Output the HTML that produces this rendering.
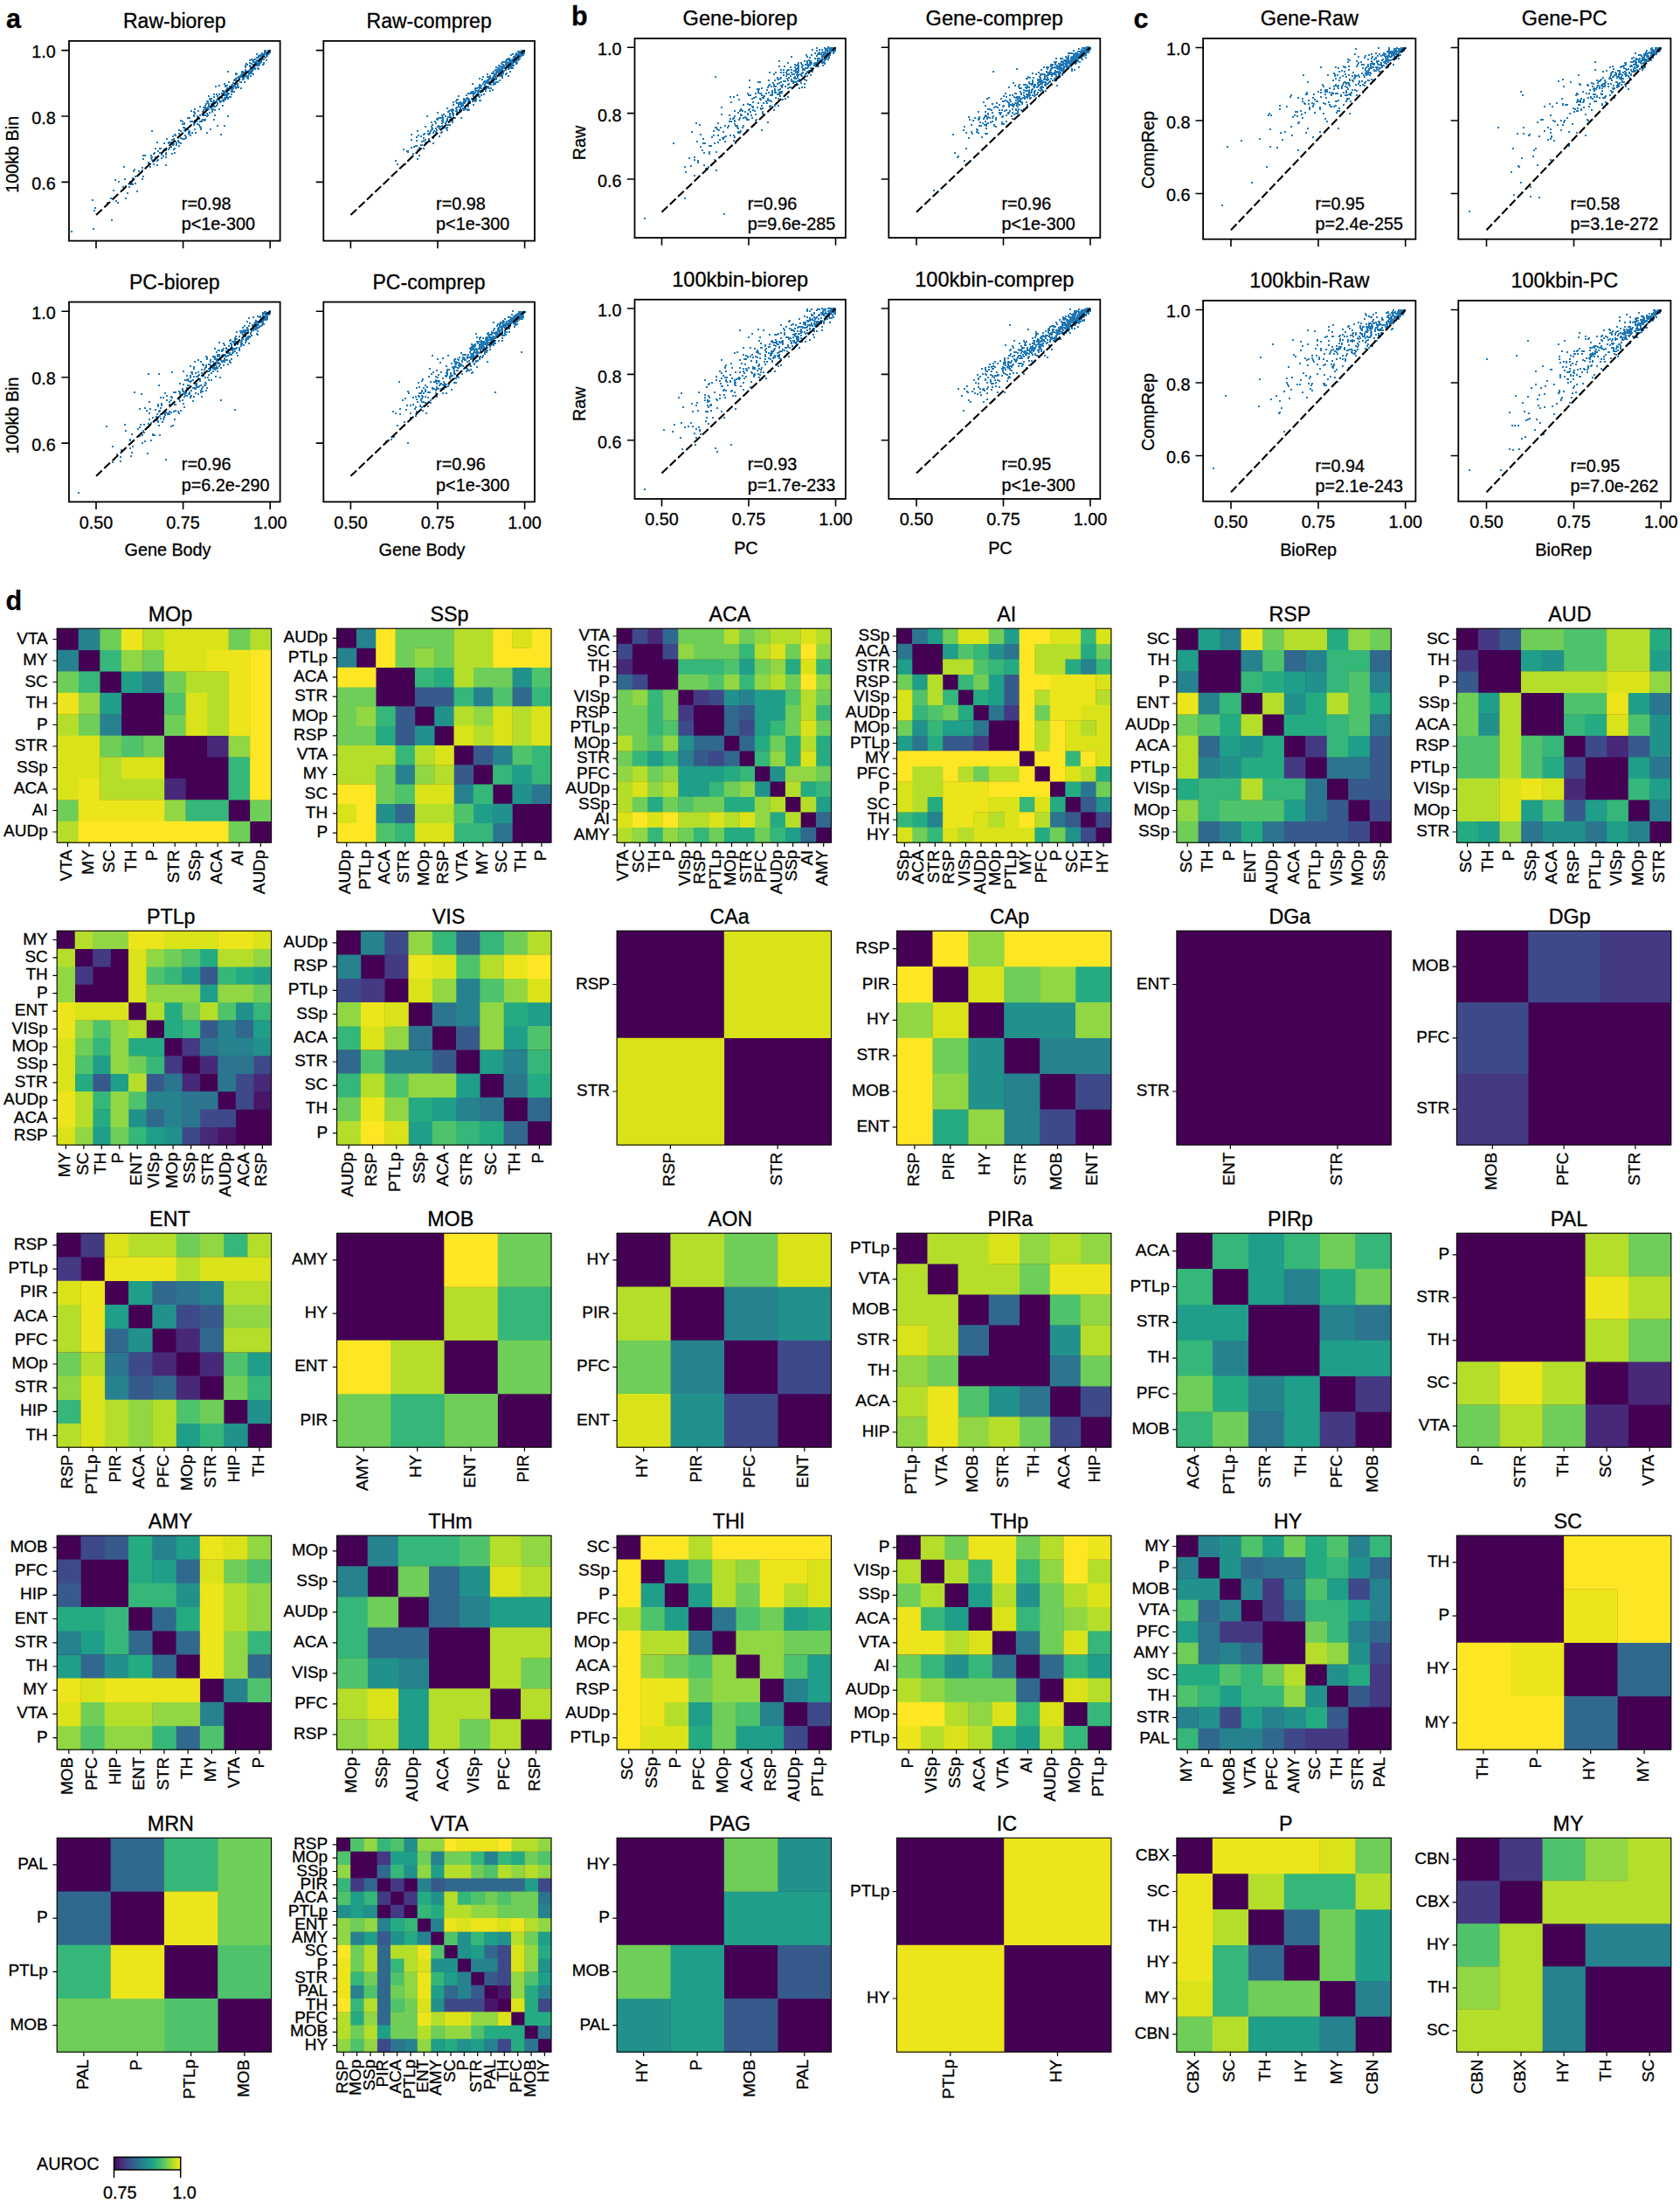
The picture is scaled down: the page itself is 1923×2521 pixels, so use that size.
<!DOCTYPE html>
<html lang="en"><head><meta charset="utf-8"><title>Figure</title>
<style>html,body{margin:0;padding:0;background:#fff;overflow:hidden}svg{display:block}text{stroke:#000;stroke-width:.3px}</style></head>
<body>
<svg width="1923" height="2521" viewBox="0 0 1923 2521" font-family='"Liberation Sans", sans-serif' fill="#000">
<text x="6.9" y="32.2" font-size="30.5" font-weight="bold">a</text>
<path d="M264 101h0M231 139h0M309 59h0M289 69h0M211 159h0M259 112h0M136 208h0M243 119h0M303 58h0M199 159h0M216 153h0M267 98h0M309 60h0M281 80h0M175 185h0M301 65h0M278 88h0M278 90h0M303 59h0M234 128h0M238 132h0M172 191h0M308 58h0M256 104h0M215 148h0M202 164h0M305 62h0M264 111h0M234 138h0M270 90h0M176 188h0M295 69h0M258 99h0M207 150h0M274 91h0M207 138h0M249 110h0M292 75h0M181 173h0M278 85h0M231 138h0M130 227h0M280 86h0M157 219h0M190 172h0M233 131h0M193 171h0M261 113h0M150 211h0M292 74h0M163 195h0M256 116h0M211 146h0M292 79h0M267 99h0M238 116h0M265 103h0M237 130h0M277 82h0M287 81h0M225 139h0M223 138h0M307 58h0M305 69h0M285 85h0M307 62h0M260 110h0M209 159h0M305 64h0M195 163h0M286 84h0M170 188h0M254 107h0M187 179h0M152 206h0M283 74h0M141 214h0M216 151h0M307 60h0M248 121h0M183 175h0M307 58h0M272 97h0M266 100h0M277 82h0M300 68h0M287 77h0M288 83h0M308 61h0M291 77h0M239 110h0M242 124h0M272 96h0M133 230h0M212 150h0M218 139h0M238 124h0M164 178h0M264 100h0M223 129h0M304 61h0M245 115h0M205 167h0M248 116h0M279 87h0M291 76h0M276 101h0M176 176h0M284 83h0M254 112h0M266 100h0M266 100h0M163 192h0M284 88h0M265 105h0M249 113h0M290 75h0M244 122h0M280 88h0M226 142h0M278 88h0M292 68h0M135 232h0M237 116h0M183 170h0M300 68h0M251 108h0M218 155h0M284 90h0M283 89h0M245 121h0M185 177h0M269 99h0M219 143h0M296 79h0M159 196h0M261 112h0M285 84h0M222 143h0M270 101h0M265 108h0M255 115h0M246 118h0M297 67h0M197 160h0M272 99h0M252 117h0M205 163h0M256 105h0M251 125h0M211 141h0M207 158h0M298 72h0M174 183h0M130 218h0M266 97h0M153 196h0M240 122h0M242 113h0M154 194h0M239 125h0M271 85h0M123 232h0M261 102h0M283 87h0M269 97h0M210 146h0M223 148h0M281 81h0M237 124h0M250 112h0M246 132h0M207 155h0M201 155h0M265 104h0M149 208h0M302 73h0M173 181h0M281 87h0M269 91h0M200 175h0M302 62h0M282 84h0M301 63h0M243 126h0M266 102h0M251 98h0M244 125h0M190 175h0M308 59h0M270 101h0M211 142h0M303 58h0M286 83h0M263 111h0M227 127h0M278 82h0M268 92h0M298 63h0M295 75h0M198 164h0M288 84h0M220 152h0M109 238h0M249 119h0M294 62h0M288 78h0M289 80h0M286 76h0M222 128h0M260 101h0M199 171h0M174 183h0M223 130h0M198 166h0M278 91h0M299 63h0M281 83h0M217 153h0M194 169h0M257 112h0M212 147h0M298 68h0M241 115h0M272 89h0M265 108h0M226 133h0M286 75h0M293 71h0M238 118h0M235 132h0M262 107h0M233 123h0M256 114h0M290 85h0M290 71h0M185 181h0M233 132h0M258 114h0M246 126h0M213 157h0M291 77h0M170 186h0M301 74h0M108 241h0M234 137h0M213 157h0M255 104h0M297 69h0M229 145h0M281 75h0M306 64h0M288 77h0M259 103h0M304 58h0M287 81h0M188 164h0M275 94h0M222 132h0M286 83h0M196 168h0M166 178h0M243 119h0M144 213h0M132 206h0M232 128h0M229 139h0M235 123h0M211 159h0M248 108h0M294 66h0M267 101h0M204 162h0M243 119h0M277 88h0M299 71h0M273 88h0M224 152h0M307 61h0M287 80h0M151 210h0M281 83h0M211 159h0M297 67h0M285 81h0M308 60h0M297 74h0M297 74h0M244 117h0M302 68h0M276 88h0M288 73h0M298 64h0M164 182h0M299 69h0M292 79h0M296 66h0M274 89h0M309 60h0M300 66h0M236 119h0M302 62h0M300 64h0M267 95h0M255 107h0M229 132h0M292 73h0M277 83h0M245 121h0M245 108h0M177 184h0M303 60h0M289 77h0M296 72h0M223 125h0M222 142h0M228 143h0M266 103h0M258 108h0M219 127h0M226 135h0M205 149h0M289 81h0M235 125h0M242 116h0M307 60h0M272 97h0M233 126h0M242 119h0M202 166h0M262 103h0M262 103h0M230 148h0M301 63h0M270 92h0M199 165h0M235 137h0M262 94h0M263 99h0M245 111h0M258 98h0M295 73h0M308 59h0M281 85h0M292 75h0M142 216h0M253 111h0M222 133h0M282 82h0M228 136h0M223 141h0M238 123h0M217 152h0M204 161h0M257 107h0M290 79h0M293 73h0M249 119h0M282 73h0M191 159h0M205 153h0M306 61h0M286 69h0M265 98h0M209 153h0M152 204h0M178 180h0M240 113h0M263 101h0M288 68h0M253 116h0M174 180h0M271 100h0M270 85h0M308 60h0M260 105h0M200 154h0M300 61h0M180 189h0M201 162h0M107 262h0M265 99h0M196 165h0M242 123h0M217 150h0M290 77h0M261 108h0M239 121h0M286 72h0M255 121h0M257 107h0M288 80h0M220 139h0M146 221h0M286 80h0M276 94h0M294 69h0M197 163h0M190 172h0M302 63h0M243 122h0M273 100h0M193 163h0M290 74h0M262 103h0M260 98h0M143 205h0M266 105h0M259 110h0M178 170h0M307 60h0M278 91h0M243 128h0M279 90h0M259 108h0M144 227h0M235 128h0M246 126h0M213 158h0M235 121h0M246 122h0M302 65h0M276 86h0M277 84h0M251 115h0M232 131h0M190 177h0M209 139h0M239 119h0M284 87h0M248 116h0M279 83h0M254 107h0M270 84h0M217 135h0M260 107h0M200 162h0M272 100h0M252 111h0M188 171h0M247 99h0M188 171h0M302 72h0M291 78h0M155 202h0M207 164h0M304 66h0M295 73h0M271 92h0M248 117h0M244 125h0M184 170h0M152 211h0M148 214h0M268 105h0M164 202h0M278 84h0M197 176h0M295 72h0M299 65h0M293 75h0M255 108h0M163 205h0M296 64h0M173 178h0M264 99h0M280 94h0M292 78h0M177 175h0M229 122h0M295 70h0M290 70h0M180 184h0M258 108h0M244 119h0M261 101h0M295 78h0M198 156h0M291 68h0M200 170h0M296 75h0M309 58h0M212 155h0M190 189h0M301 63h0M211 149h0M257 109h0M180 163h0M304 62h0M253 116h0M258 105h0M237 133h0M240 129h0M127 227h0M280 88h0M181 183h0M215 135h0M291 71h0M304 60h0M308 58h0M275 87h0M281 77h0M286 80h0M257 96h0M232 137h0M289 77h0M306 64h0M271 96h0M193 164h0M209 142h0M265 104h0M289 77h0M297 70h0M155 210h0M190 180h0M227 135h0M287 87h0M248 115h0M298 68h0M249 118h0M241 148h0M249 144h0M257 144h0M237 152h0M253 154h0M230 146h0M245 137h0M261 133h0M174 150h0M82 265h0M106 229h0M128 252h0M142 191h0M261 82h0" stroke="#1f77b4" stroke-width="2" stroke-linecap="square" fill="none"/>
<path d="M110 246.1L309.2 57.6" stroke="#000" stroke-width="2.1" stroke-dasharray="9.3 3.5" fill="none"/>
<rect x="79" y="46.9" width="241.6" height="228.7" fill="none" stroke="#000" stroke-width="1.8"/>
<path d="M110 275.6v8.6M209.6 275.6v8.6M309.2 275.6v8.6M79 57.6h-8.6M79 133h-8.6M79 208.4h-8.6" stroke="#000" stroke-width="1.6" fill="none"/>
<text x="199.8" y="32.2" font-size="23.0" text-anchor="middle">Raw-biorep</text>
<text x="207.8" y="239.6" font-size="19.8" text-anchor="start">r=0.98</text>
<text x="207.8" y="263.3" font-size="19.8" text-anchor="start">p&lt;1e-300</text>
<text x="63.7" y="66.3" font-size="19.8" text-anchor="end">1.0</text>
<text x="63.7" y="141.7" font-size="19.8" text-anchor="end">0.8</text>
<text x="63.7" y="217.1" font-size="19.8" text-anchor="end">0.6</text>
<path d="M578 77h0M569 81h0M485 158h0M567 85h0M586 72h0M587 68h0M558 95h0M500 136h0M540 107h0M565 90h0M587 78h0M558 92h0M544 103h0M508 146h0M512 149h0M512 143h0M569 81h0M507 147h0M549 105h0M543 107h0M534 109h0M578 78h0M536 115h0M482 166h0M494 140h0M495 143h0M515 134h0M551 109h0M558 99h0M579 74h0M552 105h0M499 141h0M557 94h0M474 168h0M585 69h0M556 95h0M480 170h0M496 152h0M594 59h0M509 146h0M543 111h0M504 135h0M512 136h0M530 124h0M591 71h0M580 74h0M561 87h0M479 155h0M587 69h0M592 62h0M467 184h0M550 101h0M480 169h0M518 129h0M585 69h0M544 102h0M592 68h0M498 139h0M593 66h0M595 66h0M571 85h0M593 69h0M577 78h0M586 70h0M563 92h0M574 78h0M519 132h0M513 134h0M556 104h0M600 58h0M553 104h0M540 113h0M542 110h0M543 107h0M575 88h0M599 62h0M503 146h0M545 104h0M507 138h0M594 60h0M508 131h0M568 84h0M530 120h0M594 66h0M531 125h0M600 59h0M525 122h0M578 77h0M519 130h0M585 72h0M535 112h0M594 63h0M490 153h0M568 85h0M575 83h0M543 114h0M585 70h0M558 93h0M523 127h0M593 66h0M525 110h0M585 74h0M574 82h0M566 87h0M545 113h0M515 132h0M487 145h0M549 98h0M517 127h0M526 119h0M551 101h0M540 106h0M483 162h0M561 94h0M501 145h0M538 107h0M467 174h0M577 75h0M496 164h0M590 63h0M501 129h0M536 107h0M597 62h0M576 83h0M595 61h0M548 110h0M594 61h0M565 91h0M588 65h0M558 88h0M570 94h0M549 101h0M478 172h0M536 122h0M566 91h0M562 93h0M594 60h0M505 152h0M588 65h0M587 62h0M593 63h0M600 58h0M558 95h0M573 87h0M583 71h0M533 115h0M580 73h0M471 154h0M549 99h0M570 82h0M565 82h0M575 86h0M518 138h0M562 93h0M473 176h0M559 91h0M519 132h0M571 75h0M583 67h0M486 153h0M537 115h0M575 78h0M596 60h0M533 123h0M550 100h0M577 75h0M572 81h0M600 60h0M569 80h0M600 60h0M597 60h0M590 69h0M589 66h0M595 65h0M597 58h0M586 69h0M561 88h0M593 65h0M585 77h0M571 75h0M580 76h0M582 68h0M559 92h0M485 154h0M524 114h0M572 81h0M570 78h0M485 170h0M572 79h0M523 128h0M523 126h0M585 71h0M549 101h0M582 67h0M579 85h0M515 132h0M563 94h0M568 81h0M500 149h0M571 81h0M537 116h0M568 83h0M539 106h0M556 99h0M491 154h0M600 61h0M531 117h0M596 59h0M533 121h0M594 60h0M575 89h0M535 126h0M506 151h0M554 102h0M587 70h0M596 62h0M518 131h0M555 94h0M589 70h0M492 162h0M599 61h0M575 71h0M550 115h0M599 59h0M519 120h0M590 65h0M523 131h0M492 153h0M525 118h0M501 137h0M528 127h0M598 58h0M597 60h0M574 76h0M572 76h0M554 101h0M505 152h0M590 66h0M522 116h0M548 100h0M528 120h0M541 96h0M585 76h0M555 93h0M590 69h0M572 83h0M542 108h0M593 59h0M597 64h0M538 116h0M515 143h0M495 147h0M585 73h0M528 119h0M593 67h0M585 73h0M583 69h0M549 104h0M589 66h0M568 83h0M527 125h0M511 147h0M516 126h0M476 167h0M574 76h0M562 101h0M599 63h0M549 115h0M600 60h0M569 80h0M579 74h0M591 66h0M536 113h0M581 72h0M593 65h0M533 115h0M492 152h0M580 84h0M487 160h0M477 157h0M556 99h0M565 90h0M596 63h0M545 109h0M600 59h0M554 100h0M536 121h0M582 87h0M516 136h0M569 94h0M536 125h0M490 150h0M510 133h0M575 89h0M540 106h0M565 87h0M572 87h0M575 77h0M595 67h0M464 188h0M595 67h0M575 85h0M525 118h0M560 101h0M496 158h0M505 148h0M570 83h0M573 83h0M518 125h0M532 123h0M543 115h0M511 139h0M528 122h0M591 69h0M567 86h0M558 85h0M550 106h0M594 63h0M563 84h0M583 76h0M584 76h0M531 126h0M594 62h0M590 66h0M514 134h0M532 118h0M570 79h0M554 94h0M598 63h0M584 72h0M574 81h0M592 63h0M594 64h0M598 61h0M592 66h0M542 120h0M585 72h0M593 66h0M568 84h0M562 97h0M598 61h0M511 143h0M574 86h0M588 66h0M591 67h0M570 83h0M559 100h0M507 140h0M554 108h0M587 72h0M538 116h0M553 96h0M589 67h0M555 99h0M589 65h0M547 104h0M494 148h0M556 93h0M537 114h0M542 111h0M544 106h0M593 65h0M558 93h0M540 105h0M560 89h0M506 144h0M582 79h0M581 75h0M600 58h0M549 97h0M526 126h0M527 124h0M596 59h0M538 116h0M598 60h0M600 60h0M567 80h0M518 127h0M548 103h0M532 125h0M467 173h0M575 80h0M530 119h0M503 147h0M563 91h0M550 104h0M555 97h0M582 68h0M577 77h0M588 75h0M585 75h0M568 94h0M586 74h0M534 113h0M495 148h0M483 166h0M584 71h0M593 67h0M565 97h0M549 111h0M559 99h0M580 70h0M565 96h0M523 118h0M571 78h0M588 70h0M497 150h0M575 83h0M502 145h0M534 113h0M499 147h0M590 63h0M559 88h0M564 89h0M600 58h0M485 161h0M590 66h0M592 69h0M506 138h0M575 80h0M573 86h0M585 63h0M574 85h0M600 60h0M543 107h0M591 73h0M595 65h0M544 116h0M565 94h0M564 90h0M583 72h0M514 127h0M576 76h0M513 128h0M579 74h0M565 92h0M600 59h0M499 151h0M491 159h0M593 59h0M574 78h0M558 94h0M585 69h0M527 117h0M587 75h0M527 123h0M556 103h0M579 77h0M515 137h0M506 132h0M560 91h0M589 71h0M506 141h0M593 68h0M502 144h0M533 114h0M574 80h0M537 126h0M546 108h0M515 130h0M562 90h0M544 101h0M594 67h0M519 126h0M553 103h0M582 73h0M493 150h0M531 115h0M541 114h0M587 69h0M521 135h0M518 140h0M529 118h0M590 67h0M569 94h0M557 101h0M565 89h0M591 61h0M494 145h0M546 101h0M480 178h0M571 85h0M523 123h0M542 107h0M495 148h0M575 81h0M577 71h0M462 171h0M530 121h0M568 91h0M519 117h0M510 141h0M579 72h0M568 77h0M598 63h0M585 70h0M566 90h0M584 70h0M597 60h0M574 73h0M522 124h0M528 122h0M565 84h0M536 116h0M546 108h0M478 150h0M576 83h0M523 129h0M588 69h0M576 84h0M478 182h0M555 93h0M568 90h0M598 61h0M555 100h0M541 116h0M583 78h0M588 68h0M549 90h0M576 76h0M507 136h0M591 72h0M560 94h0M533 125h0M525 120h0M487 160h0M589 68h0M567 88h0M548 108h0M512 146h0M471 169h0M594 68h0M586 75h0M547 106h0M515 138h0M532 117h0M505 135h0M531 118h0M563 90h0M536 115h0M595 60h0M567 96h0M598 59h0M587 74h0M513 143h0M584 72h0M581 77h0M582 72h0M584 68h0M561 104h0M574 82h0M523 114h0M482 156h0M502 135h0M564 89h0M566 95h0M565 95h0M542 105h0M590 63h0M487 163h0M504 145h0M585 71h0M586 77h0M543 111h0M579 70h0M553 88h0M555 99h0M552 91h0M577 81h0M596 64h0M584 82h0M507 134h0M574 83h0M600 61h0M588 67h0M580 75h0M503 156h0M594 59h0M512 138h0M600 59h0M528 135h0M600 59h0M531 113h0M536 118h0M593 64h0M600 58h0M541 105h0M477 167h0M471 160h0M600 59h0M579 80h0M568 89h0M564 103h0M537 118h0M597 58h0M533 116h0M538 118h0M575 79h0M592 72h0M516 134h0M566 86h0M551 98h0M527 128h0M560 89h0M580 68h0M562 94h0M485 154h0M545 115h0M572 92h0M466 173h0M522 127h0M582 74h0M561 96h0M584 73h0M477 161h0M512 124h0M581 76h0M585 78h0M576 74h0M561 89h0M489 133h0M453 184h0M455 188h0" stroke="#1f77b4" stroke-width="2" stroke-linecap="square" fill="none"/>
<path d="M401.4 246.1L600.6 57.6" stroke="#000" stroke-width="2.1" stroke-dasharray="9.3 3.5" fill="none"/>
<rect x="370.3" y="46.9" width="241.7" height="228.7" fill="none" stroke="#000" stroke-width="1.8"/>
<path d="M401.4 275.6v8.6M501 275.6v8.6M600.6 275.6v8.6M370.3 57.6h-8.6M370.3 133h-8.6M370.3 208.4h-8.6" stroke="#000" stroke-width="1.6" fill="none"/>
<text x="491.1" y="32.2" font-size="23.0" text-anchor="middle">Raw-comprep</text>
<text x="499.1" y="239.6" font-size="19.8" text-anchor="start">r=0.98</text>
<text x="499.1" y="263.3" font-size="19.8" text-anchor="start">p&lt;1e-300</text>
<text transform="translate(20.9 176.8) rotate(-90)" font-size="19.8" text-anchor="middle">100kb Bin</text>
<path d="M298 366h0M265 394h0M283 375h0M209 447h0M227 412h0M288 379h0M302 362h0M201 449h0M229 436h0M200 463h0M300 367h0M290 378h0M284 387h0M292 376h0M242 435h0M248 411h0M299 373h0M160 468h0M189 450h0M298 362h0M293 373h0M291 376h0M301 359h0M291 373h0M171 480h0M284 385h0M269 387h0M246 423h0M248 414h0M230 449h0M242 427h0M308 357h0M194 471h0M223 444h0M279 380h0M179 481h0M279 378h0M252 432h0M240 417h0M234 423h0M299 373h0M234 441h0M298 363h0M218 455h0M276 393h0M251 407h0M149 513h0M182 471h0M251 419h0M149 504h0M285 373h0M206 451h0M169 519h0M283 378h0M184 474h0M201 470h0M248 403h0M221 459h0M236 408h0M257 411h0M184 455h0M170 489h0M288 384h0M246 416h0M214 444h0M289 373h0M199 449h0M309 358h0M293 370h0M262 396h0M278 388h0M218 454h0M267 403h0M301 361h0M269 389h0M163 507h0M256 418h0M218 430h0M274 401h0M242 419h0M228 442h0M300 372h0M272 391h0M189 473h0M237 411h0M223 414h0M213 450h0M301 360h0M224 427h0M188 478h0M292 377h0M256 393h0M211 454h0M205 456h0M302 365h0M309 357h0M299 369h0M241 414h0M297 363h0M295 371h0M301 370h0M269 395h0M230 447h0M302 366h0M251 401h0M290 363h0M216 441h0M235 438h0M255 401h0M294 382h0M302 365h0M214 430h0M281 378h0M297 374h0M200 480h0M227 426h0M211 450h0M254 414h0M299 364h0M276 392h0M305 366h0M185 464h0M294 374h0M293 377h0M173 504h0M249 411h0M238 432h0M249 408h0M244 421h0M129 511h0M188 477h0M196 472h0M306 365h0M269 402h0M267 391h0M197 426h0M276 396h0M276 395h0M309 357h0M278 383h0M244 425h0M173 485h0M227 451h0M297 369h0M293 367h0M306 358h0M258 406h0M303 363h0M309 356h0M214 435h0M265 395h0M282 387h0M241 418h0M246 408h0M224 445h0M284 388h0M165 486h0M307 358h0M210 440h0M247 415h0M256 413h0M308 358h0M300 369h0M277 393h0M209 458h0M277 390h0M233 418h0M274 398h0M304 361h0M216 451h0M275 379h0M255 406h0M181 483h0M191 458h0M214 446h0M291 376h0M302 358h0M160 489h0M303 357h0M301 360h0M231 423h0M281 383h0M294 376h0M251 406h0M257 406h0M160 489h0M206 455h0M304 363h0M282 388h0M151 497h0M220 428h0M138 523h0M270 391h0M187 455h0M301 368h0M272 394h0M293 377h0M251 401h0M265 397h0M192 473h0M265 411h0M294 372h0M245 409h0M224 440h0M259 408h0M304 359h0M224 450h0M244 418h0M205 448h0M263 406h0M248 422h0M261 400h0M279 385h0M163 498h0M248 413h0M254 407h0M266 404h0M268 400h0M183 470h0M244 408h0M309 358h0M199 471h0M276 381h0M161 486h0M300 366h0M226 431h0M196 454h0M166 467h0M265 406h0M184 467h0M229 434h0M261 404h0M181 463h0M222 431h0M260 412h0M250 415h0M302 362h0M281 392h0M254 402h0M263 401h0M297 368h0M284 378h0M280 373h0M188 471h0M152 511h0M301 358h0M193 473h0M209 458h0M235 441h0M215 434h0M295 369h0M283 378h0M173 484h0M257 407h0M151 518h0M182 487h0M175 478h0M274 389h0M222 422h0M296 372h0M246 421h0M150 522h0M172 468h0M282 390h0M292 369h0M168 470h0M303 362h0M281 379h0M198 487h0M201 463h0M271 404h0M245 416h0M183 476h0M304 364h0M283 376h0M295 368h0M276 392h0M263 404h0M211 466h0M190 472h0M283 368h0M223 445h0M228 429h0M192 474h0M259 398h0M194 460h0M297 369h0M247 431h0M251 416h0M303 358h0M288 378h0M246 411h0M290 377h0M263 414h0M280 381h0M268 393h0M261 407h0M294 373h0M291 372h0M287 381h0M149 503h0M265 400h0M231 454h0M205 457h0M225 443h0M303 366h0M265 395h0M257 410h0M281 380h0M171 473h0M247 415h0M274 400h0M252 417h0M254 401h0M258 407h0M249 421h0M273 392h0M302 362h0M295 369h0M309 357h0M303 365h0M184 479h0M225 439h0M296 369h0M264 415h0M249 416h0M222 454h0M220 426h0M286 370h0M237 409h0M264 393h0M219 447h0M241 412h0M266 398h0M205 448h0M166 505h0M287 381h0M269 391h0M230 414h0M241 421h0M251 392h0M182 441h0M177 498h0M212 449h0M306 362h0M240 423h0M217 449h0M271 393h0M181 465h0M281 378h0M303 362h0M292 373h0M274 389h0M254 408h0M209 445h0M270 393h0M221 435h0M296 375h0M216 436h0M222 420h0M287 377h0M231 445h0M144 493h0M278 388h0M295 383h0M241 423h0M274 385h0M279 383h0M212 435h0M197 455h0M241 420h0M196 488h0M175 498h0M249 412h0M271 388h0M175 497h0M269 399h0M196 458h0M261 417h0M237 444h0M296 369h0M210 448h0M268 399h0M272 407h0M225 436h0M236 439h0M294 368h0M277 388h0M281 382h0M259 399h0M293 374h0M246 409h0M270 385h0M301 362h0M257 395h0M187 480h0M249 406h0M284 379h0M292 377h0M129 529h0M295 372h0M235 432h0M300 365h0M218 432h0M212 452h0M291 373h0M306 363h0M263 400h0M303 359h0M280 379h0M292 371h0M266 401h0M230 441h0M261 402h0M249 425h0M308 360h0M255 400h0M281 389h0M271 380h0M207 470h0M251 407h0M286 385h0M307 358h0M309 359h0M167 491h0M165 495h0M206 459h0M225 431h0M219 426h0M214 453h0M178 469h0M239 422h0M298 367h0M210 425h0M302 371h0M269 399h0M232 448h0M240 424h0M281 385h0M182 428h0M231 427h0M295 362h0M232 417h0M267 399h0M206 449h0M278 375h0M139 515h0M210 448h0M235 421h0M279 395h0M186 483h0M227 430h0M219 436h0M287 382h0M253 412h0M187 473h0M289 376h0M289 372h0M296 369h0M252 409h0M288 384h0M257 414h0M180 474h0M263 413h0M259 402h0M301 367h0M256 414h0M284 377h0M217 451h0M258 412h0M225 443h0M231 430h0M285 364h0M295 379h0M284 380h0M245 420h0M277 381h0M244 422h0M285 393h0M277 379h0M277 394h0M245 418h0M253 421h0M269 402h0M294 373h0M256 399h0M266 391h0M248 420h0M291 371h0M304 362h0M134 520h0M295 369h0M239 417h0M138 528h0M213 449h0M179 477h0M301 363h0M256 413h0M304 357h0M300 367h0M236 418h0M194 463h0M276 380h0M236 447h0M171 460h0M239 425h0M253 421h0M274 389h0M218 419h0M244 414h0M239 435h0M225 441h0M206 439h0M286 386h0M233 430h0M181 482h0M306 359h0M149 513h0M250 401h0M271 398h0M227 443h0M185 462h0M236 420h0M183 498h0M290 372h0M293 369h0M239 429h0M170 485h0M254 407h0M223 444h0M254 413h0M194 474h0M247 418h0M204 471h0M290 375h0M205 473h0M164 493h0M160 499h0M219 453h0M216 436h0M246 399h0M263 390h0M232 443h0M191 453h0M234 426h0M180 480h0M254 414h0M277 387h0M264 389h0M218 437h0M189 475h0M301 367h0M221 444h0M158 491h0M143 486h0M210 462h0M284 381h0M276 391h0M270 399h0M215 441h0M90 564h0M269 469h0M253 458h0M170 428h0M154 449h0M162 451h0M190 526h0M122 488h0" stroke="#1f77b4" stroke-width="2" stroke-linecap="square" fill="none"/>
<path d="M110 544.8L309.2 356.3" stroke="#000" stroke-width="2.1" stroke-dasharray="9.3 3.5" fill="none"/>
<rect x="79" y="345.6" width="241.6" height="228.7" fill="none" stroke="#000" stroke-width="1.8"/>
<path d="M110 574.3v8.6M209.6 574.3v8.6M309.2 574.3v8.6M79 356.3h-8.6M79 431.7h-8.6M79 507.1h-8.6" stroke="#000" stroke-width="1.6" fill="none"/>
<text x="199.8" y="330.9" font-size="23.0" text-anchor="middle">PC-biorep</text>
<text x="207.8" y="538.3" font-size="19.8" text-anchor="start">r=0.96</text>
<text x="207.8" y="562" font-size="19.8" text-anchor="start">p=6.2e-290</text>
<text x="63.7" y="365" font-size="19.8" text-anchor="end">1.0</text>
<text x="63.7" y="440.4" font-size="19.8" text-anchor="end">0.8</text>
<text x="63.7" y="515.8" font-size="19.8" text-anchor="end">0.6</text>
<text x="110" y="604.9" font-size="19.8" text-anchor="middle">0.50</text>
<text x="209.6" y="604.9" font-size="19.8" text-anchor="middle">0.75</text>
<text x="309.2" y="604.9" font-size="19.8" text-anchor="middle">1.00</text>
<text x="192" y="636.3" font-size="19.8" text-anchor="middle">Gene Body</text>
<path d="M549 411h0M543 417h0M541 426h0M527 419h0M554 397h0M483 448h0M546 391h0M568 385h0M515 431h0M597 358h0M594 357h0M463 483h0M580 370h0M504 439h0M573 382h0M549 394h0M593 365h0M542 413h0M536 406h0M526 419h0M503 441h0M585 370h0M552 394h0M541 409h0M583 368h0M583 369h0M585 364h0M598 357h0M594 359h0M550 400h0M549 399h0M593 364h0M545 382h0M596 361h0M592 361h0M563 380h0M566 393h0M575 382h0M592 365h0M567 390h0M578 382h0M543 408h0M590 361h0M480 450h0M598 359h0M555 394h0M545 414h0M550 394h0M549 397h0M523 431h0M536 409h0M599 358h0M499 446h0M534 420h0M521 428h0M567 390h0M553 393h0M550 396h0M556 392h0M539 409h0M562 391h0M578 365h0M522 438h0M517 416h0M526 416h0M583 371h0M516 431h0M594 362h0M485 465h0M522 433h0M520 424h0M591 371h0M574 374h0M576 371h0M558 414h0M592 368h0M565 385h0M507 433h0M562 388h0M543 401h0M598 357h0M565 381h0M483 436h0M553 396h0M563 383h0M571 390h0M528 418h0M561 397h0M521 411h0M504 415h0M577 373h0M565 393h0M550 399h0M546 402h0M595 360h0M499 431h0M493 437h0M540 427h0M559 383h0M578 378h0M541 410h0M595 357h0M583 372h0M513 442h0M476 476h0M473 463h0M579 370h0M566 376h0M575 378h0M455 487h0M558 382h0M568 386h0M541 396h0M556 392h0M581 372h0M589 367h0M580 372h0M530 419h0M574 382h0M593 363h0M502 445h0M485 450h0M590 365h0M540 409h0M563 389h0M562 390h0M500 424h0M586 368h0M548 404h0M571 383h0M568 380h0M492 449h0M572 381h0M525 421h0M483 453h0M512 427h0M511 427h0M490 465h0M563 394h0M598 365h0M558 387h0M600 358h0M572 373h0M560 389h0M598 357h0M570 382h0M539 408h0M539 419h0M481 465h0M549 404h0M453 473h0M540 394h0M562 391h0M572 379h0M540 405h0M543 410h0M520 438h0M485 460h0M535 422h0M565 388h0M558 393h0M595 362h0M586 369h0M587 366h0M477 471h0M541 400h0M547 413h0M550 398h0M594 360h0M591 367h0M507 450h0M554 391h0M600 358h0M523 415h0M551 392h0M484 454h0M568 383h0M487 441h0M561 387h0M531 422h0M525 418h0M554 391h0M582 371h0M561 388h0M592 364h0M579 375h0M562 395h0M597 363h0M547 393h0M549 404h0M574 377h0M529 428h0M563 387h0M598 361h0M501 411h0M470 478h0M541 414h0M532 406h0M550 391h0M511 450h0M597 358h0M591 361h0M580 380h0M580 370h0M515 433h0M507 444h0M575 380h0M524 424h0M549 409h0M546 386h0M561 392h0M481 464h0M521 416h0M559 392h0M520 413h0M547 403h0M554 393h0M551 397h0M563 387h0M585 370h0M597 359h0M549 388h0M557 397h0M594 364h0M595 362h0M466 464h0M499 437h0M521 415h0M550 408h0M554 394h0M540 408h0M504 440h0M510 430h0M597 364h0M564 386h0M526 417h0M558 401h0M585 370h0M573 371h0M593 364h0M587 366h0M552 399h0M597 361h0M565 391h0M508 437h0M540 397h0M579 371h0M564 391h0M570 376h0M495 445h0M584 373h0M558 389h0M582 375h0M493 461h0M544 394h0M575 387h0M572 378h0M555 405h0M557 393h0M585 370h0M537 413h0M589 374h0M588 367h0M511 431h0M575 382h0M585 369h0M586 364h0M573 383h0M519 422h0M524 430h0M535 408h0M556 389h0M492 422h0M458 468h0M545 400h0M588 362h0M578 380h0M540 399h0M565 389h0M573 382h0M543 397h0M582 371h0M580 368h0M500 454h0M526 416h0M546 405h0M547 403h0M561 400h0M587 364h0M542 404h0M509 441h0M514 440h0M561 394h0M521 411h0M478 460h0M597 360h0M521 419h0M597 360h0M546 400h0M586 365h0M575 376h0M560 385h0M593 366h0M598 359h0M580 376h0M507 433h0M546 403h0M597 360h0M487 454h0M521 415h0M507 440h0M493 458h0M551 393h0M556 387h0M560 392h0M500 439h0M508 441h0M562 390h0M505 426h0M571 377h0M590 365h0M516 429h0M484 470h0M480 454h0M519 420h0M563 381h0M586 360h0M532 410h0M587 364h0M578 381h0M450 471h0M565 381h0M542 395h0M497 437h0M591 362h0M597 357h0M490 455h0M514 423h0M551 390h0M583 374h0M575 383h0M525 415h0M594 362h0M499 435h0M584 368h0M509 439h0M599 357h0M524 411h0M553 398h0M545 404h0M483 466h0M592 361h0M582 363h0M511 443h0M577 372h0M525 412h0M476 466h0M535 414h0M442 505h0M551 403h0M585 369h0M543 400h0M561 388h0M557 387h0M573 378h0M556 401h0M591 360h0M530 406h0M581 375h0M494 428h0M595 359h0M584 370h0M570 371h0M575 390h0M543 416h0M560 386h0M598 359h0M588 370h0M477 444h0M530 411h0M592 368h0M575 380h0M533 406h0M596 357h0M583 380h0M553 394h0M557 395h0M534 425h0M597 359h0M596 365h0M542 409h0M559 381h0M574 375h0M501 432h0M593 361h0M458 474h0M573 374h0M534 420h0M497 445h0M560 385h0M561 393h0M523 424h0M539 398h0M528 404h0M520 428h0M593 365h0M587 365h0M477 457h0M589 368h0M551 393h0M549 395h0M553 395h0M565 369h0M548 391h0M541 400h0M502 429h0M587 356h0M577 371h0M601 357h0M545 400h0M512 429h0M561 393h0M593 362h0M598 358h0M495 444h0M539 411h0M589 363h0M525 432h0M585 366h0M535 410h0M551 396h0M488 473h0M549 387h0M535 424h0M598 361h0M592 361h0M483 460h0M540 410h0M539 423h0M587 369h0M503 436h0M524 415h0M600 357h0M578 374h0M545 399h0M563 391h0M583 374h0M573 369h0M599 359h0M526 409h0M548 399h0M595 357h0M470 473h0M530 410h0M529 413h0M600 357h0M589 364h0M595 363h0M538 409h0M588 368h0M594 359h0M556 394h0M448 503h0M566 387h0M598 359h0M556 399h0M511 419h0M580 372h0M599 357h0M545 408h0M584 372h0M571 375h0M451 500h0M567 382h0M578 375h0M537 413h0M533 412h0M511 440h0M465 469h0M538 417h0M519 434h0M553 387h0M543 409h0M599 363h0M592 360h0M591 367h0M467 507h0M592 364h0M563 382h0M501 436h0M575 369h0M538 409h0M512 425h0M499 450h0M522 420h0M577 368h0M576 374h0M502 437h0M552 409h0M520 426h0M537 418h0M512 423h0M499 447h0M562 386h0M566 391h0M484 434h0M592 367h0M595 361h0M507 410h0M554 394h0M572 384h0M583 368h0M563 382h0M539 401h0M579 383h0M594 361h0M599 362h0M479 438h0M532 412h0M580 375h0M595 359h0M597 358h0M596 363h0M569 373h0M541 408h0M577 384h0M464 456h0M461 458h0M520 412h0M574 375h0M509 440h0M575 373h0M467 448h0M565 381h0M596 357h0M595 363h0M584 366h0M542 398h0M555 403h0M557 403h0M597 361h0M561 388h0M571 378h0M591 365h0M544 403h0M524 421h0M551 396h0M563 383h0M588 365h0M516 427h0M585 368h0M546 405h0M570 377h0M500 445h0M584 363h0M541 405h0M520 421h0M545 407h0M500 443h0M600 357h0M533 412h0M562 392h0M533 421h0M557 392h0M599 357h0M518 420h0M538 399h0M525 421h0M591 371h0M490 449h0M590 372h0M521 433h0M600 358h0M489 443h0M558 395h0M554 399h0M572 380h0M553 407h0M487 446h0M552 398h0M550 386h0M487 461h0M582 367h0M590 368h0M557 386h0M595 363h0M538 403h0M596 362h0M564 391h0M528 417h0M570 379h0M479 453h0M468 450h0M522 414h0M546 420h0M505 439h0M537 424h0M504 440h0M483 447h0M508 445h0M583 376h0M532 412h0M592 364h0M576 369h0M519 421h0M482 450h0M572 371h0M550 402h0M570 382h0M505 445h0M557 390h0M598 357h0M480 443h0M542 405h0M549 404h0M581 376h0M589 371h0M522 420h0M597 357h0M517 446h0M592 371h0M541 395h0M565 395h0M591 363h0M594 366h0M485 444h0M556 388h0M569 381h0M558 386h0M543 403h0M552 393h0M576 367h0M593 359h0M475 468h0M573 383h0M483 456h0M598 359h0M529 414h0M476 466h0M553 391h0M561 388h0M582 370h0M540 407h0M530 409h0M590 369h0M491 431h0M583 369h0M522 417h0M476 454h0M561 383h0M473 455h0M579 373h0M482 457h0M567 393h0M487 448h0M542 407h0M482 458h0M513 407h0M575 387h0M558 391h0M595 357h0M544 396h0M565 378h0M493 458h0M558 398h0M574 375h0M567 386h0M496 426h0M535 409h0M470 464h0M567 381h0M597 360h0M575 377h0M518 430h0M569 383h0M567 387h0M539 405h0M575 384h0M545 413h0M584 367h0M597 403h0M567 449h0M457 437h0M495 407h0" stroke="#1f77b4" stroke-width="2" stroke-linecap="square" fill="none"/>
<path d="M401.4 544.8L600.6 356.3" stroke="#000" stroke-width="2.1" stroke-dasharray="9.3 3.5" fill="none"/>
<rect x="370.3" y="345.6" width="241.7" height="228.7" fill="none" stroke="#000" stroke-width="1.8"/>
<path d="M401.4 574.3v8.6M501 574.3v8.6M600.6 574.3v8.6M370.3 356.3h-8.6M370.3 431.7h-8.6M370.3 507.1h-8.6" stroke="#000" stroke-width="1.6" fill="none"/>
<text x="491.1" y="330.9" font-size="23.0" text-anchor="middle">PC-comprep</text>
<text x="499.1" y="538.3" font-size="19.8" text-anchor="start">r=0.96</text>
<text x="499.1" y="562" font-size="19.8" text-anchor="start">p&lt;1e-300</text>
<text x="401.4" y="604.9" font-size="19.8" text-anchor="middle">0.50</text>
<text x="501" y="604.9" font-size="19.8" text-anchor="middle">0.75</text>
<text x="600.6" y="604.9" font-size="19.8" text-anchor="middle">1.00</text>
<text x="483" y="636.3" font-size="19.8" text-anchor="middle">Gene Body</text>
<text transform="translate(20.9 475.5) rotate(-90)" font-size="19.8" text-anchor="middle">100kb Bin</text>
<text x="654.0" y="29.2" font-size="30.5" font-weight="bold">b</text>
<path d="M853 128h0M923 84h0M902 111h0M877 116h0M918 74h0M881 122h0M883 99h0M815 157h0M939 69h0M956 55h0M844 146h0M935 72h0M857 137h0M823 149h0M949 55h0M924 82h0M927 66h0M886 126h0M871 124h0M820 174h0M870 94h0M893 105h0M942 60h0M942 75h0M834 144h0M863 112h0M812 167h0M879 140h0M929 72h0M841 127h0M950 55h0M949 58h0M944 72h0M846 137h0M865 107h0M893 107h0M928 70h0M862 126h0M954 55h0M950 56h0M950 61h0M954 61h0M925 75h0M872 109h0M926 81h0M841 138h0M913 87h0M808 193h0M921 91h0M897 93h0M950 59h0M921 100h0M921 96h0M944 65h0M921 79h0M861 113h0M847 151h0M933 67h0M910 90h0M948 63h0M945 63h0M954 56h0M848 125h0M805 159h0M950 61h0M895 100h0M944 69h0M928 78h0M956 56h0M902 97h0M851 120h0M886 99h0M911 79h0M880 106h0M910 77h0M941 65h0M868 104h0M927 71h0M946 58h0M795 183h0M955 59h0M840 161h0M923 63h0M905 87h0M845 129h0M921 80h0M911 90h0M950 61h0M950 63h0M861 122h0M887 104h0M861 135h0M912 97h0M890 108h0M951 59h0M812 174h0M938 62h0M845 151h0M807 164h0M826 131h0M945 58h0M941 72h0M872 149h0M891 91h0M952 55h0M941 69h0M948 54h0M919 83h0M919 80h0M806 189h0M830 144h0M859 128h0M944 66h0M869 102h0M941 64h0M840 161h0M903 85h0M820 146h0M845 147h0M879 113h0M913 84h0M943 65h0M950 59h0M954 55h0M951 60h0M840 111h0M836 155h0M935 73h0M944 55h0M858 92h0M871 114h0M862 123h0M795 201h0M900 83h0M874 110h0M871 125h0M849 126h0M856 107h0M914 78h0M892 76h0M857 109h0M923 74h0M849 132h0M878 103h0M913 74h0M835 132h0M936 62h0M877 107h0M913 78h0M917 72h0M945 63h0M949 65h0M894 80h0M913 79h0M948 62h0M858 120h0M884 108h0M896 114h0M953 57h0M873 130h0M942 63h0M948 61h0M890 89h0M925 77h0M835 139h0M883 109h0M884 109h0M818 183h0M947 56h0M947 60h0M947 63h0M859 120h0M799 186h0M895 105h0M913 82h0M901 81h0M882 109h0M811 191h0M945 65h0M837 117h0M947 64h0M921 70h0M932 73h0M817 150h0M884 106h0M865 138h0M884 109h0M881 83h0M910 88h0M886 97h0M906 93h0M948 61h0M836 139h0M953 55h0M935 55h0M919 80h0M924 78h0M864 127h0M848 150h0M949 66h0M900 87h0M842 164h0M950 55h0M935 64h0M799 184h0M920 89h0M874 112h0M833 146h0M938 60h0M909 94h0M947 62h0M912 86h0M918 84h0M892 106h0M948 68h0M887 120h0M936 73h0M909 89h0M938 61h0M836 111h0M886 85h0M856 119h0M898 76h0M868 118h0M828 159h0M930 57h0M948 65h0M937 71h0M785 197h0M929 63h0M893 105h0M885 95h0M888 106h0M841 157h0M862 117h0M925 75h0M946 67h0M934 76h0M945 66h0M956 56h0M847 127h0M926 74h0M817 155h0M899 99h0M890 96h0M872 121h0M955 59h0M954 59h0M945 61h0M884 104h0M859 109h0M887 121h0M818 164h0M907 85h0M922 85h0M944 61h0M856 130h0M942 71h0M945 56h0M930 82h0M872 101h0M822 163h0M883 116h0M855 137h0M855 136h0M902 101h0M837 139h0M944 73h0M897 83h0M893 90h0M905 77h0M905 100h0M918 100h0M944 66h0M857 126h0M888 99h0M936 71h0M936 69h0M795 180h0M866 137h0M935 58h0M910 97h0M943 62h0M822 141h0M948 63h0M841 139h0M924 65h0M949 61h0M798 162h0M888 99h0M850 127h0M940 62h0M791 190h0M841 142h0M897 86h0M919 79h0M943 61h0M845 152h0M929 73h0M955 57h0M926 69h0M901 90h0M867 123h0M929 78h0M927 72h0M846 114h0M922 78h0M802 154h0M948 62h0M867 102h0M914 92h0M951 57h0M851 144h0M919 75h0M870 107h0M911 94h0M881 115h0M851 135h0M800 202h0M888 112h0M895 106h0M901 85h0M948 54h0M939 69h0M824 160h0M942 63h0M874 118h0M914 86h0M880 98h0M944 62h0M936 69h0M879 115h0M894 83h0M947 64h0M950 58h0M915 92h0M934 74h0M873 112h0M842 144h0M924 73h0M848 132h0M913 97h0M820 195h0M890 90h0M933 75h0M933 61h0M828 151h0M943 68h0M865 111h0M953 58h0M902 92h0M873 124h0M924 72h0M914 75h0M932 75h0M888 83h0M908 93h0M945 61h0M917 95h0M784 227h0M902 72h0M914 72h0M927 66h0M887 121h0M945 61h0M807 164h0M899 93h0M913 82h0M936 74h0M806 175h0M915 93h0M955 57h0M894 94h0M860 132h0M916 85h0M829 157h0M894 98h0M819 146h0M903 89h0M789 181h0M942 72h0M893 102h0M947 57h0M830 162h0M944 65h0M913 93h0M902 80h0M853 134h0M908 95h0M911 81h0M937 61h0M918 77h0M914 76h0M936 67h0M941 66h0M828 158h0M831 156h0M812 176h0M956 55h0M814 167h0M887 102h0M821 148h0M884 105h0M937 76h0M878 118h0M930 80h0M891 121h0M875 110h0M891 113h0M945 68h0M840 155h0M881 97h0M941 67h0M906 80h0M847 135h0M827 158h0M871 107h0M836 136h0M848 131h0M929 81h0M856 131h0M850 146h0M891 103h0M902 92h0M941 57h0M880 92h0M906 83h0M924 70h0M909 85h0M892 70h0M897 80h0M906 65h0M840 135h0M841 133h0M887 92h0M914 82h0M953 55h0M865 131h0M941 60h0M822 155h0M894 89h0M936 70h0M928 86h0M914 80h0M903 80h0M882 121h0M856 137h0M887 106h0M933 72h0M855 149h0M858 100h0M952 55h0M854 135h0M899 113h0M892 95h0M844 109h0M868 106h0M912 75h0M904 100h0M928 73h0M942 72h0M826 123h0M805 164h0M915 101h0M944 73h0M802 168h0M804 172h0M943 65h0M944 60h0M792 151h0M953 55h0M863 143h0M906 91h0M873 128h0M892 108h0M839 136h0M942 65h0M954 59h0M927 75h0M915 91h0M825 146h0M937 70h0M954 55h0M916 85h0M879 100h0M858 125h0M938 67h0M932 75h0M950 58h0M956 58h0M938 57h0M918 87h0M784 191h0M903 96h0M913 89h0M911 83h0M844 144h0M917 86h0M924 87h0M947 65h0M936 76h0M868 94h0M847 152h0M893 110h0M953 56h0M910 74h0M826 179h0M874 131h0M870 113h0M947 59h0M943 71h0M923 92h0M913 93h0M939 62h0M944 63h0M909 81h0M895 99h0M896 97h0M922 74h0M862 122h0M738 250h0M819 88h0M829 245h0M771 164h0M797 141h0M801 143h0" stroke="#1f77b4" stroke-width="2" stroke-linecap="square" fill="none"/>
<path d="M757.5 242.7L956.5 54.2" stroke="#000" stroke-width="2.1" stroke-dasharray="9.3 3.5" fill="none"/>
<rect x="726.5" y="44" width="241.4" height="228.1" fill="none" stroke="#000" stroke-width="1.8"/>
<path d="M757.5 272.1v8.6M857 272.1v8.6M956.5 272.1v8.6M726.5 54.2h-8.6M726.5 129.6h-8.6M726.5 205h-8.6" stroke="#000" stroke-width="1.6" fill="none"/>
<text x="847.2" y="28.9" font-size="23.6" text-anchor="middle">Gene-biorep</text>
<text x="855.7" y="239.6" font-size="19.8" text-anchor="start">r=0.96</text>
<text x="855.7" y="263.3" font-size="19.8" text-anchor="start">p=9.6e-285</text>
<text x="711.6" y="63.4" font-size="19.8" text-anchor="end">1.0</text>
<text x="711.6" y="138.8" font-size="19.8" text-anchor="end">0.8</text>
<text x="711.6" y="214.2" font-size="19.8" text-anchor="end">0.6</text>
<path d="M1159 109h0M1184 106h0M1225 76h0M1236 66h0M1163 130h0M1239 64h0M1189 98h0M1201 94h0M1241 57h0M1147 126h0M1211 83h0M1120 128h0M1211 76h0M1240 60h0M1235 56h0M1191 85h0M1229 71h0M1226 68h0M1231 68h0M1128 153h0M1209 71h0M1183 89h0M1205 92h0M1200 85h0M1247 58h0M1195 85h0M1137 133h0M1238 63h0M1104 145h0M1209 82h0M1146 129h0M1233 61h0M1188 99h0M1163 107h0M1125 141h0M1202 82h0M1161 111h0M1233 62h0M1202 93h0M1246 58h0M1144 129h0M1205 74h0M1203 90h0M1166 115h0M1245 57h0M1212 73h0M1181 105h0M1164 111h0M1166 125h0M1118 151h0M1166 111h0M1218 76h0M1152 139h0M1211 77h0M1154 130h0M1176 90h0M1220 75h0M1223 61h0M1191 90h0M1218 73h0M1168 115h0M1213 80h0M1126 136h0M1169 126h0M1176 98h0M1223 78h0M1220 75h0M1243 66h0M1106 152h0M1226 66h0M1227 68h0M1245 55h0M1179 106h0M1225 70h0M1215 71h0M1180 106h0M1202 84h0M1142 123h0M1191 96h0M1202 85h0M1241 59h0M1226 72h0M1126 117h0M1159 121h0M1216 67h0M1210 75h0M1236 71h0M1230 66h0M1223 67h0M1120 137h0M1237 65h0M1233 64h0M1179 112h0M1200 95h0M1207 85h0M1242 58h0M1208 73h0M1154 117h0M1133 125h0M1163 125h0M1234 69h0M1212 83h0M1189 83h0M1226 76h0M1213 88h0M1214 79h0M1247 56h0M1246 60h0M1199 91h0M1185 109h0M1244 56h0M1190 91h0M1192 92h0M1225 71h0M1221 74h0M1212 79h0M1175 111h0M1228 73h0M1152 132h0M1166 112h0M1191 100h0M1120 136h0M1175 123h0M1220 71h0M1239 59h0M1116 135h0M1159 119h0M1140 145h0M1226 74h0M1169 101h0M1150 127h0M1245 58h0M1221 76h0M1210 82h0M1193 95h0M1241 64h0M1238 63h0M1238 58h0M1221 66h0M1194 94h0M1173 111h0M1172 97h0M1239 61h0M1138 144h0M1178 105h0M1210 77h0M1203 76h0M1248 55h0M1215 75h0M1171 112h0M1198 82h0M1235 62h0M1155 118h0M1227 74h0M1245 57h0M1245 57h0M1235 77h0M1232 62h0M1196 91h0M1234 65h0M1193 96h0M1155 120h0M1223 71h0M1240 64h0M1166 112h0M1133 135h0M1227 69h0M1231 72h0M1194 94h0M1180 112h0M1223 70h0M1167 101h0M1202 81h0M1210 83h0M1197 94h0M1176 110h0M1223 70h0M1185 104h0M1129 144h0M1227 81h0M1212 84h0M1148 133h0M1093 175h0M1238 57h0M1159 129h0M1192 103h0M1127 134h0M1213 85h0M1191 96h0M1220 73h0M1233 65h0M1179 109h0M1151 115h0M1136 119h0M1182 109h0M1113 153h0M1103 149h0M1204 87h0M1184 107h0M1211 83h0M1200 83h0M1234 68h0M1169 108h0M1200 86h0M1165 118h0M1213 76h0M1188 92h0M1121 134h0M1244 54h0M1140 145h0M1230 63h0M1172 103h0M1207 77h0M1230 71h0M1144 120h0M1122 140h0M1209 88h0M1191 86h0M1129 147h0M1202 93h0M1235 62h0M1234 67h0M1184 97h0M1168 113h0M1242 58h0M1135 126h0M1193 93h0M1208 77h0M1208 77h0M1212 85h0M1242 55h0M1182 96h0M1220 74h0M1205 78h0M1239 55h0M1131 130h0M1124 157h0M1169 107h0M1230 68h0M1162 118h0M1230 65h0M1215 79h0M1149 110h0M1208 81h0M1128 139h0M1221 69h0M1228 65h0M1156 109h0M1175 101h0M1240 60h0M1185 98h0M1176 122h0M1213 87h0M1114 138h0M1239 62h0M1203 74h0M1186 85h0M1243 62h0M1157 116h0M1244 60h0M1164 121h0M1203 84h0M1236 64h0M1239 61h0M1218 77h0M1199 89h0M1196 86h0M1214 83h0M1161 111h0M1236 66h0M1221 71h0M1185 97h0M1179 109h0M1191 94h0M1233 68h0M1156 127h0M1182 92h0M1147 142h0M1131 131h0M1112 143h0M1236 65h0M1216 71h0M1149 116h0M1209 90h0M1232 63h0M1220 72h0M1185 104h0M1209 78h0M1233 62h0M1233 67h0M1204 97h0M1198 87h0M1217 80h0M1216 86h0M1165 117h0M1104 184h0M1129 142h0M1146 113h0M1210 98h0M1203 83h0M1189 103h0M1212 82h0M1192 100h0M1181 97h0M1205 84h0M1224 75h0M1106 170h0M1109 158h0M1128 128h0M1218 82h0M1136 129h0M1174 104h0M1227 79h0M1234 59h0M1221 73h0M1229 58h0M1151 107h0M1190 97h0M1231 67h0M1155 129h0M1208 91h0M1220 70h0M1232 67h0M1200 91h0M1123 144h0M1201 83h0M1203 80h0M1188 96h0M1189 97h0M1227 69h0M1214 67h0M1159 136h0M1170 119h0M1230 65h0M1207 83h0M1193 85h0M1152 111h0M1175 90h0M1184 105h0M1176 100h0M1209 83h0M1162 107h0M1223 71h0M1219 70h0M1221 77h0M1188 95h0M1161 120h0M1240 61h0M1140 135h0M1223 77h0M1245 55h0M1163 112h0M1222 67h0M1207 90h0M1164 130h0M1218 79h0M1208 84h0M1239 58h0M1229 62h0M1152 111h0M1204 76h0M1217 72h0M1178 103h0M1241 62h0M1223 68h0M1196 94h0M1230 70h0M1241 57h0M1231 66h0M1199 83h0M1173 113h0M1193 85h0M1240 58h0M1193 94h0M1216 81h0M1192 101h0M1191 104h0M1204 76h0M1187 108h0M1156 114h0M1208 84h0M1167 116h0M1240 62h0M1191 95h0M1214 73h0M1222 70h0M1112 151h0M1238 66h0M1209 92h0M1192 80h0M1240 64h0M1231 73h0M1204 78h0M1231 73h0M1128 132h0M1236 59h0M1219 73h0M1227 65h0M1184 110h0M1097 179h0M1136 135h0M1195 91h0M1222 73h0M1196 88h0M1226 74h0M1172 125h0M1230 65h0M1157 120h0M1188 91h0M1177 88h0M1225 70h0M1211 77h0M1196 97h0M1138 123h0M1148 122h0M1131 134h0M1222 68h0M1209 89h0M1153 116h0M1190 92h0M1166 99h0M1165 129h0M1206 85h0M1182 84h0M1145 131h0M1234 66h0M1109 134h0M1209 67h0M1225 70h0M1222 76h0M1215 81h0M1163 118h0M1197 96h0M1231 70h0M1228 68h0M1121 144h0M1216 74h0M1204 85h0M1202 94h0M1191 89h0M1183 99h0M1232 68h0M1244 58h0M1245 55h0M1224 71h0M1205 85h0M1214 74h0M1178 95h0M1128 143h0M1184 100h0M1197 98h0M1172 109h0M1178 100h0M1121 136h0M1203 85h0M1191 95h0M1191 100h0M1211 79h0M1212 86h0M1176 104h0M1163 115h0M1176 112h0M1165 111h0M1235 64h0M1239 58h0M1199 92h0M1211 78h0M1223 64h0M1189 94h0M1221 69h0M1164 119h0M1127 143h0M1194 106h0M1189 97h0M1231 71h0M1237 61h0M1197 104h0M1233 69h0M1241 59h0M1199 86h0M1243 63h0M1178 107h0M1130 113h0M1246 55h0M1208 82h0M1230 80h0M1170 117h0M1215 75h0M1144 126h0M1130 134h0M1217 71h0M1184 99h0M1135 126h0M1176 120h0M1160 95h0M1246 57h0M1240 62h0M1199 79h0M1189 92h0M1179 96h0M1243 60h0M1157 116h0M1181 96h0M1138 143h0M1245 57h0M1178 106h0M1227 70h0M1225 74h0M1096 180h0M1149 121h0M1214 77h0M1174 97h0M1231 66h0M1227 72h0M1234 70h0M1167 111h0M1169 113h0M1162 98h0M1155 100h0M1239 55h0M1147 134h0M1193 103h0M1155 122h0M1169 117h0M1091 154h0M1228 68h0M1131 141h0M1229 67h0M1178 94h0M1167 120h0M1231 64h0M1179 113h0M1191 96h0M1165 119h0M1198 87h0M1133 135h0M1218 69h0M1227 66h0M1136 139h0M1163 126h0M1191 101h0M1217 79h0M1226 71h0M1178 110h0M1229 63h0M1151 115h0M1216 78h0M1196 94h0M1228 69h0M1165 114h0M1220 75h0M1165 127h0M1241 61h0M1149 142h0M1230 67h0M1242 57h0M1207 90h0M1234 63h0M1209 86h0M1192 99h0M1207 71h0M1226 66h0M1200 85h0M1196 94h0M1213 77h0M1182 102h0M1228 66h0M1154 129h0M1214 78h0M1187 100h0M1247 58h0M1200 77h0M1174 100h0M1193 99h0M1130 153h0M1232 69h0M1248 56h0M1242 60h0M1147 140h0M1230 71h0M1236 62h0M1218 73h0M1186 112h0M1224 72h0M1194 100h0M1165 122h0M1231 68h0M1120 152h0M1237 59h0M1168 105h0M1175 108h0M1160 122h0M1128 121h0M1179 89h0M1149 121h0M1181 103h0M1182 94h0M1208 74h0M1134 140h0M1167 97h0M1230 68h0M1231 61h0M1227 72h0M1242 58h0M1177 108h0M1239 60h0M1229 63h0M1159 125h0M1119 149h0M1129 133h0M1227 72h0M1225 61h0M1232 72h0M1132 112h0M1247 57h0M1140 122h0M1220 65h0M1229 65h0M1216 85h0M1236 64h0M1208 82h0M1246 54h0M1190 88h0M1219 69h0M1110 137h0M1232 70h0M1148 116h0M1158 133h0M1217 75h0M1244 60h0M1161 131h0M1220 69h0M1199 90h0M1194 85h0M1238 67h0M1247 58h0M1210 82h0M1140 137h0M1165 112h0M1232 68h0M1181 104h0M1199 96h0M1141 118h0M1219 76h0M1211 88h0M1213 75h0M1246 54h0M1130 136h0M1172 106h0M1152 126h0M1118 148h0M1239 68h0M1246 60h0M1188 106h0M1196 89h0M1131 125h0M1238 62h0M1198 91h0M1241 55h0M1152 126h0M1210 77h0M1229 66h0M1175 117h0M1247 55h0M1236 62h0M1197 98h0M1224 77h0M1232 71h0M1204 77h0M1195 77h0M1223 68h0M1241 55h0M1218 83h0M1215 70h0M1198 77h0M1227 61h0M1231 71h0M1223 66h0M1144 129h0M1203 79h0M1137 82h0M1164 79h0M1069 218h0" stroke="#1f77b4" stroke-width="2" stroke-linecap="square" fill="none"/>
<path d="M1049 242.7L1248 54.2" stroke="#000" stroke-width="2.1" stroke-dasharray="9.3 3.5" fill="none"/>
<rect x="1017.3" y="44" width="242" height="228.1" fill="none" stroke="#000" stroke-width="1.8"/>
<path d="M1049 272.1v8.6M1148.5 272.1v8.6M1248 272.1v8.6M1017.3 54.2h-8.6M1017.3 129.6h-8.6M1017.3 205h-8.6" stroke="#000" stroke-width="1.6" fill="none"/>
<text x="1138.3" y="28.9" font-size="23.6" text-anchor="middle">Gene-comprep</text>
<text x="1146.5" y="239.6" font-size="19.8" text-anchor="start">r=0.96</text>
<text x="1146.5" y="263.3" font-size="19.8" text-anchor="start">p&lt;1e-300</text>
<text transform="translate(669.5 163.4) rotate(-90)" font-size="19.8" text-anchor="middle">Raw</text>
<path d="M863 429h0M948 356h0M950 358h0M847 412h0M946 365h0M884 390h0M907 396h0M896 391h0M942 359h0M813 464h0M889 391h0M886 408h0M828 430h0M892 403h0M887 409h0M855 424h0M857 421h0M808 482h0M933 364h0M852 427h0M842 426h0M955 358h0M950 364h0M882 407h0M926 382h0M882 405h0M807 458h0M898 381h0M837 416h0M807 455h0M898 401h0M780 484h0M938 369h0M933 365h0M901 402h0M815 438h0M943 360h0M810 471h0M909 399h0M851 422h0M890 404h0M812 459h0M821 467h0M860 426h0M881 397h0M929 361h0M797 501h0M847 433h0M896 390h0M850 430h0M913 387h0M927 356h0M940 370h0M867 409h0M937 370h0M820 457h0M941 378h0M920 371h0M846 434h0M892 408h0M831 418h0M779 501h0M909 392h0M841 449h0M906 377h0M886 401h0M927 376h0M901 405h0M907 396h0M932 367h0M952 357h0M894 418h0M891 408h0M895 392h0M868 377h0M892 406h0M954 363h0M929 366h0M906 392h0M851 446h0M793 471h0M862 420h0M943 368h0M918 391h0M917 381h0M810 464h0M882 425h0M906 378h0M910 397h0M945 354h0M929 370h0M821 458h0M799 470h0M955 356h0M950 358h0M900 374h0M922 382h0M908 378h0M864 428h0M866 415h0M852 411h0M913 394h0M946 359h0M932 386h0M871 426h0M908 390h0M888 389h0M894 387h0M871 423h0M788 488h0M927 372h0M953 361h0M919 375h0M956 356h0M820 435h0M944 365h0M909 390h0M949 363h0M934 372h0M829 452h0M951 355h0M914 382h0M936 373h0M854 411h0M938 360h0M902 397h0M883 406h0M831 447h0M796 509h0M905 387h0M836 429h0M943 354h0M943 361h0M946 362h0M814 464h0M847 421h0M925 368h0M927 380h0M904 387h0M880 397h0M877 433h0M871 393h0M824 456h0M898 383h0M855 423h0M841 440h0M885 402h0M910 382h0M798 461h0M921 380h0M943 368h0M910 392h0M864 429h0M935 363h0M839 453h0M859 398h0M896 393h0M820 457h0M911 372h0M950 359h0M876 411h0M915 374h0M868 403h0M801 492h0M955 359h0M954 353h0M826 471h0M884 404h0M910 376h0M917 378h0M942 358h0M929 354h0M876 395h0M841 404h0M868 404h0M949 362h0M956 356h0M924 381h0M940 358h0M945 357h0M884 413h0M885 410h0M937 368h0M913 379h0M826 427h0M934 368h0M844 403h0M824 436h0M887 407h0M933 373h0M833 441h0M869 418h0M918 380h0M927 367h0M894 392h0M924 367h0M954 357h0M955 357h0M860 437h0M915 398h0M917 384h0M923 375h0M936 368h0M940 364h0M894 372h0M956 356h0M905 390h0M864 422h0M955 357h0M800 449h0M948 359h0M951 354h0M781 514h0M851 398h0M874 378h0M932 376h0M908 386h0M814 463h0M934 364h0M955 358h0M818 449h0M772 486h0M899 398h0M842 468h0M936 371h0M933 371h0M945 357h0M830 455h0M816 478h0M951 354h0M812 455h0M930 365h0M954 355h0M927 364h0M917 374h0M870 435h0M891 394h0M849 416h0M887 399h0M929 360h0M948 361h0M885 392h0M842 453h0M829 446h0M940 367h0M795 496h0M932 379h0M949 357h0M955 353h0M906 393h0M892 410h0M914 390h0M913 375h0M947 365h0M904 376h0M935 379h0M902 386h0M916 374h0M944 355h0M880 410h0M914 388h0M777 523h0M922 369h0M915 382h0M864 421h0M947 362h0M920 375h0M883 402h0M894 381h0M956 359h0M856 408h0M933 372h0M841 435h0M913 385h0M824 452h0M881 394h0M836 436h0M802 497h0M929 372h0M927 373h0M770 494h0M896 392h0M843 434h0M838 421h0M884 414h0M826 412h0M914 386h0M931 378h0M914 374h0M916 370h0M782 466h0M830 421h0M943 360h0M949 358h0M900 386h0M951 357h0M893 402h0M869 390h0M870 386h0M854 422h0M953 356h0M875 414h0M880 425h0M837 448h0M939 368h0M851 425h0M911 393h0M952 364h0M938 361h0M807 435h0M927 389h0M911 385h0M925 367h0M868 428h0M851 446h0M876 406h0M956 354h0M852 433h0M941 353h0M830 420h0M952 353h0M784 489h0M930 373h0M924 367h0M811 466h0M932 358h0M889 383h0M941 367h0M876 396h0M881 383h0M859 408h0M851 438h0M932 371h0M808 471h0M911 382h0M929 371h0M949 360h0M883 391h0M924 363h0M908 390h0M870 429h0M870 405h0M933 368h0M892 391h0M838 447h0M832 437h0M876 417h0M864 399h0M935 355h0M912 391h0M950 369h0M913 386h0M948 361h0M953 354h0M836 437h0M877 399h0M924 354h0M863 422h0M842 438h0M862 409h0M922 391h0M872 398h0M814 470h0M956 357h0M861 427h0M934 364h0M826 433h0M887 383h0M811 453h0M854 431h0M941 360h0M828 447h0M861 382h0M829 478h0M921 362h0M937 361h0M918 374h0M870 410h0M912 387h0M917 387h0M894 411h0M780 450h0M854 407h0M830 432h0M943 360h0M941 374h0M892 398h0M952 355h0M948 353h0M872 421h0M919 375h0M845 433h0M916 379h0M882 411h0M831 436h0M908 383h0M859 443h0M811 440h0M924 356h0M931 376h0M809 443h0M867 424h0M948 361h0M936 354h0M890 394h0M915 365h0M876 401h0M831 425h0M886 400h0M824 425h0M903 368h0M856 409h0M869 417h0M841 438h0M913 389h0M866 403h0M825 439h0M952 358h0M942 356h0M954 356h0M950 357h0M950 353h0M938 354h0M954 356h0M934 374h0M931 383h0M807 452h0M926 381h0M908 371h0M838 433h0M871 398h0M915 391h0M924 378h0M827 442h0M867 401h0M801 493h0M933 365h0M895 402h0M760 492h0M791 484h0M876 408h0M889 391h0M812 439h0M892 397h0M820 431h0M797 491h0M922 372h0M848 442h0M853 417h0M952 359h0M888 396h0M952 353h0M917 387h0M869 432h0M910 384h0M922 370h0M826 442h0M869 422h0M920 369h0M866 415h0M906 377h0M809 478h0M887 392h0M851 406h0M927 377h0M883 403h0M861 406h0M930 366h0M943 359h0M880 404h0M874 426h0M921 375h0M923 385h0M895 391h0M887 425h0M897 376h0M904 367h0M831 435h0M900 398h0M846 432h0M792 462h0M932 363h0M912 388h0M930 361h0M927 366h0M797 464h0M945 362h0M952 356h0M868 419h0M950 356h0M842 441h0M891 382h0M847 426h0M810 458h0M951 355h0M889 393h0M811 485h0M932 359h0M810 460h0M862 422h0M800 489h0M896 400h0M793 488h0M924 374h0M936 371h0M917 377h0M877 403h0M902 395h0M857 386h0M866 413h0M886 395h0M925 372h0M932 370h0M876 396h0M906 372h0M903 388h0M878 414h0M832 432h0M891 419h0M893 392h0M896 394h0M865 408h0M943 370h0M935 369h0M944 366h0M947 361h0M935 363h0M841 436h0M934 371h0M898 378h0M937 365h0M903 408h0M904 398h0M909 379h0M944 359h0M860 413h0M952 355h0M890 407h0M876 407h0M863 431h0M738 560h0M847 378h0M821 517h0M819 513h0M837 509h0M777 455h0" stroke="#1f77b4" stroke-width="2" stroke-linecap="square" fill="none"/>
<path d="M757.5 541.5L956.5 353" stroke="#000" stroke-width="2.1" stroke-dasharray="9.3 3.5" fill="none"/>
<rect x="726.5" y="342.8" width="241.4" height="228.1" fill="none" stroke="#000" stroke-width="1.8"/>
<path d="M757.5 570.9v8.6M857 570.9v8.6M956.5 570.9v8.6M726.5 353h-8.6M726.5 428.4h-8.6M726.5 503.8h-8.6" stroke="#000" stroke-width="1.6" fill="none"/>
<text x="847.2" y="327.7" font-size="23.6" text-anchor="middle">100kbin-biorep</text>
<text x="855.7" y="538.4" font-size="19.8" text-anchor="start">r=0.93</text>
<text x="855.7" y="562.1" font-size="19.8" text-anchor="start">p=1.7e-233</text>
<text x="711.6" y="362.2" font-size="19.8" text-anchor="end">1.0</text>
<text x="711.6" y="437.6" font-size="19.8" text-anchor="end">0.8</text>
<text x="711.6" y="513" font-size="19.8" text-anchor="end">0.6</text>
<text x="757.5" y="601.4" font-size="19.8" text-anchor="middle">0.50</text>
<text x="857" y="601.4" font-size="19.8" text-anchor="middle">0.75</text>
<text x="956.5" y="601.4" font-size="19.8" text-anchor="middle">1.00</text>
<text x="853.9" y="633.6" font-size="19.8" text-anchor="middle">PC</text>
<path d="M1212 375h0M1142 429h0M1139 435h0M1125 446h0M1224 376h0M1116 450h0M1231 364h0M1203 388h0M1188 382h0M1182 396h0M1158 419h0M1222 371h0M1128 421h0M1156 432h0M1197 387h0M1161 390h0M1221 367h0M1213 382h0M1147 422h0M1185 398h0M1151 395h0M1232 367h0M1241 359h0M1134 435h0M1246 358h0M1199 409h0M1240 360h0M1187 391h0M1240 360h0M1149 417h0M1182 393h0M1246 353h0M1212 388h0M1234 356h0M1242 354h0M1191 387h0M1204 383h0M1215 376h0M1183 402h0M1241 357h0M1167 401h0M1191 396h0M1205 377h0M1224 372h0M1230 363h0M1242 357h0M1231 361h0M1167 393h0M1247 353h0M1210 382h0M1142 430h0M1239 357h0M1247 354h0M1184 390h0M1228 366h0M1136 422h0M1134 437h0M1202 391h0M1248 355h0M1218 372h0M1188 401h0M1189 389h0M1178 418h0M1156 422h0M1209 381h0M1181 413h0M1202 389h0M1192 402h0M1232 364h0M1163 414h0M1236 358h0M1119 451h0M1220 381h0M1229 368h0M1165 409h0M1194 390h0M1131 432h0M1119 429h0M1142 430h0M1233 365h0M1198 393h0M1193 395h0M1137 419h0M1215 374h0M1204 400h0M1157 405h0M1214 388h0M1246 355h0M1231 360h0M1201 385h0M1223 368h0M1188 388h0M1134 429h0M1241 362h0M1236 360h0M1205 387h0M1230 376h0M1140 430h0M1227 365h0M1186 395h0M1222 371h0M1223 361h0M1158 413h0M1150 412h0M1220 371h0M1230 358h0M1225 371h0M1150 410h0M1160 398h0M1216 377h0M1183 390h0M1171 417h0M1244 355h0M1159 408h0M1245 357h0M1218 383h0M1221 372h0M1221 373h0M1225 368h0M1172 403h0M1235 358h0M1204 373h0M1229 364h0M1248 356h0M1184 392h0M1241 357h0M1225 368h0M1223 362h0M1151 418h0M1154 421h0M1240 357h0M1218 383h0M1163 403h0M1224 369h0M1188 382h0M1229 363h0M1209 378h0M1235 361h0M1209 387h0M1247 354h0M1226 367h0M1192 385h0M1218 371h0M1149 415h0M1187 390h0M1214 379h0M1225 367h0M1139 430h0M1220 379h0M1155 431h0M1188 388h0M1228 360h0M1139 414h0M1227 372h0M1229 359h0M1173 392h0M1166 416h0M1222 368h0M1156 401h0M1212 377h0M1145 413h0M1149 427h0M1185 399h0M1170 399h0M1236 362h0M1157 415h0M1247 354h0M1222 376h0M1242 354h0M1150 421h0M1236 363h0M1194 393h0M1188 394h0M1168 416h0M1240 355h0M1151 423h0M1227 364h0M1209 385h0M1137 439h0M1244 358h0M1194 389h0M1207 389h0M1216 370h0M1240 360h0M1122 431h0M1196 391h0M1200 380h0M1189 401h0M1177 410h0M1135 425h0M1225 371h0M1201 378h0M1248 354h0M1170 402h0M1178 408h0M1188 407h0M1201 376h0M1220 373h0M1248 355h0M1239 358h0M1195 402h0M1154 414h0M1208 374h0M1132 420h0M1245 355h0M1150 417h0M1238 360h0M1168 407h0M1140 438h0M1244 354h0M1219 369h0M1214 374h0M1147 430h0M1216 372h0M1212 381h0M1200 378h0M1237 363h0M1235 364h0M1245 356h0M1130 445h0M1167 416h0M1172 408h0M1225 381h0M1235 354h0M1246 354h0M1155 414h0M1222 375h0M1176 401h0M1115 445h0M1136 430h0M1233 369h0M1190 394h0M1201 398h0M1174 406h0M1142 435h0M1181 404h0M1236 363h0M1179 394h0M1224 363h0M1169 408h0M1236 366h0M1218 365h0M1227 374h0M1238 362h0M1155 419h0M1244 358h0M1200 377h0M1245 354h0M1142 416h0M1244 357h0M1237 357h0M1167 410h0M1222 372h0M1155 415h0M1180 397h0M1240 357h0M1180 402h0M1178 413h0M1220 374h0M1241 367h0M1138 432h0M1248 355h0M1237 358h0M1234 374h0M1225 359h0M1246 355h0M1208 391h0M1201 382h0M1223 368h0M1184 394h0M1186 380h0M1236 365h0M1242 356h0M1243 356h0M1240 361h0M1206 380h0M1174 394h0M1238 363h0M1199 384h0M1238 356h0M1192 387h0M1236 367h0M1244 355h0M1222 373h0M1173 395h0M1240 359h0M1217 363h0M1242 361h0M1242 356h0M1122 449h0M1209 369h0M1231 358h0M1235 366h0M1206 377h0M1148 423h0M1227 376h0M1166 419h0M1192 391h0M1193 388h0M1199 389h0M1216 373h0M1229 364h0M1207 380h0M1192 400h0M1128 434h0M1214 374h0M1224 377h0M1182 387h0M1206 373h0M1227 367h0M1159 396h0M1177 409h0M1224 374h0M1183 402h0M1126 445h0M1232 356h0M1178 401h0M1227 368h0M1107 448h0M1124 422h0M1243 356h0M1170 410h0M1228 365h0M1197 379h0M1224 370h0M1169 396h0M1182 396h0M1181 400h0M1101 453h0M1213 366h0M1237 362h0M1220 365h0M1247 354h0M1210 379h0M1154 418h0M1137 422h0M1223 367h0M1244 355h0M1161 407h0M1227 372h0M1246 356h0M1169 416h0M1194 393h0M1202 386h0M1175 406h0M1205 379h0M1232 368h0M1148 425h0M1169 400h0M1231 357h0M1174 404h0M1155 407h0M1206 374h0M1236 365h0M1210 378h0M1172 414h0M1211 381h0M1226 366h0M1156 428h0M1149 416h0M1229 367h0M1240 359h0M1225 366h0M1233 367h0M1187 407h0M1215 376h0M1212 382h0M1153 420h0M1248 356h0M1215 381h0M1111 460h0M1243 361h0M1202 390h0M1236 364h0M1164 411h0M1177 377h0M1212 382h0M1231 372h0M1197 384h0M1207 389h0M1246 356h0M1245 356h0M1225 369h0M1186 396h0M1120 439h0M1239 359h0M1208 374h0M1128 428h0M1189 397h0M1222 372h0M1220 380h0M1243 355h0M1212 379h0M1220 362h0M1244 358h0M1218 366h0M1245 358h0M1154 433h0M1142 435h0M1224 368h0M1115 435h0M1207 387h0M1194 384h0M1238 362h0M1228 369h0M1231 366h0M1232 357h0M1154 416h0M1166 407h0M1160 427h0M1225 368h0M1219 371h0M1175 391h0M1242 360h0M1199 392h0M1182 406h0M1217 378h0M1222 368h0M1206 387h0M1232 358h0M1222 371h0M1190 399h0M1244 358h0M1240 363h0M1170 419h0M1170 398h0M1242 355h0M1127 447h0M1220 375h0M1219 364h0M1191 398h0M1179 399h0M1149 417h0M1226 369h0M1192 394h0M1155 421h0M1149 421h0M1235 368h0M1181 399h0M1195 389h0M1210 388h0M1176 399h0M1229 371h0M1196 407h0M1153 436h0M1213 377h0M1230 363h0M1229 369h0M1234 369h0M1226 369h0M1154 410h0M1162 413h0M1130 450h0M1169 404h0M1179 403h0M1218 375h0M1171 406h0M1151 415h0M1176 404h0M1158 424h0M1241 359h0M1128 435h0M1230 360h0M1189 403h0M1221 373h0M1242 360h0M1192 390h0M1247 355h0M1150 449h0M1172 398h0M1231 368h0M1233 368h0M1140 442h0M1144 436h0M1243 360h0M1238 360h0M1141 426h0M1113 448h0M1229 365h0M1208 386h0M1117 438h0M1211 379h0M1189 391h0M1234 360h0M1214 379h0M1174 395h0M1150 414h0M1159 418h0M1232 357h0M1202 374h0M1232 370h0M1130 457h0M1223 373h0M1218 372h0M1139 420h0M1129 429h0M1164 412h0M1227 363h0M1165 404h0M1212 380h0M1173 404h0M1171 398h0M1191 397h0M1209 384h0M1189 400h0M1194 381h0M1225 366h0M1229 362h0M1231 366h0M1215 376h0M1235 357h0M1130 438h0M1156 407h0M1184 398h0M1163 412h0M1188 391h0M1194 385h0M1217 365h0M1143 429h0M1133 417h0M1238 363h0M1188 401h0M1126 460h0M1218 369h0M1137 416h0M1103 470h0M1143 429h0M1229 367h0M1135 446h0M1233 363h0M1182 397h0M1178 405h0M1232 368h0M1237 360h0M1196 385h0M1201 395h0M1244 356h0M1238 358h0M1172 428h0M1190 391h0M1186 384h0M1206 390h0M1128 423h0M1157 419h0M1176 398h0M1247 354h0M1221 377h0M1210 389h0M1238 355h0M1209 388h0M1169 410h0M1210 371h0M1222 370h0M1228 366h0M1237 368h0M1219 376h0M1136 443h0M1223 379h0M1227 366h0M1241 355h0M1135 439h0M1210 383h0M1173 402h0M1150 413h0M1169 416h0M1216 369h0M1104 445h0M1136 431h0M1232 369h0M1236 359h0M1205 379h0M1157 400h0M1241 360h0M1227 360h0M1183 401h0M1228 364h0M1169 409h0M1186 395h0M1210 371h0M1204 388h0M1169 401h0M1184 400h0M1233 363h0M1156 423h0M1189 392h0M1235 370h0M1241 359h0M1130 425h0M1184 391h0M1155 432h0M1229 372h0M1122 445h0M1246 356h0M1160 417h0M1233 364h0M1181 401h0M1161 411h0M1238 363h0M1174 402h0M1246 353h0M1132 423h0M1131 443h0M1244 353h0M1186 382h0M1188 389h0M1120 434h0M1241 366h0M1215 368h0M1172 390h0M1225 363h0M1203 381h0M1120 433h0M1225 354h0M1235 365h0M1204 386h0M1135 420h0M1192 390h0M1175 421h0M1238 359h0M1197 386h0M1202 391h0M1204 381h0M1234 362h0M1164 427h0M1235 360h0M1230 356h0M1234 356h0M1217 381h0M1238 365h0M1216 375h0M1108 449h0M1234 368h0M1194 396h0M1185 386h0M1179 399h0M1228 362h0M1182 399h0M1129 425h0M1219 376h0M1158 420h0M1216 380h0M1144 443h0M1239 360h0M1218 381h0M1229 368h0M1216 374h0M1215 375h0M1233 362h0M1190 396h0M1213 378h0M1166 400h0M1224 370h0M1210 379h0M1142 449h0M1223 376h0M1161 403h0M1151 428h0M1185 405h0M1222 366h0M1123 452h0M1125 428h0M1120 443h0M1109 458h0M1239 367h0M1197 379h0M1246 359h0M1235 367h0M1225 365h0M1185 406h0M1213 375h0M1154 419h0M1222 372h0M1153 429h0M1226 372h0M1148 420h0M1227 372h0M1239 357h0M1202 383h0M1244 354h0M1186 395h0M1156 372h0M1097 445h0M1107 442h0" stroke="#1f77b4" stroke-width="2" stroke-linecap="square" fill="none"/>
<path d="M1049 541.5L1248 353" stroke="#000" stroke-width="2.1" stroke-dasharray="9.3 3.5" fill="none"/>
<rect x="1017.3" y="342.8" width="242" height="228.1" fill="none" stroke="#000" stroke-width="1.8"/>
<path d="M1049 570.9v8.6M1148.5 570.9v8.6M1248 570.9v8.6M1017.3 353h-8.6M1017.3 428.4h-8.6M1017.3 503.8h-8.6" stroke="#000" stroke-width="1.6" fill="none"/>
<text x="1138.3" y="327.7" font-size="23.6" text-anchor="middle">100kbin-comprep</text>
<text x="1146.5" y="538.4" font-size="19.8" text-anchor="start">r=0.95</text>
<text x="1146.5" y="562.1" font-size="19.8" text-anchor="start">p&lt;1e-300</text>
<text x="1049" y="601.4" font-size="19.8" text-anchor="middle">0.50</text>
<text x="1148.5" y="601.4" font-size="19.8" text-anchor="middle">0.75</text>
<text x="1248" y="601.4" font-size="19.8" text-anchor="middle">1.00</text>
<text x="1144.9" y="633.6" font-size="19.8" text-anchor="middle">PC</text>
<text transform="translate(669.5 462.2) rotate(-90)" font-size="19.8" text-anchor="middle">Raw</text>
<text x="1297.5" y="32.1" font-size="30.5" font-weight="bold">c</text>
<path d="M1594 59h0M1590 57h0M1487 140h0M1503 121h0M1570 77h0M1489 127h0M1600 62h0M1537 87h0M1601 64h0M1585 72h0M1503 157h0M1571 72h0M1579 82h0M1529 121h0M1567 80h0M1542 109h0M1539 94h0M1531 107h0M1575 61h0M1546 107h0M1555 96h0M1570 73h0M1606 56h0M1593 62h0M1566 83h0M1452 132h0M1442 159h0M1590 60h0M1560 97h0M1494 119h0M1563 84h0M1522 101h0M1540 109h0M1540 85h0M1542 113h0M1592 61h0M1593 62h0M1553 109h0M1517 103h0M1572 92h0M1533 92h0M1580 82h0M1578 74h0M1584 71h0M1538 120h0M1546 116h0M1566 76h0M1564 86h0M1539 82h0M1482 132h0M1578 55h0M1588 66h0M1562 66h0M1454 148h0M1590 65h0M1604 56h0M1607 57h0M1606 57h0M1579 62h0M1536 101h0M1547 106h0M1576 70h0M1529 116h0M1602 58h0M1528 85h0M1601 56h0M1543 71h0M1608 56h0M1515 99h0M1491 113h0M1573 74h0M1542 95h0M1590 55h0M1480 134h0M1596 56h0M1586 69h0M1583 63h0M1601 67h0M1505 114h0M1576 79h0M1553 70h0M1584 61h0M1543 102h0M1508 116h0M1561 74h0M1551 86h0M1555 86h0M1597 58h0M1597 66h0M1588 59h0M1564 77h0M1595 74h0M1605 58h0M1593 64h0M1551 62h0M1522 106h0M1517 136h0M1577 64h0M1573 73h0M1553 87h0M1581 64h0M1565 84h0M1532 101h0M1594 59h0M1587 65h0M1544 80h0M1603 58h0M1492 86h0M1594 68h0M1562 95h0M1560 78h0M1540 99h0M1498 115h0M1545 91h0M1607 55h0M1600 63h0M1598 59h0M1555 72h0M1462 169h0M1543 68h0M1529 77h0M1535 109h0M1465 121h0M1591 69h0M1507 116h0M1587 73h0M1491 135h0M1530 129h0M1607 56h0M1523 122h0M1541 106h0M1486 172h0M1587 67h0M1555 65h0M1598 62h0M1581 72h0M1524 122h0M1545 98h0M1522 120h0M1542 114h0M1586 72h0M1596 64h0M1578 70h0M1524 109h0M1596 61h0M1558 71h0M1528 87h0M1529 107h0M1562 98h0M1499 123h0M1568 78h0M1584 63h0M1595 62h0M1552 56h0M1544 97h0M1594 61h0M1597 65h0M1479 155h0M1490 131h0M1573 74h0M1595 60h0M1532 147h0M1605 55h0M1571 65h0M1566 68h0M1477 111h0M1566 81h0M1473 122h0M1589 60h0M1530 116h0M1603 56h0M1571 73h0M1595 63h0M1599 55h0M1538 106h0M1583 75h0M1605 56h0M1566 85h0M1539 77h0M1570 91h0M1563 94h0M1602 58h0M1514 97h0M1544 108h0M1596 57h0M1607 58h0M1553 76h0M1575 81h0M1585 71h0M1545 69h0M1605 56h0M1521 117h0M1503 112h0M1570 62h0M1567 79h0M1569 84h0M1582 69h0M1582 77h0M1511 125h0M1486 141h0M1571 72h0M1471 151h0M1587 65h0M1596 58h0M1597 56h0M1533 124h0M1536 99h0M1608 56h0M1569 73h0M1493 118h0M1502 118h0M1566 85h0M1578 80h0M1597 67h0M1604 55h0M1593 65h0M1545 92h0M1529 97h0M1585 64h0M1512 77h0M1485 133h0M1495 108h0M1541 116h0M1454 168h0M1468 160h0M1562 88h0M1586 62h0M1531 99h0M1512 111h0M1498 119h0M1536 101h0M1499 125h0M1581 75h0M1517 119h0M1603 59h0M1524 108h0M1533 127h0M1483 128h0M1550 90h0M1569 75h0M1515 130h0M1603 60h0M1604 55h0M1589 70h0M1586 66h0M1541 104h0M1589 71h0M1566 92h0M1505 129h0M1601 61h0M1497 147h0M1598 57h0M1537 97h0M1589 71h0M1589 59h0M1455 132h0M1556 94h0M1580 78h0M1526 107h0M1601 57h0M1495 152h0M1554 74h0M1580 74h0M1593 61h0M1566 81h0M1509 105h0M1566 74h0M1591 59h0M1556 93h0M1567 63h0M1551 103h0M1600 59h0M1604 56h0M1485 128h0M1570 70h0M1544 113h0M1551 89h0M1598 58h0M1595 62h0M1548 103h0M1532 98h0M1563 80h0M1579 78h0M1589 60h0M1478 145h0M1532 115h0M1577 73h0M1573 80h0M1556 88h0M1602 58h0M1515 118h0M1608 55h0M1519 103h0M1536 81h0M1605 59h0M1517 108h0M1572 74h0M1527 99h0M1603 63h0M1584 75h0M1572 74h0M1604 56h0M1571 77h0M1551 87h0M1527 84h0M1575 77h0M1586 72h0M1532 78h0M1608 55h0M1548 92h0M1573 81h0M1588 59h0M1503 122h0M1601 61h0M1520 86h0M1546 109h0M1570 78h0M1496 108h0M1575 77h0M1588 69h0M1504 108h0M1527 122h0M1526 107h0M1526 92h0M1592 69h0M1540 77h0M1518 112h0M1541 96h0M1587 70h0M1544 86h0M1542 100h0M1517 105h0M1590 60h0M1570 67h0M1607 57h0M1544 76h0M1608 55h0M1583 68h0M1540 94h0M1529 98h0M1568 83h0M1590 63h0M1531 86h0M1511 123h0M1591 65h0M1597 59h0M1608 56h0M1576 71h0M1548 87h0M1512 103h0M1494 129h0M1512 106h0M1592 65h0M1561 86h0M1589 77h0M1531 127h0M1564 77h0M1465 125h0M1605 56h0M1527 102h0M1466 152h0M1549 83h0M1604 58h0M1596 62h0M1538 76h0M1597 66h0M1609 55h0M1549 93h0M1553 109h0M1557 98h0M1590 61h0M1569 74h0M1544 95h0M1497 94h0M1596 66h0M1563 64h0M1593 64h0M1607 56h0M1575 67h0M1541 88h0M1519 105h0M1504 119h0M1519 139h0M1511 151h0M1601 59h0M1453 130h0M1552 97h0M1538 95h0M1567 92h0M1553 104h0M1564 82h0M1486 112h0M1496 106h0M1593 59h0M1568 86h0M1603 58h0M1529 90h0M1450 191h0M1589 68h0M1594 63h0M1559 84h0M1585 64h0M1578 70h0M1602 60h0M1560 106h0M1595 60h0M1478 109h0M1588 64h0M1598 60h0M1491 116h0M1533 82h0M1577 77h0M1572 77h0M1591 69h0M1596 63h0M1535 110h0M1599 63h0M1598 67h0M1566 81h0M1559 74h0M1545 130h0M1575 66h0M1595 63h0M1569 84h0M1563 79h0M1494 129h0M1525 106h0M1607 56h0M1569 77h0M1586 66h0M1581 73h0M1536 101h0M1559 93h0M1602 59h0M1603 60h0M1596 58h0M1581 72h0M1534 89h0M1585 62h0M1573 68h0M1399 235h0M1405 168h0M1421 161h0M1433 209h0" stroke="#1f77b4" stroke-width="2" stroke-linecap="square" fill="none"/>
<path d="M1409 263.2L1608.7 54.5" stroke="#000" stroke-width="2.1" stroke-dasharray="9.3 3.5" fill="none"/>
<rect x="1377.1" y="44" width="243.3" height="229.7" fill="none" stroke="#000" stroke-width="1.8"/>
<path d="M1409 273.7v8.6M1509 273.7v8.6M1608.7 273.7v8.6M1377.1 54.5h-8.6M1377.1 138h-8.6M1377.1 221.5h-8.6" stroke="#000" stroke-width="1.6" fill="none"/>
<text x="1498.8" y="29.2" font-size="23.5" text-anchor="middle">Gene-Raw</text>
<text x="1505.4" y="239.6" font-size="19.8" text-anchor="start">r=0.95</text>
<text x="1505.4" y="263.3" font-size="19.8" text-anchor="start">p=2.4e-255</text>
<text x="1362.5" y="63.1" font-size="19.8" text-anchor="end">1.0</text>
<text x="1362.5" y="146.6" font-size="19.8" text-anchor="end">0.8</text>
<text x="1362.5" y="230.1" font-size="19.8" text-anchor="end">0.6</text>
<path d="M1882 64h0M1730 197h0M1860 72h0M1895 60h0M1791 138h0M1851 89h0M1890 63h0M1831 93h0M1762 226h0M1892 66h0M1864 95h0M1808 96h0M1877 67h0M1858 90h0M1816 107h0M1860 97h0M1898 57h0M1897 55h0M1854 81h0M1789 91h0M1894 61h0M1873 67h0M1879 70h0M1876 70h0M1827 102h0M1884 63h0M1847 79h0M1901 55h0M1892 60h0M1894 60h0M1879 69h0M1887 67h0M1859 75h0M1854 81h0M1853 85h0M1880 69h0M1834 108h0M1896 60h0M1837 112h0M1881 72h0M1870 70h0M1846 88h0M1883 73h0M1851 98h0M1861 72h0M1895 55h0M1830 93h0M1885 58h0M1875 76h0M1882 66h0M1862 86h0M1900 57h0M1892 60h0M1830 98h0M1825 101h0M1895 60h0M1878 70h0M1890 69h0M1894 60h0M1779 161h0M1833 91h0M1884 61h0M1876 70h0M1894 62h0M1867 85h0M1805 107h0M1898 57h0M1899 57h0M1848 101h0M1870 74h0M1805 117h0M1869 71h0M1854 95h0M1887 64h0M1865 89h0M1833 98h0M1772 146h0M1802 128h0M1887 61h0M1879 76h0M1868 67h0M1880 67h0M1843 88h0M1834 97h0M1857 90h0M1865 83h0M1788 113h0M1852 88h0M1824 102h0M1787 138h0M1891 59h0M1849 83h0M1760 189h0M1807 86h0M1882 63h0M1744 153h0M1838 94h0M1834 101h0M1818 98h0M1826 71h0M1837 99h0M1800 142h0M1872 74h0M1831 101h0M1858 76h0M1872 81h0M1828 110h0M1841 99h0M1845 83h0M1897 55h0M1853 86h0M1886 61h0M1868 76h0M1778 138h0M1752 225h0M1787 149h0M1867 86h0M1829 98h0M1873 73h0M1870 82h0M1897 58h0M1808 120h0M1824 102h0M1872 78h0M1874 77h0M1888 60h0M1844 96h0M1859 75h0M1892 63h0M1775 148h0M1887 65h0M1846 101h0M1829 95h0M1859 94h0M1872 73h0M1883 75h0M1806 108h0M1768 150h0M1861 74h0M1896 55h0M1892 62h0M1853 87h0M1853 99h0M1856 89h0M1813 114h0M1851 88h0M1824 96h0M1842 90h0M1828 92h0M1897 58h0M1809 115h0M1894 62h0M1803 125h0M1815 155h0M1882 68h0M1845 92h0M1828 111h0M1854 90h0M1817 137h0M1898 58h0M1847 98h0M1807 116h0M1872 72h0M1870 79h0M1808 120h0M1897 57h0M1864 87h0M1889 60h0M1900 57h0M1825 102h0M1833 107h0M1885 65h0M1744 146h0M1774 119h0M1845 106h0M1890 61h0M1879 73h0M1806 127h0M1825 104h0M1850 85h0M1825 111h0M1827 116h0M1878 72h0M1847 102h0M1899 56h0M1887 70h0M1892 59h0M1858 83h0M1873 74h0M1857 93h0M1790 140h0M1758 170h0M1813 123h0M1806 124h0M1873 73h0M1883 69h0M1890 61h0M1823 99h0M1884 68h0M1812 105h0M1835 99h0M1901 55h0M1867 75h0M1855 77h0M1739 191h0M1775 183h0M1766 137h0M1898 55h0M1871 82h0M1821 112h0M1854 83h0M1883 76h0M1804 109h0M1859 78h0M1885 62h0M1839 81h0M1885 70h0M1844 85h0M1891 55h0M1861 99h0M1895 60h0M1732 170h0M1819 122h0M1818 138h0M1806 116h0M1837 97h0M1892 62h0M1897 57h0M1760 140h0M1867 71h0M1861 79h0M1888 68h0M1874 75h0M1880 80h0M1895 61h0M1901 55h0M1792 120h0M1742 181h0M1812 117h0M1836 122h0M1796 151h0M1851 100h0M1884 69h0M1870 80h0M1784 93h0M1782 118h0M1857 94h0M1831 112h0M1772 160h0M1776 157h0M1851 94h0M1848 112h0M1898 55h0M1750 155h0M1850 84h0M1762 156h0M1896 57h0M1900 56h0M1840 119h0M1899 56h0M1807 120h0M1856 97h0M1796 167h0M1885 61h0M1837 111h0M1890 63h0M1865 84h0M1876 63h0M1900 58h0M1822 95h0M1883 77h0M1894 58h0M1755 179h0M1890 69h0M1801 124h0M1826 108h0M1838 117h0M1876 71h0M1825 108h0M1890 61h0M1899 59h0M1892 63h0M1835 112h0M1897 57h0M1883 70h0M1853 97h0M1899 55h0M1789 143h0M1901 56h0M1901 55h0M1852 96h0M1805 152h0M1881 68h0M1751 154h0M1884 62h0M1866 76h0M1847 88h0M1825 116h0M1858 90h0M1890 56h0M1858 76h0M1890 66h0M1894 59h0M1806 114h0M1896 62h0M1775 152h0M1848 86h0M1884 60h0M1878 63h0M1897 58h0M1794 135h0M1833 108h0M1897 57h0M1852 81h0M1891 64h0M1738 190h0M1879 73h0M1869 82h0M1883 69h0M1798 94h0M1843 77h0M1899 55h0M1898 59h0M1901 55h0M1872 61h0M1837 95h0M1892 63h0M1837 92h0M1834 104h0M1885 68h0M1882 67h0M1873 71h0M1861 84h0M1898 57h0M1741 209h0M1821 111h0M1876 68h0M1809 117h0M1854 89h0M1834 119h0M1856 76h0M1846 105h0M1789 120h0M1805 127h0M1880 66h0M1885 62h0M1823 113h0M1864 102h0M1881 78h0M1838 110h0M1890 65h0M1831 100h0M1885 58h0M1872 71h0M1881 69h0M1768 122h0M1856 88h0M1833 91h0M1854 84h0M1867 91h0M1835 89h0M1890 57h0M1883 69h0M1844 86h0M1794 120h0M1756 172h0M1875 75h0M1777 122h0M1856 91h0M1776 156h0M1764 137h0M1872 69h0M1835 82h0M1820 119h0M1877 79h0M1883 63h0M1866 90h0M1856 89h0M1834 104h0M1790 99h0M1841 96h0M1822 126h0M1857 86h0M1879 64h0M1839 118h0M1843 109h0M1874 68h0M1878 70h0M1889 66h0M1797 130h0M1852 88h0M1815 131h0M1861 87h0M1882 62h0M1810 113h0M1867 71h0M1824 108h0M1895 60h0M1819 107h0M1890 65h0M1850 86h0M1783 143h0M1867 80h0M1871 77h0M1844 104h0M1892 57h0M1887 70h0M1864 79h0M1874 80h0M1895 57h0M1860 85h0M1860 82h0M1844 90h0M1886 64h0M1871 74h0M1835 96h0M1894 59h0M1850 94h0M1775 152h0M1891 62h0M1868 82h0M1884 68h0M1809 97h0M1882 74h0M1870 66h0M1872 78h0M1775 132h0M1818 112h0M1901 55h0M1820 103h0M1846 76h0M1873 75h0M1861 83h0M1810 126h0M1826 80h0M1737 153h0M1846 82h0M1780 139h0M1805 152h0M1866 76h0M1752 214h0M1775 159h0M1844 84h0M1884 69h0M1825 116h0M1796 165h0M1789 119h0M1828 100h0M1810 125h0M1872 73h0M1834 120h0M1882 72h0M1855 85h0M1832 92h0M1813 116h0M1733 223h0M1894 60h0M1817 97h0M1883 70h0M1862 80h0M1682 242h0M1715 146h0M1741 105h0M1743 109h0" stroke="#1f77b4" stroke-width="2" stroke-linecap="square" fill="none"/>
<path d="M1701.5 263.2L1901.2 54.5" stroke="#000" stroke-width="2.1" stroke-dasharray="9.3 3.5" fill="none"/>
<rect x="1669.3" y="44" width="243.1" height="229.7" fill="none" stroke="#000" stroke-width="1.8"/>
<path d="M1701.5 273.7v8.6M1801.5 273.7v8.6M1901.2 273.7v8.6M1669.3 54.5h-8.6M1669.3 138h-8.6M1669.3 221.5h-8.6" stroke="#000" stroke-width="1.6" fill="none"/>
<text x="1790.8" y="29.2" font-size="23.5" text-anchor="middle">Gene-PC</text>
<text x="1797.6" y="239.6" font-size="19.8" text-anchor="start">r=0.58</text>
<text x="1797.6" y="263.3" font-size="19.8" text-anchor="start">p=3.1e-272</text>
<text transform="translate(1320.7 171.5) rotate(-90)" font-size="19.8" text-anchor="middle">CompRep</text>
<path d="M1539 385h0M1508 390h0M1605 355h0M1574 379h0M1525 413h0M1590 365h0M1515 418h0M1565 396h0M1567 398h0M1570 372h0M1590 365h0M1497 378h0M1596 364h0M1564 371h0M1473 433h0M1498 411h0M1522 405h0M1557 373h0M1600 358h0M1554 393h0M1555 388h0M1475 442h0M1565 380h0M1566 378h0M1565 385h0M1603 360h0M1515 411h0M1595 370h0M1502 410h0M1530 396h0M1593 377h0M1540 411h0M1593 364h0M1571 396h0M1507 407h0M1594 360h0M1496 412h0M1589 362h0M1577 374h0M1601 357h0M1542 385h0M1596 363h0M1530 400h0M1603 362h0M1573 387h0M1521 390h0M1569 370h0M1554 397h0M1516 439h0M1560 405h0M1512 391h0M1568 376h0M1526 372h0M1545 376h0M1595 355h0M1575 369h0M1584 372h0M1606 357h0M1600 357h0M1496 455h0M1502 407h0M1599 362h0M1517 386h0M1499 433h0M1590 369h0M1533 385h0M1594 376h0M1571 368h0M1559 382h0M1537 407h0M1598 359h0M1577 377h0M1601 358h0M1569 378h0M1559 377h0M1592 369h0M1524 417h0M1505 379h0M1603 357h0M1570 380h0M1588 372h0M1545 400h0M1601 359h0M1540 413h0M1508 417h0M1587 369h0M1470 494h0M1603 358h0M1602 356h0M1485 440h0M1531 405h0M1510 409h0M1603 360h0M1580 384h0M1591 365h0M1598 363h0M1608 356h0M1594 358h0M1554 387h0M1568 386h0M1555 395h0M1550 371h0M1607 355h0M1574 390h0M1494 410h0M1500 431h0M1579 377h0M1604 355h0M1521 395h0M1580 378h0M1473 438h0M1579 368h0M1557 387h0M1598 359h0M1534 410h0M1491 396h0M1558 370h0M1599 363h0M1520 434h0M1543 401h0M1572 370h0M1570 376h0M1560 385h0M1535 397h0M1587 376h0M1575 375h0M1593 364h0M1570 383h0M1534 388h0M1578 378h0M1601 361h0M1588 363h0M1548 383h0M1603 358h0M1605 356h0M1591 364h0M1592 363h0M1593 368h0M1573 370h0M1606 357h0M1579 370h0M1539 400h0M1597 357h0M1567 374h0M1581 376h0M1576 375h0M1585 372h0M1603 355h0M1578 382h0M1497 394h0M1601 361h0M1607 355h0M1556 391h0M1543 389h0M1594 359h0M1566 375h0M1551 404h0M1574 377h0M1580 371h0M1589 357h0M1585 372h0M1511 422h0M1594 366h0M1530 403h0M1566 374h0M1491 449h0M1593 358h0M1572 366h0M1559 376h0M1566 375h0M1606 357h0M1554 400h0M1569 384h0M1575 358h0M1550 405h0M1564 379h0M1593 365h0M1502 439h0M1551 401h0M1519 413h0M1524 401h0M1518 400h0M1475 420h0M1534 399h0M1479 432h0M1512 401h0M1582 375h0M1528 425h0M1608 355h0M1606 360h0M1589 363h0M1519 385h0M1530 423h0M1531 437h0M1526 419h0M1516 405h0M1563 392h0M1534 384h0M1537 389h0M1526 421h0M1549 381h0M1588 374h0M1465 459h0M1530 399h0M1508 389h0M1564 374h0M1489 391h0M1537 419h0M1563 359h0M1464 473h0M1571 375h0M1544 373h0M1552 383h0M1595 358h0M1605 359h0M1586 374h0M1563 387h0M1592 367h0M1528 402h0M1604 358h0M1599 364h0M1563 380h0M1578 384h0M1599 363h0M1503 412h0M1465 472h0M1600 360h0M1552 381h0M1594 357h0M1525 385h0M1506 399h0M1579 369h0M1583 378h0M1537 411h0M1525 420h0M1530 411h0M1474 440h0M1548 404h0M1542 401h0M1591 360h0M1604 359h0M1580 385h0M1495 430h0M1582 372h0M1517 417h0M1564 361h0M1561 374h0M1521 378h0M1547 400h0M1583 366h0M1543 391h0M1492 427h0M1564 390h0M1533 397h0M1606 360h0M1607 355h0M1607 358h0M1525 380h0M1576 390h0M1510 411h0M1527 417h0M1606 357h0M1569 381h0M1540 380h0M1588 363h0M1591 369h0M1569 374h0M1535 397h0M1572 360h0M1552 407h0M1592 366h0M1501 441h0M1527 405h0M1544 421h0M1526 421h0M1596 363h0M1566 386h0M1566 389h0M1588 368h0M1552 396h0M1516 429h0M1470 448h0M1455 457h0M1608 355h0M1528 432h0M1587 370h0M1557 373h0M1515 439h0M1562 382h0M1488 440h0M1601 356h0M1596 358h0M1563 380h0M1560 390h0M1581 381h0M1598 363h0M1547 403h0M1603 358h0M1603 355h0M1521 374h0M1565 378h0M1559 383h0M1589 367h0M1526 400h0M1562 385h0M1587 358h0M1554 397h0M1597 362h0M1508 428h0M1582 365h0M1562 365h0M1559 378h0M1548 389h0M1580 371h0M1565 376h0M1478 446h0M1605 355h0M1569 363h0M1560 374h0M1567 372h0M1608 355h0M1570 363h0M1566 394h0M1603 359h0M1601 356h0M1602 360h0M1467 467h0M1563 399h0M1589 361h0M1526 385h0M1504 414h0M1516 441h0M1592 365h0M1595 366h0M1483 408h0M1543 374h0M1533 393h0M1557 381h0M1555 369h0M1480 389h0M1600 363h0M1571 373h0M1582 378h0M1569 385h0M1601 356h0M1606 358h0M1574 377h0M1607 356h0M1549 385h0M1598 367h0M1461 453h0M1607 356h0M1527 418h0M1602 356h0M1532 400h0M1579 372h0M1582 364h0M1578 372h0M1593 370h0M1601 359h0M1595 361h0M1523 403h0M1489 401h0M1594 360h0M1595 361h0M1539 398h0M1556 385h0M1567 362h0M1595 369h0M1595 358h0M1593 362h0M1590 369h0M1549 390h0M1606 355h0M1502 447h0M1559 382h0M1534 390h0M1476 456h0M1497 418h0M1537 377h0M1536 394h0M1581 377h0M1601 363h0M1603 362h0M1508 395h0M1544 395h0M1562 383h0M1598 362h0M1587 371h0M1589 358h0M1578 368h0M1544 373h0M1552 402h0M1546 384h0M1558 377h0M1607 357h0M1548 401h0M1542 405h0M1548 378h0M1558 382h0M1591 368h0M1582 366h0M1608 355h0M1441 465h0M1550 390h0M1498 439h0M1481 406h0M1532 399h0M1601 365h0M1562 384h0M1601 355h0M1548 418h0M1557 375h0M1576 372h0M1500 445h0M1548 391h0M1575 383h0M1523 431h0M1593 362h0M1536 393h0M1518 441h0M1574 379h0M1607 356h0M1607 358h0M1567 370h0M1588 371h0M1592 363h0M1512 399h0M1541 407h0M1576 371h0M1546 390h0M1488 416h0M1489 435h0M1537 383h0M1534 388h0M1576 363h0M1442 434h0M1591 371h0M1574 379h0M1525 397h0M1389 536h0M1403 453h0M1443 409h0M1457 394h0" stroke="#1f77b4" stroke-width="2" stroke-linecap="square" fill="none"/>
<path d="M1409 563.2L1608.7 354.5" stroke="#000" stroke-width="2.1" stroke-dasharray="9.3 3.5" fill="none"/>
<rect x="1377.1" y="344" width="243.3" height="229.7" fill="none" stroke="#000" stroke-width="1.8"/>
<path d="M1409 573.7v8.6M1509 573.7v8.6M1608.7 573.7v8.6M1377.1 354.5h-8.6M1377.1 438h-8.6M1377.1 521.5h-8.6" stroke="#000" stroke-width="1.6" fill="none"/>
<text x="1498.8" y="329.2" font-size="23.5" text-anchor="middle">100kbin-Raw</text>
<text x="1505.4" y="539.6" font-size="19.8" text-anchor="start">r=0.94</text>
<text x="1505.4" y="563.3" font-size="19.8" text-anchor="start">p=2.1e-243</text>
<text x="1362.5" y="363.1" font-size="19.8" text-anchor="end">1.0</text>
<text x="1362.5" y="446.6" font-size="19.8" text-anchor="end">0.8</text>
<text x="1362.5" y="530.1" font-size="19.8" text-anchor="end">0.6</text>
<text x="1409" y="603.9" font-size="19.8" text-anchor="middle">0.50</text>
<text x="1509" y="603.9" font-size="19.8" text-anchor="middle">0.75</text>
<text x="1608.7" y="603.9" font-size="19.8" text-anchor="middle">1.00</text>
<text x="1497.6" y="636" font-size="19.8" text-anchor="middle">BioRep</text>
<path d="M1786 431h0M1860 382h0M1874 376h0M1856 385h0M1849 387h0M1836 408h0M1896 363h0M1885 364h0M1889 365h0M1852 384h0M1728 514h0M1879 368h0M1798 430h0M1859 386h0M1836 400h0M1826 402h0M1799 455h0M1898 355h0M1811 402h0M1812 412h0M1825 429h0M1824 397h0M1900 356h0M1875 364h0M1845 398h0M1865 381h0M1878 366h0M1879 380h0M1895 360h0M1889 363h0M1874 386h0M1876 377h0M1821 407h0M1864 378h0M1866 368h0M1834 390h0M1739 514h0M1885 363h0M1860 380h0M1859 383h0M1788 455h0M1815 388h0M1894 355h0M1833 398h0M1865 385h0M1746 500h0M1890 366h0M1776 423h0M1833 422h0M1798 407h0M1846 394h0M1820 406h0M1880 366h0M1899 357h0M1797 414h0M1874 374h0M1823 404h0M1896 358h0M1745 471h0M1868 377h0M1899 358h0M1786 429h0M1757 492h0M1860 374h0M1899 357h0M1895 361h0M1866 374h0M1859 378h0M1890 362h0M1812 439h0M1893 364h0M1846 388h0M1791 390h0M1816 410h0M1845 390h0M1888 362h0M1790 448h0M1852 379h0M1875 376h0M1883 367h0M1809 431h0M1899 358h0M1808 431h0M1852 397h0M1890 364h0M1881 362h0M1863 379h0M1874 377h0M1764 444h0M1898 357h0M1885 362h0M1827 396h0M1873 376h0M1877 372h0M1796 426h0M1832 414h0M1828 419h0M1768 451h0M1851 397h0M1887 364h0M1822 398h0M1867 379h0M1829 397h0M1842 377h0M1747 481h0M1794 403h0M1768 466h0M1802 442h0M1849 389h0M1801 426h0M1855 398h0M1855 376h0M1893 358h0M1817 426h0M1880 370h0M1884 367h0M1855 396h0M1804 417h0M1837 414h0M1804 449h0M1833 385h0M1798 437h0M1838 406h0M1809 422h0M1851 396h0M1784 394h0M1866 376h0M1882 364h0M1775 423h0M1807 386h0M1767 497h0M1793 415h0M1891 361h0M1762 452h0M1805 402h0M1728 472h0M1779 474h0M1874 372h0M1806 423h0M1845 383h0M1881 378h0M1862 377h0M1834 399h0M1820 401h0M1865 377h0M1810 450h0M1872 371h0M1760 457h0M1833 411h0M1813 402h0M1899 356h0M1879 362h0M1735 453h0M1848 402h0M1811 405h0M1855 386h0M1883 367h0M1886 365h0M1875 367h0M1856 392h0M1863 378h0M1855 399h0M1857 382h0M1876 378h0M1787 458h0M1820 411h0M1873 381h0M1881 364h0M1732 515h0M1894 356h0M1859 377h0M1797 425h0M1789 420h0M1868 376h0M1854 367h0M1872 372h0M1860 388h0M1791 424h0M1801 430h0M1865 380h0M1871 379h0M1864 384h0M1872 370h0M1843 395h0M1882 364h0M1887 365h0M1838 399h0M1868 381h0M1871 368h0M1788 402h0M1825 408h0M1864 374h0M1852 401h0M1801 444h0M1880 366h0M1823 432h0M1736 407h0M1840 386h0M1851 374h0M1890 362h0M1887 369h0M1862 388h0M1878 375h0M1825 396h0M1850 399h0M1874 378h0M1828 385h0M1777 465h0M1811 426h0M1873 366h0M1893 355h0M1893 365h0M1892 367h0M1822 418h0M1824 405h0M1791 431h0M1895 360h0M1879 376h0M1849 383h0M1880 371h0M1860 387h0M1822 408h0M1866 369h0M1881 367h0M1896 356h0M1861 384h0M1841 389h0M1841 419h0M1763 467h0M1867 378h0M1847 398h0M1856 392h0M1884 368h0M1759 480h0M1818 419h0M1824 406h0M1805 414h0M1742 502h0M1898 357h0M1808 431h0M1806 405h0M1860 369h0M1822 406h0M1798 418h0M1892 361h0M1852 384h0M1798 429h0M1869 385h0M1845 381h0M1866 363h0M1853 382h0M1891 361h0M1793 420h0M1818 388h0M1823 414h0M1849 383h0M1826 404h0M1866 393h0M1794 434h0M1880 366h0M1827 400h0M1884 367h0M1787 457h0M1877 370h0M1887 363h0M1872 371h0M1836 378h0M1794 426h0M1869 369h0M1879 367h0M1854 363h0M1896 357h0M1876 358h0M1850 399h0M1805 440h0M1900 355h0M1802 424h0M1766 419h0M1797 411h0M1864 374h0M1817 423h0M1851 388h0M1849 382h0M1845 398h0M1814 413h0M1843 381h0M1862 381h0M1893 359h0M1821 392h0M1749 454h0M1850 402h0M1769 442h0M1828 403h0M1897 356h0M1808 381h0M1885 361h0M1840 394h0M1858 389h0M1873 368h0M1862 380h0M1834 384h0M1875 370h0M1836 387h0M1853 394h0M1847 393h0M1826 404h0M1784 450h0M1896 357h0M1820 414h0M1882 369h0M1785 447h0M1731 487h0M1875 381h0M1850 380h0M1887 362h0M1899 355h0M1846 379h0M1771 436h0M1895 359h0M1888 359h0M1829 408h0M1826 403h0M1872 386h0M1901 355h0M1826 405h0M1891 359h0M1860 379h0M1803 405h0M1898 358h0M1857 389h0M1869 375h0M1785 449h0M1823 413h0M1819 410h0M1797 461h0M1844 410h0M1892 359h0M1821 419h0M1831 393h0M1861 386h0M1847 401h0M1843 388h0M1865 381h0M1831 398h0M1841 403h0M1854 394h0M1879 371h0M1842 403h0M1857 387h0M1836 411h0M1821 405h0M1758 440h0M1800 416h0M1718 538h0M1885 361h0M1900 358h0M1830 401h0M1866 378h0M1811 405h0M1872 379h0M1861 386h0M1806 401h0M1838 385h0M1901 356h0M1866 381h0M1847 399h0M1885 375h0M1860 374h0M1867 382h0M1795 426h0M1880 368h0M1782 462h0M1790 414h0M1801 434h0M1886 370h0M1882 366h0M1855 385h0M1888 365h0M1876 372h0M1819 387h0M1825 398h0M1860 383h0M1885 367h0M1873 364h0M1860 386h0M1883 375h0M1802 402h0M1749 480h0M1792 469h0M1848 405h0M1885 371h0M1852 408h0M1866 383h0M1814 423h0M1843 378h0M1874 374h0M1873 377h0M1893 360h0M1892 360h0M1786 415h0M1885 361h0M1879 379h0M1800 450h0M1863 381h0M1815 385h0M1813 422h0M1833 389h0M1795 438h0M1878 373h0M1901 355h0M1758 425h0M1805 429h0M1879 369h0M1866 376h0M1801 408h0M1845 393h0M1895 357h0M1872 365h0M1753 444h0M1795 434h0M1734 487h0M1866 377h0M1802 427h0M1891 365h0M1887 368h0M1751 479h0M1877 381h0M1862 360h0M1820 398h0M1889 365h0M1881 371h0M1808 399h0M1763 484h0M1847 402h0M1802 405h0M1779 440h0M1793 414h0M1786 432h0M1880 369h0M1867 382h0M1743 461h0M1895 358h0M1797 422h0M1761 464h0M1785 411h0M1820 409h0M1901 355h0M1877 377h0M1870 386h0M1825 397h0M1818 421h0M1872 379h0M1858 381h0M1785 408h0M1750 473h0M1738 487h0M1833 396h0M1855 381h0M1888 363h0M1850 406h0M1682 538h0M1702 411h0M1749 390h0" stroke="#1f77b4" stroke-width="2" stroke-linecap="square" fill="none"/>
<path d="M1701.5 563.2L1901.2 354.5" stroke="#000" stroke-width="2.1" stroke-dasharray="9.3 3.5" fill="none"/>
<rect x="1669.3" y="344" width="243.1" height="229.7" fill="none" stroke="#000" stroke-width="1.8"/>
<path d="M1701.5 573.7v8.6M1801.5 573.7v8.6M1901.2 573.7v8.6M1669.3 354.5h-8.6M1669.3 438h-8.6M1669.3 521.5h-8.6" stroke="#000" stroke-width="1.6" fill="none"/>
<text x="1790.8" y="329.2" font-size="23.5" text-anchor="middle">100kbin-PC</text>
<text x="1797.6" y="539.6" font-size="19.8" text-anchor="start">r=0.95</text>
<text x="1797.6" y="563.3" font-size="19.8" text-anchor="start">p=7.0e-262</text>
<text x="1701.5" y="603.9" font-size="19.8" text-anchor="middle">0.50</text>
<text x="1801.5" y="603.9" font-size="19.8" text-anchor="middle">0.75</text>
<text x="1901.2" y="603.9" font-size="19.8" text-anchor="middle">1.00</text>
<text x="1789.8" y="636" font-size="19.8" text-anchor="middle">BioRep</text>
<text transform="translate(1320.7 471.5) rotate(-90)" font-size="19.8" text-anchor="middle">CompRep</text>
<text x="6.5" y="697.8" font-size="30.5" font-weight="bold">d</text>
<rect x="65.2" y="719.2" width="245.4" height="245" fill="#440154"/>
<path d="M237 841.8h24.8v24.8h-24.8zM187.9 890.8h24.8v24.8h-24.8z" fill="#482878"/>
<path d="M89.7 719.2h24.8v24.8h-24.8zM65.2 743.8h24.8v24.8h-24.8zM163.4 768.2h24.8v24.8h-24.8zM114.3 817.2h24.8v24.8h-24.8z" fill="#26828e"/>
<path d="M138.8 768.2h24.8v24.8h-24.8zM114.3 792.8h24.8v24.8h-24.8z" fill="#1f9e89"/>
<path d="M114.3 743.8h24.8v24.8h-24.8zM89.7 768.2h24.8v24.8h-24.8zM261.5 866.2h24.8v24.8h-24.8zM261.5 890.8h24.8v24.8h-24.8zM212.4 915.2h24.8v24.8h-24.8zM237 915.2h24.8v24.8h-24.8z" fill="#35b779"/>
<path d="M187.9 792.8h24.8v24.8h-24.8zM138.8 841.8h24.8v24.8h-24.8z" fill="#4ec36b"/>
<path d="M114.3 719.2h24.8v24.8h-24.8zM261.5 719.2h24.8v24.8h-24.8zM163.4 743.8h24.8v24.8h-24.8zM65.2 768.2h24.8v24.8h-24.8zM187.9 768.2h24.8v24.8h-24.8zM89.7 817.2h24.8v24.8h-24.8zM187.9 817.2h24.8v24.8h-24.8zM114.3 841.8h24.8v24.8h-24.8zM163.4 841.8h24.8v24.8h-24.8zM65.2 915.2h24.8v24.8h-24.8zM286.1 915.2h24.8v24.8h-24.8zM261.5 939.8h24.8v24.8h-24.8z" fill="#6ece58"/>
<path d="M138.8 743.8h24.8v24.8h-24.8zM89.7 792.8h24.8v24.8h-24.8zM261.5 841.8h24.8v24.8h-24.8zM187.9 915.2h24.8v24.8h-24.8z" fill="#90d743"/>
<path d="M163.4 719.2h24.8v24.8h-24.8zM286.1 719.2h24.8v24.8h-24.8zM212.4 768.2h24.8v24.8h-24.8zM237 768.2h24.8v24.8h-24.8zM237 792.8h24.8v24.8h-24.8zM65.2 817.2h24.8v24.8h-24.8zM237 817.2h24.8v24.8h-24.8zM114.3 866.2h24.8v24.8h-24.8zM114.3 890.8h24.8v24.8h-24.8zM138.8 890.8h24.8v24.8h-24.8zM163.4 890.8h24.8v24.8h-24.8zM65.2 939.8h24.8v24.8h-24.8z" fill="#b5de2b"/>
<path d="M187.9 719.2h24.8v24.8h-24.8zM212.4 719.2h24.8v24.8h-24.8zM237 719.2h24.8v24.8h-24.8zM187.9 743.8h24.8v24.8h-24.8zM212.4 743.8h24.8v24.8h-24.8zM212.4 792.8h24.8v24.8h-24.8zM212.4 817.2h24.8v24.8h-24.8zM65.2 841.8h24.8v24.8h-24.8zM89.7 841.8h24.8v24.8h-24.8zM65.2 866.2h24.8v24.8h-24.8zM89.7 866.2h24.8v24.8h-24.8zM138.8 866.2h24.8v24.8h-24.8zM163.4 866.2h24.8v24.8h-24.8zM65.2 890.8h24.8v24.8h-24.8z" fill="#dae319"/>
<path d="M138.8 719.2h24.8v24.8h-24.8zM237 743.8h24.8v24.8h-24.8zM261.5 743.8h24.8v24.8h-24.8zM261.5 768.2h24.8v24.8h-24.8zM65.2 792.8h24.8v24.8h-24.8zM261.5 792.8h24.8v24.8h-24.8zM261.5 817.2h24.8v24.8h-24.8zM89.7 890.8h24.8v24.8h-24.8zM89.7 915.2h24.8v24.8h-24.8zM114.3 915.2h24.8v24.8h-24.8zM138.8 915.2h24.8v24.8h-24.8zM163.4 915.2h24.8v24.8h-24.8z" fill="#ece51b"/>
<path d="M286.1 743.8h24.8v24.8h-24.8zM286.1 768.2h24.8v24.8h-24.8zM286.1 792.8h24.8v24.8h-24.8zM286.1 817.2h24.8v24.8h-24.8zM286.1 841.8h24.8v24.8h-24.8zM286.1 866.2h24.8v24.8h-24.8zM286.1 890.8h24.8v24.8h-24.8zM89.7 939.8h24.8v24.8h-24.8zM114.3 939.8h24.8v24.8h-24.8zM138.8 939.8h24.8v24.8h-24.8zM163.4 939.8h24.8v24.8h-24.8zM187.9 939.8h24.8v24.8h-24.8zM212.4 939.8h24.8v24.8h-24.8zM237 939.8h24.8v24.8h-24.8z" fill="#fde725"/>
<rect x="65.2" y="719.2" width="245.4" height="245" fill="none" stroke="#000" stroke-width="1.1"/>
<path d="M77.5 964.2v4.8M65.2 731.5h-4.8M102 964.2v4.8M65.2 756h-4.8M126.5 964.2v4.8M65.2 780.5h-4.8M151.1 964.2v4.8M65.2 805h-4.8M175.6 964.2v4.8M65.2 829.5h-4.8M200.2 964.2v4.8M65.2 854h-4.8M224.7 964.2v4.8M65.2 878.5h-4.8M249.2 964.2v4.8M65.2 903h-4.8M273.8 964.2v4.8M65.2 927.5h-4.8M298.3 964.2v4.8M65.2 952h-4.8" stroke="#000" stroke-width="1.2" fill="none"/>
<text x="169.7" y="711.4" font-size="23.3" text-anchor="start">MOp</text>
<text x="54.8" y="736.5" font-size="19.0" text-anchor="end">VTA</text>
<text transform="translate(82.1 972.6) rotate(-90)" font-size="19.0" text-anchor="end">VTA</text>
<text x="54.8" y="761" font-size="19.0" text-anchor="end">MY</text>
<text transform="translate(106.6 972.6) rotate(-90)" font-size="19.0" text-anchor="end">MY</text>
<text x="54.8" y="785.5" font-size="19.0" text-anchor="end">SC</text>
<text transform="translate(131.2 972.6) rotate(-90)" font-size="19.0" text-anchor="end">SC</text>
<text x="54.8" y="810" font-size="19.0" text-anchor="end">TH</text>
<text transform="translate(155.7 972.6) rotate(-90)" font-size="19.0" text-anchor="end">TH</text>
<text x="54.8" y="834.5" font-size="19.0" text-anchor="end">P</text>
<text transform="translate(180.2 972.6) rotate(-90)" font-size="19.0" text-anchor="end">P</text>
<text x="54.8" y="859" font-size="19.0" text-anchor="end">STR</text>
<text transform="translate(204.8 972.6) rotate(-90)" font-size="19.0" text-anchor="end">STR</text>
<text x="54.8" y="883.5" font-size="19.0" text-anchor="end">SSp</text>
<text transform="translate(229.3 972.6) rotate(-90)" font-size="19.0" text-anchor="end">SSp</text>
<text x="54.8" y="908" font-size="19.0" text-anchor="end">ACA</text>
<text transform="translate(253.8 972.6) rotate(-90)" font-size="19.0" text-anchor="end">ACA</text>
<text x="54.8" y="932.5" font-size="19.0" text-anchor="end">AI</text>
<text transform="translate(278.4 972.6) rotate(-90)" font-size="19.0" text-anchor="end">AI</text>
<text x="54.8" y="957" font-size="19.0" text-anchor="end">AUDp</text>
<text transform="translate(302.9 972.6) rotate(-90)" font-size="19.0" text-anchor="end">AUDp</text>
<rect x="385.6" y="719.2" width="245.4" height="245" fill="#440154"/>
<path d="M474.9 786.1h22.6v22.6h-22.6zM497.2 786.1h22.6v22.6h-22.6zM452.6 808.3h22.6v22.6h-22.6zM452.6 830.6h22.6v22.6h-22.6zM541.8 852.9h22.6v22.6h-22.6zM519.5 875.2h22.6v22.6h-22.6z" fill="#375a8c"/>
<path d="M586.4 786.1h22.6v22.6h-22.6zM452.6 919.7h22.6v22.6h-22.6z" fill="#31688e"/>
<path d="M608.7 897.4h22.6v22.6h-22.6zM564.1 942h22.6v22.6h-22.6z" fill="#2b758e"/>
<path d="M407.9 719.2h22.6v22.6h-22.6zM385.6 741.5h22.6v22.6h-22.6zM541.8 786.1h22.6v22.6h-22.6zM564.1 852.9h22.6v22.6h-22.6zM452.6 875.2h22.6v22.6h-22.6zM519.5 897.4h22.6v22.6h-22.6z" fill="#26828e"/>
<path d="M586.4 763.8h22.6v22.6h-22.6zM497.2 808.3h22.6v22.6h-22.6zM474.9 830.6h22.6v22.6h-22.6zM586.4 897.4h22.6v22.6h-22.6zM430.2 919.7h22.6v22.6h-22.6zM564.1 919.7h22.6v22.6h-22.6z" fill="#21918c"/>
<path d="M586.4 875.2h22.6v22.6h-22.6zM541.8 919.7h22.6v22.6h-22.6z" fill="#1f9e89"/>
<path d="M497.2 763.8h22.6v22.6h-22.6zM430.2 830.6h22.6v22.6h-22.6z" fill="#25ab82"/>
<path d="M474.9 763.8h22.6v22.6h-22.6zM519.5 786.1h22.6v22.6h-22.6zM608.7 786.1h22.6v22.6h-22.6zM430.2 808.3h22.6v22.6h-22.6zM452.6 852.9h22.6v22.6h-22.6zM608.7 852.9h22.6v22.6h-22.6zM564.1 875.2h22.6v22.6h-22.6zM608.7 875.2h22.6v22.6h-22.6zM541.8 897.4h22.6v22.6h-22.6zM452.6 942h22.6v22.6h-22.6zM519.5 942h22.6v22.6h-22.6zM541.8 942h22.6v22.6h-22.6z" fill="#35b779"/>
<path d="M608.7 763.8h22.6v22.6h-22.6zM564.1 786.1h22.6v22.6h-22.6zM586.4 852.9h22.6v22.6h-22.6zM452.6 897.4h22.6v22.6h-22.6zM519.5 919.7h22.6v22.6h-22.6zM430.2 942h22.6v22.6h-22.6z" fill="#4ec36b"/>
<path d="M452.6 719.2h22.6v22.6h-22.6zM474.9 719.2h22.6v22.6h-22.6zM497.2 719.2h22.6v22.6h-22.6zM452.6 741.5h22.6v22.6h-22.6zM497.2 741.5h22.6v22.6h-22.6zM541.8 763.8h22.6v22.6h-22.6zM564.1 763.8h22.6v22.6h-22.6zM385.6 786.1h22.6v22.6h-22.6zM407.9 786.1h22.6v22.6h-22.6zM385.6 808.3h22.6v22.6h-22.6zM385.6 830.6h22.6v22.6h-22.6zM407.9 830.6h22.6v22.6h-22.6zM430.2 875.2h22.6v22.6h-22.6zM430.2 897.4h22.6v22.6h-22.6z" fill="#6ece58"/>
<path d="M474.9 741.5h22.6v22.6h-22.6zM407.9 808.3h22.6v22.6h-22.6zM541.8 808.3h22.6v22.6h-22.6zM474.9 875.2h22.6v22.6h-22.6z" fill="#90d743"/>
<path d="M519.5 719.2h22.6v22.6h-22.6zM541.8 719.2h22.6v22.6h-22.6zM519.5 741.5h22.6v22.6h-22.6zM541.8 741.5h22.6v22.6h-22.6zM519.5 763.8h22.6v22.6h-22.6zM519.5 808.3h22.6v22.6h-22.6zM586.4 808.3h22.6v22.6h-22.6zM541.8 830.6h22.6v22.6h-22.6zM586.4 830.6h22.6v22.6h-22.6zM385.6 852.9h22.6v22.6h-22.6zM407.9 852.9h22.6v22.6h-22.6zM430.2 852.9h22.6v22.6h-22.6zM474.9 852.9h22.6v22.6h-22.6zM385.6 875.2h22.6v22.6h-22.6zM407.9 875.2h22.6v22.6h-22.6zM497.2 875.2h22.6v22.6h-22.6zM474.9 919.7h22.6v22.6h-22.6zM497.2 919.7h22.6v22.6h-22.6z" fill="#b5de2b"/>
<path d="M586.4 719.2h22.6v22.6h-22.6zM564.1 808.3h22.6v22.6h-22.6zM608.7 808.3h22.6v22.6h-22.6zM519.5 830.6h22.6v22.6h-22.6zM564.1 830.6h22.6v22.6h-22.6zM608.7 830.6h22.6v22.6h-22.6zM497.2 852.9h22.6v22.6h-22.6zM474.9 897.4h22.6v22.6h-22.6zM497.2 897.4h22.6v22.6h-22.6zM385.6 919.7h22.6v22.6h-22.6zM474.9 942h22.6v22.6h-22.6zM497.2 942h22.6v22.6h-22.6z" fill="#dae319"/>
<path d="M430.2 719.2h22.6v22.6h-22.6zM564.1 719.2h22.6v22.6h-22.6zM608.7 719.2h22.6v22.6h-22.6zM430.2 741.5h22.6v22.6h-22.6zM564.1 741.5h22.6v22.6h-22.6zM586.4 741.5h22.6v22.6h-22.6zM608.7 741.5h22.6v22.6h-22.6zM385.6 763.8h22.6v22.6h-22.6zM407.9 763.8h22.6v22.6h-22.6zM385.6 897.4h22.6v22.6h-22.6zM407.9 897.4h22.6v22.6h-22.6zM407.9 919.7h22.6v22.6h-22.6zM385.6 942h22.6v22.6h-22.6zM407.9 942h22.6v22.6h-22.6z" fill="#fde725"/>
<rect x="385.6" y="719.2" width="245.4" height="245" fill="none" stroke="#000" stroke-width="1.1"/>
<path d="M396.8 964.2v4.8M385.6 730.4h-4.8M419.1 964.2v4.8M385.6 752.7h-4.8M441.4 964.2v4.8M385.6 774.9h-4.8M463.7 964.2v4.8M385.6 797.2h-4.8M486 964.2v4.8M385.6 819.5h-4.8M508.3 964.2v4.8M385.6 841.8h-4.8M530.6 964.2v4.8M385.6 864h-4.8M552.9 964.2v4.8M385.6 886.3h-4.8M575.3 964.2v4.8M385.6 908.6h-4.8M597.6 964.2v4.8M385.6 930.8h-4.8M619.9 964.2v4.8M385.6 953.1h-4.8" stroke="#000" stroke-width="1.2" fill="none"/>
<text x="492.5" y="711.4" font-size="23.3" text-anchor="start">SSp</text>
<text x="375.2" y="735.4" font-size="19.0" text-anchor="end">AUDp</text>
<text transform="translate(401.4 972.6) rotate(-90)" font-size="19.0" text-anchor="end">AUDp</text>
<text x="375.2" y="757.7" font-size="19.0" text-anchor="end">PTLp</text>
<text transform="translate(423.7 972.6) rotate(-90)" font-size="19.0" text-anchor="end">PTLp</text>
<text x="375.2" y="779.9" font-size="19.0" text-anchor="end">ACA</text>
<text transform="translate(446 972.6) rotate(-90)" font-size="19.0" text-anchor="end">ACA</text>
<text x="375.2" y="802.2" font-size="19.0" text-anchor="end">STR</text>
<text transform="translate(468.3 972.6) rotate(-90)" font-size="19.0" text-anchor="end">STR</text>
<text x="375.2" y="824.5" font-size="19.0" text-anchor="end">MOp</text>
<text transform="translate(490.6 972.6) rotate(-90)" font-size="19.0" text-anchor="end">MOp</text>
<text x="375.2" y="846.8" font-size="19.0" text-anchor="end">RSP</text>
<text transform="translate(512.9 972.6) rotate(-90)" font-size="19.0" text-anchor="end">RSP</text>
<text x="375.2" y="869" font-size="19.0" text-anchor="end">VTA</text>
<text transform="translate(535.2 972.6) rotate(-90)" font-size="19.0" text-anchor="end">VTA</text>
<text x="375.2" y="891.3" font-size="19.0" text-anchor="end">MY</text>
<text transform="translate(557.5 972.6) rotate(-90)" font-size="19.0" text-anchor="end">MY</text>
<text x="375.2" y="913.6" font-size="19.0" text-anchor="end">SC</text>
<text transform="translate(579.9 972.6) rotate(-90)" font-size="19.0" text-anchor="end">SC</text>
<text x="375.2" y="935.8" font-size="19.0" text-anchor="end">TH</text>
<text transform="translate(602.2 972.6) rotate(-90)" font-size="19.0" text-anchor="end">TH</text>
<text x="375.2" y="958.1" font-size="19.0" text-anchor="end">P</text>
<text transform="translate(624.5 972.6) rotate(-90)" font-size="19.0" text-anchor="end">P</text>
<rect x="706.1" y="719.2" width="245.4" height="245" fill="#440154"/>
<path d="M741.1 719.2h17.8v17.8h-17.8zM706.1 754.2h17.8v17.8h-17.8z" fill="#482878"/>
<path d="M793.7 789.2h17.8v17.8h-17.8zM776.2 806.8h17.8v17.8h-17.8z" fill="#443983"/>
<path d="M723.6 719.2h17.8v17.8h-17.8zM706.1 736.8h17.8v17.8h-17.8zM758.6 736.8h17.8v17.8h-17.8zM723.6 771.8h17.8v17.8h-17.8zM811.2 789.2h17.8v17.8h-17.8zM776.2 824.2h17.8v17.8h-17.8zM846.3 824.2h17.8v17.8h-17.8zM811.2 859.2h17.8v17.8h-17.8z" fill="#3e4989"/>
<path d="M846.3 806.8h17.8v17.8h-17.8zM793.7 859.2h17.8v17.8h-17.8z" fill="#375a8c"/>
<path d="M758.6 719.2h17.8v17.8h-17.8zM706.1 771.8h17.8v17.8h-17.8zM828.8 806.8h17.8v17.8h-17.8zM828.8 824.2h17.8v17.8h-17.8zM793.7 841.8h17.8v17.8h-17.8zM811.2 841.8h17.8v17.8h-17.8zM846.3 841.8h17.8v17.8h-17.8zM828.8 859.2h17.8v17.8h-17.8zM933.9 929.2h17.8v17.8h-17.8zM916.4 946.8h17.8v17.8h-17.8z" fill="#31688e"/>
<path d="M846.3 789.2h17.8v17.8h-17.8zM776.2 859.2h17.8v17.8h-17.8z" fill="#26828e"/>
<path d="M828.8 789.2h17.8v17.8h-17.8zM776.2 841.8h17.8v17.8h-17.8zM881.3 876.8h17.8v17.8h-17.8zM863.8 894.2h17.8v17.8h-17.8z" fill="#21918c"/>
<path d="M846.3 754.2h17.8v17.8h-17.8zM863.8 789.2h17.8v17.8h-17.8zM881.3 789.2h17.8v17.8h-17.8zM863.8 806.8h17.8v17.8h-17.8zM881.3 806.8h17.8v17.8h-17.8zM863.8 824.2h17.8v17.8h-17.8zM741.1 859.2h17.8v17.8h-17.8zM776.2 876.8h17.8v17.8h-17.8zM793.7 876.8h17.8v17.8h-17.8zM811.2 876.8h17.8v17.8h-17.8zM776.2 894.2h17.8v17.8h-17.8zM793.7 894.2h17.8v17.8h-17.8zM933.9 911.8h17.8v17.8h-17.8zM898.9 946.8h17.8v17.8h-17.8z" fill="#1f9e89"/>
<path d="M898.9 754.2h17.8v17.8h-17.8zM863.8 841.8h17.8v17.8h-17.8zM898.9 841.8h17.8v17.8h-17.8zM933.9 841.8h17.8v17.8h-17.8zM898.9 859.2h17.8v17.8h-17.8zM933.9 859.2h17.8v17.8h-17.8zM828.8 876.8h17.8v17.8h-17.8zM916.4 894.2h17.8v17.8h-17.8zM741.1 911.8h17.8v17.8h-17.8zM828.8 911.8h17.8v17.8h-17.8zM846.3 911.8h17.8v17.8h-17.8zM881.3 929.2h17.8v17.8h-17.8zM828.8 946.8h17.8v17.8h-17.8zM846.3 946.8h17.8v17.8h-17.8z" fill="#25ab82"/>
<path d="M846.3 736.8h17.8v17.8h-17.8zM776.2 754.2h17.8v17.8h-17.8zM793.7 754.2h17.8v17.8h-17.8zM811.2 754.2h17.8v17.8h-17.8zM933.9 754.2h17.8v17.8h-17.8zM846.3 771.8h17.8v17.8h-17.8zM741.1 789.2h17.8v17.8h-17.8zM741.1 806.8h17.8v17.8h-17.8zM933.9 806.8h17.8v17.8h-17.8zM741.1 824.2h17.8v17.8h-17.8zM881.3 824.2h17.8v17.8h-17.8zM723.6 859.2h17.8v17.8h-17.8zM758.6 859.2h17.8v17.8h-17.8zM863.8 859.2h17.8v17.8h-17.8zM846.3 876.8h17.8v17.8h-17.8zM811.2 894.2h17.8v17.8h-17.8zM933.9 894.2h17.8v17.8h-17.8zM741.1 946.8h17.8v17.8h-17.8zM793.7 946.8h17.8v17.8h-17.8zM881.3 946.8h17.8v17.8h-17.8z" fill="#35b779"/>
<path d="M828.8 754.2h17.8v17.8h-17.8zM811.2 771.8h17.8v17.8h-17.8zM898.9 789.2h17.8v17.8h-17.8zM758.6 824.2h17.8v17.8h-17.8zM741.1 841.8h17.8v17.8h-17.8zM776.2 911.8h17.8v17.8h-17.8z" fill="#4ec36b"/>
<path d="M776.2 719.2h17.8v17.8h-17.8zM793.7 719.2h17.8v17.8h-17.8zM811.2 719.2h17.8v17.8h-17.8zM846.3 719.2h17.8v17.8h-17.8zM793.7 736.8h17.8v17.8h-17.8zM811.2 736.8h17.8v17.8h-17.8zM828.8 736.8h17.8v17.8h-17.8zM898.9 736.8h17.8v17.8h-17.8zM863.8 754.2h17.8v17.8h-17.8zM776.2 771.8h17.8v17.8h-17.8zM793.7 771.8h17.8v17.8h-17.8zM898.9 771.8h17.8v17.8h-17.8zM706.1 789.2h17.8v17.8h-17.8zM758.6 789.2h17.8v17.8h-17.8zM933.9 789.2h17.8v17.8h-17.8zM706.1 806.8h17.8v17.8h-17.8zM723.6 806.8h17.8v17.8h-17.8zM758.6 806.8h17.8v17.8h-17.8zM898.9 806.8h17.8v17.8h-17.8zM706.1 824.2h17.8v17.8h-17.8zM723.6 824.2h17.8v17.8h-17.8zM898.9 824.2h17.8v17.8h-17.8zM933.9 824.2h17.8v17.8h-17.8zM723.6 841.8h17.8v17.8h-17.8zM881.3 841.8h17.8v17.8h-17.8zM706.1 859.2h17.8v17.8h-17.8zM741.1 876.8h17.8v17.8h-17.8zM933.9 876.8h17.8v17.8h-17.8zM828.8 894.2h17.8v17.8h-17.8zM723.6 911.8h17.8v17.8h-17.8zM758.6 911.8h17.8v17.8h-17.8zM793.7 911.8h17.8v17.8h-17.8zM811.2 911.8h17.8v17.8h-17.8zM776.2 946.8h17.8v17.8h-17.8zM811.2 946.8h17.8v17.8h-17.8zM863.8 946.8h17.8v17.8h-17.8z" fill="#6ece58"/>
<path d="M863.8 719.2h17.8v17.8h-17.8zM776.2 736.8h17.8v17.8h-17.8zM933.9 736.8h17.8v17.8h-17.8zM881.3 754.2h17.8v17.8h-17.8zM828.8 771.8h17.8v17.8h-17.8zM863.8 771.8h17.8v17.8h-17.8zM933.9 771.8h17.8v17.8h-17.8zM723.6 789.2h17.8v17.8h-17.8zM758.6 841.8h17.8v17.8h-17.8zM881.3 859.2h17.8v17.8h-17.8zM706.1 876.8h17.8v17.8h-17.8zM758.6 876.8h17.8v17.8h-17.8zM898.9 876.8h17.8v17.8h-17.8zM916.4 876.8h17.8v17.8h-17.8zM741.1 894.2h17.8v17.8h-17.8zM846.3 894.2h17.8v17.8h-17.8zM863.8 911.8h17.8v17.8h-17.8zM863.8 929.2h17.8v17.8h-17.8zM723.6 946.8h17.8v17.8h-17.8zM758.6 946.8h17.8v17.8h-17.8z" fill="#90d743"/>
<path d="M828.8 719.2h17.8v17.8h-17.8zM881.3 719.2h17.8v17.8h-17.8zM898.9 719.2h17.8v17.8h-17.8zM933.9 719.2h17.8v17.8h-17.8zM863.8 736.8h17.8v17.8h-17.8zM881.3 771.8h17.8v17.8h-17.8zM916.4 789.2h17.8v17.8h-17.8zM916.4 806.8h17.8v17.8h-17.8zM706.1 841.8h17.8v17.8h-17.8zM916.4 841.8h17.8v17.8h-17.8zM723.6 876.8h17.8v17.8h-17.8zM706.1 894.2h17.8v17.8h-17.8zM758.6 894.2h17.8v17.8h-17.8zM898.9 894.2h17.8v17.8h-17.8zM706.1 911.8h17.8v17.8h-17.8zM881.3 911.8h17.8v17.8h-17.8zM916.4 911.8h17.8v17.8h-17.8zM776.2 929.2h17.8v17.8h-17.8zM793.7 929.2h17.8v17.8h-17.8zM828.8 929.2h17.8v17.8h-17.8zM898.9 929.2h17.8v17.8h-17.8zM706.1 946.8h17.8v17.8h-17.8z" fill="#b5de2b"/>
<path d="M916.4 719.2h17.8v17.8h-17.8zM881.3 736.8h17.8v17.8h-17.8zM916.4 754.2h17.8v17.8h-17.8zM916.4 824.2h17.8v17.8h-17.8zM916.4 859.2h17.8v17.8h-17.8zM723.6 894.2h17.8v17.8h-17.8zM706.1 929.2h17.8v17.8h-17.8zM741.1 929.2h17.8v17.8h-17.8zM811.2 929.2h17.8v17.8h-17.8zM846.3 929.2h17.8v17.8h-17.8z" fill="#dae319"/>
<path d="M916.4 736.8h17.8v17.8h-17.8zM916.4 771.8h17.8v17.8h-17.8zM723.6 929.2h17.8v17.8h-17.8zM758.6 929.2h17.8v17.8h-17.8z" fill="#fde725"/>
<rect x="706.1" y="719.2" width="245.4" height="245" fill="none" stroke="#000" stroke-width="1.1"/>
<path d="M714.8 964.2v4.8M706.1 728h-4.8M732.4 964.2v4.8M706.1 745.5h-4.8M749.9 964.2v4.8M706.1 763h-4.8M767.4 964.2v4.8M706.1 780.5h-4.8M784.9 964.2v4.8M706.1 798h-4.8M802.5 964.2v4.8M706.1 815.5h-4.8M820 964.2v4.8M706.1 833h-4.8M837.5 964.2v4.8M706.1 850.5h-4.8M855.1 964.2v4.8M706.1 868h-4.8M872.6 964.2v4.8M706.1 885.5h-4.8M890.1 964.2v4.8M706.1 903h-4.8M907.6 964.2v4.8M706.1 920.5h-4.8M925.2 964.2v4.8M706.1 938h-4.8M942.7 964.2v4.8M706.1 955.5h-4.8" stroke="#000" stroke-width="1.2" fill="none"/>
<text x="811.5" y="711.4" font-size="23.3" text-anchor="start">ACA</text>
<text x="698" y="733" font-size="19.0" text-anchor="end">VTA</text>
<text transform="translate(719.4 972.6) rotate(-90)" font-size="19.0" text-anchor="end">VTA</text>
<text x="698" y="750.5" font-size="19.0" text-anchor="end">SC</text>
<text transform="translate(737 972.6) rotate(-90)" font-size="19.0" text-anchor="end">SC</text>
<text x="698" y="768" font-size="19.0" text-anchor="end">TH</text>
<text transform="translate(754.5 972.6) rotate(-90)" font-size="19.0" text-anchor="end">TH</text>
<text x="698" y="785.5" font-size="19.0" text-anchor="end">P</text>
<text transform="translate(772 972.6) rotate(-90)" font-size="19.0" text-anchor="end">P</text>
<text x="698" y="803" font-size="19.0" text-anchor="end">VISp</text>
<text transform="translate(789.5 972.6) rotate(-90)" font-size="19.0" text-anchor="end">VISp</text>
<text x="698" y="820.5" font-size="19.0" text-anchor="end">RSP</text>
<text transform="translate(807.1 972.6) rotate(-90)" font-size="19.0" text-anchor="end">RSP</text>
<text x="698" y="838" font-size="19.0" text-anchor="end">PTLp</text>
<text transform="translate(824.6 972.6) rotate(-90)" font-size="19.0" text-anchor="end">PTLp</text>
<text x="698" y="855.5" font-size="19.0" text-anchor="end">MOp</text>
<text transform="translate(842.1 972.6) rotate(-90)" font-size="19.0" text-anchor="end">MOp</text>
<text x="698" y="873" font-size="19.0" text-anchor="end">STR</text>
<text transform="translate(859.7 972.6) rotate(-90)" font-size="19.0" text-anchor="end">STR</text>
<text x="698" y="890.5" font-size="19.0" text-anchor="end">PFC</text>
<text transform="translate(877.2 972.6) rotate(-90)" font-size="19.0" text-anchor="end">PFC</text>
<text x="698" y="908" font-size="19.0" text-anchor="end">AUDp</text>
<text transform="translate(894.7 972.6) rotate(-90)" font-size="19.0" text-anchor="end">AUDp</text>
<text x="698" y="925.5" font-size="19.0" text-anchor="end">SSp</text>
<text transform="translate(912.2 972.6) rotate(-90)" font-size="19.0" text-anchor="end">SSp</text>
<text x="698" y="943" font-size="19.0" text-anchor="end">AI</text>
<text transform="translate(929.8 972.6) rotate(-90)" font-size="19.0" text-anchor="end">AI</text>
<text x="698" y="960.5" font-size="19.0" text-anchor="end">AMY</text>
<text transform="translate(947.3 972.6) rotate(-90)" font-size="19.0" text-anchor="end">AMY</text>
<rect x="1026.5" y="719.2" width="245.4" height="245" fill="#440154"/>
<path d="M1149.2 806.8h17.8v17.8h-17.8zM1114.1 841.8h17.8v17.8h-17.8z" fill="#443983"/>
<path d="M1254.4 929.2h17.8v17.8h-17.8zM1236.8 946.8h17.8v17.8h-17.8z" fill="#3e4989"/>
<path d="M1149.2 771.8h17.8v17.8h-17.8zM1149.2 789.2h17.8v17.8h-17.8zM1079.1 841.8h17.8v17.8h-17.8zM1096.6 841.8h17.8v17.8h-17.8zM1236.8 911.8h17.8v17.8h-17.8zM1219.3 929.2h17.8v17.8h-17.8z" fill="#375a8c"/>
<path d="M1044 719.2h17.8v17.8h-17.8zM1026.5 736.8h17.8v17.8h-17.8zM1149.2 736.8h17.8v17.8h-17.8zM1131.7 806.8h17.8v17.8h-17.8zM1114.1 824.2h17.8v17.8h-17.8zM1044 841.8h17.8v17.8h-17.8zM1236.8 894.2h17.8v17.8h-17.8zM1201.8 929.2h17.8v17.8h-17.8z" fill="#2b758e"/>
<path d="M1236.8 754.2h17.8v17.8h-17.8zM1061.5 929.2h17.8v17.8h-17.8z" fill="#26828e"/>
<path d="M1131.7 736.8h17.8v17.8h-17.8zM1044 824.2h17.8v17.8h-17.8zM1254.4 911.8h17.8v17.8h-17.8zM1219.3 946.8h17.8v17.8h-17.8z" fill="#21918c"/>
<path d="M1061.5 719.2h17.8v17.8h-17.8zM1149.2 719.2h17.8v17.8h-17.8zM1079.1 736.8h17.8v17.8h-17.8zM1026.5 754.2h17.8v17.8h-17.8zM1044 771.8h17.8v17.8h-17.8zM1131.7 771.8h17.8v17.8h-17.8zM1131.7 789.2h17.8v17.8h-17.8zM1079.1 824.2h17.8v17.8h-17.8zM1096.6 824.2h17.8v17.8h-17.8zM1026.5 841.8h17.8v17.8h-17.8z" fill="#1f9e89"/>
<path d="M1236.8 736.8h17.8v17.8h-17.8zM1149.2 754.2h17.8v17.8h-17.8zM1219.3 754.2h17.8v17.8h-17.8zM1114.1 789.2h17.8v17.8h-17.8zM1096.6 806.8h17.8v17.8h-17.8zM1061.5 841.8h17.8v17.8h-17.8zM1254.4 876.8h17.8v17.8h-17.8zM1219.3 894.2h17.8v17.8h-17.8zM1061.5 911.8h17.8v17.8h-17.8zM1201.8 911.8h17.8v17.8h-17.8zM1044 929.2h17.8v17.8h-17.8zM1184.2 946.8h17.8v17.8h-17.8z" fill="#25ab82"/>
<path d="M1236.8 719.2h17.8v17.8h-17.8zM1114.1 736.8h17.8v17.8h-17.8zM1131.7 754.2h17.8v17.8h-17.8zM1254.4 754.2h17.8v17.8h-17.8zM1096.6 771.8h17.8v17.8h-17.8zM1079.1 789.2h17.8v17.8h-17.8zM1044 806.8h17.8v17.8h-17.8zM1061.5 824.2h17.8v17.8h-17.8zM1219.3 859.2h17.8v17.8h-17.8zM1166.7 911.8h17.8v17.8h-17.8zM1026.5 929.2h17.8v17.8h-17.8zM1061.5 946.8h17.8v17.8h-17.8z" fill="#35b779"/>
<path d="M1096.6 736.8h17.8v17.8h-17.8zM1114.1 754.2h17.8v17.8h-17.8zM1044 789.2h17.8v17.8h-17.8zM1061.5 806.8h17.8v17.8h-17.8z" fill="#4ec36b"/>
<path d="M1079.1 719.2h17.8v17.8h-17.8zM1131.7 719.2h17.8v17.8h-17.8zM1254.4 736.8h17.8v17.8h-17.8zM1026.5 771.8h17.8v17.8h-17.8zM1114.1 771.8h17.8v17.8h-17.8zM1079.1 806.8h17.8v17.8h-17.8zM1184.2 806.8h17.8v17.8h-17.8zM1026.5 824.2h17.8v17.8h-17.8zM1114.1 876.8h17.8v17.8h-17.8zM1254.4 894.2h17.8v17.8h-17.8zM1044 946.8h17.8v17.8h-17.8zM1201.8 946.8h17.8v17.8h-17.8z" fill="#6ece58"/>
<path d="M1184.2 736.8h17.8v17.8h-17.8zM1201.8 736.8h17.8v17.8h-17.8zM1219.3 736.8h17.8v17.8h-17.8zM1079.1 754.2h17.8v17.8h-17.8zM1096.6 754.2h17.8v17.8h-17.8zM1184.2 754.2h17.8v17.8h-17.8zM1201.8 754.2h17.8v17.8h-17.8zM1061.5 771.8h17.8v17.8h-17.8zM1061.5 789.2h17.8v17.8h-17.8zM1184.2 789.2h17.8v17.8h-17.8zM1254.4 789.2h17.8v17.8h-17.8zM1184.2 824.2h17.8v17.8h-17.8zM1236.8 824.2h17.8v17.8h-17.8zM1184.2 841.8h17.8v17.8h-17.8zM1044 876.8h17.8v17.8h-17.8zM1061.5 876.8h17.8v17.8h-17.8zM1096.6 876.8h17.8v17.8h-17.8zM1131.7 876.8h17.8v17.8h-17.8zM1149.2 876.8h17.8v17.8h-17.8zM1236.8 876.8h17.8v17.8h-17.8zM1044 894.2h17.8v17.8h-17.8zM1061.5 894.2h17.8v17.8h-17.8zM1044 911.8h17.8v17.8h-17.8zM1131.7 929.2h17.8v17.8h-17.8zM1184.2 929.2h17.8v17.8h-17.8zM1096.6 946.8h17.8v17.8h-17.8z" fill="#b5de2b"/>
<path d="M1096.6 719.2h17.8v17.8h-17.8zM1114.1 719.2h17.8v17.8h-17.8zM1201.8 719.2h17.8v17.8h-17.8zM1219.3 719.2h17.8v17.8h-17.8zM1254.4 719.2h17.8v17.8h-17.8zM1254.4 771.8h17.8v17.8h-17.8zM1026.5 789.2h17.8v17.8h-17.8zM1026.5 806.8h17.8v17.8h-17.8zM1236.8 806.8h17.8v17.8h-17.8zM1254.4 806.8h17.8v17.8h-17.8zM1219.3 824.2h17.8v17.8h-17.8zM1254.4 824.2h17.8v17.8h-17.8zM1219.3 841.8h17.8v17.8h-17.8zM1236.8 841.8h17.8v17.8h-17.8zM1254.4 841.8h17.8v17.8h-17.8zM1254.4 859.2h17.8v17.8h-17.8zM1219.3 876.8h17.8v17.8h-17.8zM1026.5 894.2h17.8v17.8h-17.8zM1026.5 911.8h17.8v17.8h-17.8zM1131.7 911.8h17.8v17.8h-17.8zM1149.2 911.8h17.8v17.8h-17.8zM1184.2 911.8h17.8v17.8h-17.8zM1114.1 929.2h17.8v17.8h-17.8zM1149.2 929.2h17.8v17.8h-17.8zM1026.5 946.8h17.8v17.8h-17.8zM1079.1 946.8h17.8v17.8h-17.8zM1114.1 946.8h17.8v17.8h-17.8zM1131.7 946.8h17.8v17.8h-17.8zM1149.2 946.8h17.8v17.8h-17.8zM1166.7 946.8h17.8v17.8h-17.8z" fill="#dae319"/>
<path d="M1201.8 771.8h17.8v17.8h-17.8zM1219.3 771.8h17.8v17.8h-17.8zM1236.8 771.8h17.8v17.8h-17.8zM1201.8 789.2h17.8v17.8h-17.8zM1219.3 789.2h17.8v17.8h-17.8zM1236.8 789.2h17.8v17.8h-17.8zM1201.8 806.8h17.8v17.8h-17.8zM1219.3 806.8h17.8v17.8h-17.8zM1079.1 894.2h17.8v17.8h-17.8zM1096.6 894.2h17.8v17.8h-17.8zM1114.1 894.2h17.8v17.8h-17.8zM1079.1 911.8h17.8v17.8h-17.8zM1096.6 911.8h17.8v17.8h-17.8zM1114.1 911.8h17.8v17.8h-17.8zM1079.1 929.2h17.8v17.8h-17.8zM1096.6 929.2h17.8v17.8h-17.8z" fill="#ece51b"/>
<path d="M1166.7 719.2h17.8v17.8h-17.8zM1184.2 719.2h17.8v17.8h-17.8zM1166.7 736.8h17.8v17.8h-17.8zM1166.7 754.2h17.8v17.8h-17.8zM1166.7 771.8h17.8v17.8h-17.8zM1184.2 771.8h17.8v17.8h-17.8zM1166.7 789.2h17.8v17.8h-17.8zM1166.7 806.8h17.8v17.8h-17.8zM1166.7 824.2h17.8v17.8h-17.8zM1201.8 824.2h17.8v17.8h-17.8zM1166.7 841.8h17.8v17.8h-17.8zM1201.8 841.8h17.8v17.8h-17.8zM1026.5 859.2h17.8v17.8h-17.8zM1044 859.2h17.8v17.8h-17.8zM1061.5 859.2h17.8v17.8h-17.8zM1079.1 859.2h17.8v17.8h-17.8zM1096.6 859.2h17.8v17.8h-17.8zM1114.1 859.2h17.8v17.8h-17.8zM1131.7 859.2h17.8v17.8h-17.8zM1149.2 859.2h17.8v17.8h-17.8zM1184.2 859.2h17.8v17.8h-17.8zM1201.8 859.2h17.8v17.8h-17.8zM1236.8 859.2h17.8v17.8h-17.8zM1026.5 876.8h17.8v17.8h-17.8zM1079.1 876.8h17.8v17.8h-17.8zM1166.7 876.8h17.8v17.8h-17.8zM1201.8 876.8h17.8v17.8h-17.8zM1131.7 894.2h17.8v17.8h-17.8zM1149.2 894.2h17.8v17.8h-17.8zM1166.7 894.2h17.8v17.8h-17.8zM1184.2 894.2h17.8v17.8h-17.8zM1166.7 929.2h17.8v17.8h-17.8z" fill="#fde725"/>
<rect x="1026.5" y="719.2" width="245.4" height="245" fill="none" stroke="#000" stroke-width="1.1"/>
<path d="M1035.3 964.2v4.8M1026.5 728h-4.8M1052.8 964.2v4.8M1026.5 745.5h-4.8M1070.3 964.2v4.8M1026.5 763h-4.8M1087.8 964.2v4.8M1026.5 780.5h-4.8M1105.4 964.2v4.8M1026.5 798h-4.8M1122.9 964.2v4.8M1026.5 815.5h-4.8M1140.4 964.2v4.8M1026.5 833h-4.8M1158 964.2v4.8M1026.5 850.5h-4.8M1175.5 964.2v4.8M1026.5 868h-4.8M1193 964.2v4.8M1026.5 885.5h-4.8M1210.5 964.2v4.8M1026.5 903h-4.8M1228.1 964.2v4.8M1026.5 920.5h-4.8M1245.6 964.2v4.8M1026.5 938h-4.8M1263.1 964.2v4.8M1026.5 955.5h-4.8" stroke="#000" stroke-width="1.2" fill="none"/>
<text x="1141.3" y="711.4" font-size="23.3" text-anchor="start">AI</text>
<text x="1018.4" y="733" font-size="19.0" text-anchor="end">SSp</text>
<text transform="translate(1039.9 972.6) rotate(-90)" font-size="19.0" text-anchor="end">SSp</text>
<text x="1018.4" y="750.5" font-size="19.0" text-anchor="end">ACA</text>
<text transform="translate(1057.4 972.6) rotate(-90)" font-size="19.0" text-anchor="end">ACA</text>
<text x="1018.4" y="768" font-size="19.0" text-anchor="end">STR</text>
<text transform="translate(1074.9 972.6) rotate(-90)" font-size="19.0" text-anchor="end">STR</text>
<text x="1018.4" y="785.5" font-size="19.0" text-anchor="end">RSP</text>
<text transform="translate(1092.4 972.6) rotate(-90)" font-size="19.0" text-anchor="end">RSP</text>
<text x="1018.4" y="803" font-size="19.0" text-anchor="end">VISp</text>
<text transform="translate(1110 972.6) rotate(-90)" font-size="19.0" text-anchor="end">VISp</text>
<text x="1018.4" y="820.5" font-size="19.0" text-anchor="end">AUDp</text>
<text transform="translate(1127.5 972.6) rotate(-90)" font-size="19.0" text-anchor="end">AUDp</text>
<text x="1018.4" y="838" font-size="19.0" text-anchor="end">MOp</text>
<text transform="translate(1145 972.6) rotate(-90)" font-size="19.0" text-anchor="end">MOp</text>
<text x="1018.4" y="855.5" font-size="19.0" text-anchor="end">PTLp</text>
<text transform="translate(1162.6 972.6) rotate(-90)" font-size="19.0" text-anchor="end">PTLp</text>
<text x="1018.4" y="873" font-size="19.0" text-anchor="end">MY</text>
<text transform="translate(1180.1 972.6) rotate(-90)" font-size="19.0" text-anchor="end">MY</text>
<text x="1018.4" y="890.5" font-size="19.0" text-anchor="end">PFC</text>
<text transform="translate(1197.6 972.6) rotate(-90)" font-size="19.0" text-anchor="end">PFC</text>
<text x="1018.4" y="908" font-size="19.0" text-anchor="end">P</text>
<text transform="translate(1215.1 972.6) rotate(-90)" font-size="19.0" text-anchor="end">P</text>
<text x="1018.4" y="925.5" font-size="19.0" text-anchor="end">SC</text>
<text transform="translate(1232.7 972.6) rotate(-90)" font-size="19.0" text-anchor="end">SC</text>
<text x="1018.4" y="943" font-size="19.0" text-anchor="end">TH</text>
<text transform="translate(1250.2 972.6) rotate(-90)" font-size="19.0" text-anchor="end">TH</text>
<text x="1018.4" y="960.5" font-size="19.0" text-anchor="end">HY</text>
<text transform="translate(1267.7 972.6) rotate(-90)" font-size="19.0" text-anchor="end">HY</text>
<rect x="1346.9" y="719.2" width="245.4" height="245" fill="#440154"/>
<path d="M1494.2 841.8h24.8v24.8h-24.8zM1469.6 866.2h24.8v24.8h-24.8z" fill="#443983"/>
<path d="M1567.8 915.2h24.8v24.8h-24.8zM1543.2 939.8h24.8v24.8h-24.8z" fill="#3e4989"/>
<path d="M1567.8 841.8h24.8v24.8h-24.8zM1567.8 866.2h24.8v24.8h-24.8zM1543.2 890.8h24.8v24.8h-24.8zM1567.8 890.8h24.8v24.8h-24.8zM1518.7 915.2h24.8v24.8h-24.8zM1469.6 939.8h24.8v24.8h-24.8zM1494.2 939.8h24.8v24.8h-24.8zM1518.7 939.8h24.8v24.8h-24.8z" fill="#375a8c"/>
<path d="M1469.6 743.8h24.8v24.8h-24.8zM1567.8 743.8h24.8v24.8h-24.8zM1371.5 841.8h24.8v24.8h-24.8zM1371.5 939.8h24.8v24.8h-24.8z" fill="#31688e"/>
<path d="M1567.8 817.2h24.8v24.8h-24.8zM1518.7 866.2h24.8v24.8h-24.8zM1543.2 866.2h24.8v24.8h-24.8zM1494.2 890.8h24.8v24.8h-24.8zM1494.2 915.2h24.8v24.8h-24.8zM1445.1 939.8h24.8v24.8h-24.8z" fill="#2b758e"/>
<path d="M1396 719.2h24.8v24.8h-24.8zM1420.5 743.8h24.8v24.8h-24.8zM1494.2 743.8h24.8v24.8h-24.8zM1346.9 768.2h24.8v24.8h-24.8zM1567.8 768.2h24.8v24.8h-24.8zM1371.5 792.8h24.8v24.8h-24.8zM1371.5 866.2h24.8v24.8h-24.8zM1396 939.8h24.8v24.8h-24.8z" fill="#26828e"/>
<path d="M1494.2 768.2h24.8v24.8h-24.8zM1469.6 792.8h24.8v24.8h-24.8zM1420.5 841.8h24.8v24.8h-24.8zM1396 866.2h24.8v24.8h-24.8z" fill="#21918c"/>
<path d="M1371.5 719.2h24.8v24.8h-24.8zM1346.9 743.8h24.8v24.8h-24.8zM1469.6 768.2h24.8v24.8h-24.8zM1396 841.8h24.8v24.8h-24.8zM1543.2 841.8h24.8v24.8h-24.8zM1469.6 915.2h24.8v24.8h-24.8z" fill="#1f9e89"/>
<path d="M1518.7 719.2h24.8v24.8h-24.8zM1445.1 768.2h24.8v24.8h-24.8zM1494.2 792.8h24.8v24.8h-24.8zM1567.8 792.8h24.8v24.8h-24.8zM1396 817.2h24.8v24.8h-24.8zM1469.6 817.2h24.8v24.8h-24.8zM1494.2 817.2h24.8v24.8h-24.8zM1445.1 841.8h24.8v24.8h-24.8zM1420.5 866.2h24.8v24.8h-24.8zM1445.1 866.2h24.8v24.8h-24.8zM1346.9 890.8h24.8v24.8h-24.8zM1420.5 939.8h24.8v24.8h-24.8z" fill="#25ab82"/>
<path d="M1518.7 743.8h24.8v24.8h-24.8zM1543.2 743.8h24.8v24.8h-24.8zM1420.5 768.2h24.8v24.8h-24.8zM1518.7 768.2h24.8v24.8h-24.8zM1396 792.8h24.8v24.8h-24.8zM1518.7 817.2h24.8v24.8h-24.8zM1518.7 841.8h24.8v24.8h-24.8zM1371.5 890.8h24.8v24.8h-24.8zM1396 890.8h24.8v24.8h-24.8zM1445.1 890.8h24.8v24.8h-24.8zM1469.6 890.8h24.8v24.8h-24.8zM1371.5 915.2h24.8v24.8h-24.8z" fill="#35b779"/>
<path d="M1445.1 743.8h24.8v24.8h-24.8zM1543.2 768.2h24.8v24.8h-24.8zM1543.2 792.8h24.8v24.8h-24.8zM1371.5 817.2h24.8v24.8h-24.8zM1543.2 817.2h24.8v24.8h-24.8zM1396 915.2h24.8v24.8h-24.8zM1420.5 915.2h24.8v24.8h-24.8zM1445.1 915.2h24.8v24.8h-24.8z" fill="#4ec36b"/>
<path d="M1445.1 719.2h24.8v24.8h-24.8zM1567.8 719.2h24.8v24.8h-24.8zM1346.9 817.2h24.8v24.8h-24.8zM1346.9 939.8h24.8v24.8h-24.8z" fill="#6ece58"/>
<path d="M1543.2 719.2h24.8v24.8h-24.8zM1346.9 915.2h24.8v24.8h-24.8z" fill="#90d743"/>
<path d="M1469.6 719.2h24.8v24.8h-24.8zM1494.2 719.2h24.8v24.8h-24.8zM1445.1 792.8h24.8v24.8h-24.8zM1518.7 792.8h24.8v24.8h-24.8zM1420.5 817.2h24.8v24.8h-24.8zM1346.9 841.8h24.8v24.8h-24.8zM1346.9 866.2h24.8v24.8h-24.8zM1420.5 890.8h24.8v24.8h-24.8z" fill="#b5de2b"/>
<path d="M1420.5 719.2h24.8v24.8h-24.8zM1346.9 792.8h24.8v24.8h-24.8z" fill="#ece51b"/>
<rect x="1346.9" y="719.2" width="245.4" height="245" fill="none" stroke="#000" stroke-width="1.1"/>
<path d="M1359.2 964.2v4.8M1346.9 731.5h-4.8M1383.7 964.2v4.8M1346.9 756h-4.8M1408.3 964.2v4.8M1346.9 780.5h-4.8M1432.8 964.2v4.8M1346.9 805h-4.8M1457.4 964.2v4.8M1346.9 829.5h-4.8M1481.9 964.2v4.8M1346.9 854h-4.8M1506.4 964.2v4.8M1346.9 878.5h-4.8M1531 964.2v4.8M1346.9 903h-4.8M1555.5 964.2v4.8M1346.9 927.5h-4.8M1580.1 964.2v4.8M1346.9 952h-4.8" stroke="#000" stroke-width="1.2" fill="none"/>
<text x="1452.4" y="711.4" font-size="23.3" text-anchor="start">RSP</text>
<text x="1338.8" y="736.5" font-size="19.0" text-anchor="end">SC</text>
<text transform="translate(1363.8 972.6) rotate(-90)" font-size="19.0" text-anchor="end">SC</text>
<text x="1338.8" y="761" font-size="19.0" text-anchor="end">TH</text>
<text transform="translate(1388.3 972.6) rotate(-90)" font-size="19.0" text-anchor="end">TH</text>
<text x="1338.8" y="785.5" font-size="19.0" text-anchor="end">P</text>
<text transform="translate(1412.9 972.6) rotate(-90)" font-size="19.0" text-anchor="end">P</text>
<text x="1338.8" y="810" font-size="19.0" text-anchor="end">ENT</text>
<text transform="translate(1437.4 972.6) rotate(-90)" font-size="19.0" text-anchor="end">ENT</text>
<text x="1338.8" y="834.5" font-size="19.0" text-anchor="end">AUDp</text>
<text transform="translate(1462 972.6) rotate(-90)" font-size="19.0" text-anchor="end">AUDp</text>
<text x="1338.8" y="859" font-size="19.0" text-anchor="end">ACA</text>
<text transform="translate(1486.5 972.6) rotate(-90)" font-size="19.0" text-anchor="end">ACA</text>
<text x="1338.8" y="883.5" font-size="19.0" text-anchor="end">PTLp</text>
<text transform="translate(1511 972.6) rotate(-90)" font-size="19.0" text-anchor="end">PTLp</text>
<text x="1338.8" y="908" font-size="19.0" text-anchor="end">VISp</text>
<text transform="translate(1535.6 972.6) rotate(-90)" font-size="19.0" text-anchor="end">VISp</text>
<text x="1338.8" y="932.5" font-size="19.0" text-anchor="end">MOp</text>
<text transform="translate(1560.1 972.6) rotate(-90)" font-size="19.0" text-anchor="end">MOp</text>
<text x="1338.8" y="957" font-size="19.0" text-anchor="end">SSp</text>
<text transform="translate(1584.7 972.6) rotate(-90)" font-size="19.0" text-anchor="end">SSp</text>
<rect x="1667.4" y="719.2" width="245.4" height="245" fill="#440154"/>
<path d="M1839.1 841.8h24.8v24.8h-24.8zM1790.1 890.8h24.8v24.8h-24.8z" fill="#482878"/>
<path d="M1691.9 719.2h24.8v24.8h-24.8zM1667.4 743.8h24.8v24.8h-24.8z" fill="#443983"/>
<path d="M1814.6 841.8h24.8v24.8h-24.8zM1790.1 866.2h24.8v24.8h-24.8z" fill="#3e4989"/>
<path d="M1716.4 719.2h24.8v24.8h-24.8zM1667.4 768.2h24.8v24.8h-24.8zM1863.7 841.8h24.8v24.8h-24.8zM1790.1 915.2h24.8v24.8h-24.8z" fill="#375a8c"/>
<path d="M1888.2 792.8h24.8v24.8h-24.8zM1888.2 866.2h24.8v24.8h-24.8zM1741 939.8h24.8v24.8h-24.8zM1814.6 939.8h24.8v24.8h-24.8z" fill="#2b758e"/>
<path d="M1888.2 915.2h24.8v24.8h-24.8zM1863.7 939.8h24.8v24.8h-24.8z" fill="#26828e"/>
<path d="M1765.5 743.8h24.8v24.8h-24.8zM1691.9 817.2h24.8v24.8h-24.8zM1888.2 817.2h24.8v24.8h-24.8zM1888.2 841.8h24.8v24.8h-24.8zM1765.5 939.8h24.8v24.8h-24.8zM1790.1 939.8h24.8v24.8h-24.8z" fill="#21918c"/>
<path d="M1741 743.8h24.8v24.8h-24.8zM1888.2 743.8h24.8v24.8h-24.8zM1691.9 792.8h24.8v24.8h-24.8zM1863.7 792.8h24.8v24.8h-24.8zM1863.7 866.2h24.8v24.8h-24.8zM1888.2 890.8h24.8v24.8h-24.8zM1741 915.2h24.8v24.8h-24.8zM1814.6 915.2h24.8v24.8h-24.8zM1691.9 939.8h24.8v24.8h-24.8zM1839.1 939.8h24.8v24.8h-24.8z" fill="#1f9e89"/>
<path d="M1888.2 719.2h24.8v24.8h-24.8zM1814.6 817.2h24.8v24.8h-24.8zM1765.5 866.2h24.8v24.8h-24.8zM1667.4 939.8h24.8v24.8h-24.8z" fill="#25ab82"/>
<path d="M1790.1 817.2h24.8v24.8h-24.8zM1765.5 841.8h24.8v24.8h-24.8zM1863.7 890.8h24.8v24.8h-24.8zM1839.1 915.2h24.8v24.8h-24.8z" fill="#35b779"/>
<path d="M1790.1 719.2h24.8v24.8h-24.8zM1814.6 719.2h24.8v24.8h-24.8zM1790.1 743.8h24.8v24.8h-24.8zM1814.6 743.8h24.8v24.8h-24.8zM1790.1 792.8h24.8v24.8h-24.8zM1814.6 792.8h24.8v24.8h-24.8zM1863.7 817.2h24.8v24.8h-24.8zM1667.4 841.8h24.8v24.8h-24.8zM1691.9 841.8h24.8v24.8h-24.8zM1741 841.8h24.8v24.8h-24.8zM1667.4 866.2h24.8v24.8h-24.8zM1691.9 866.2h24.8v24.8h-24.8zM1741 866.2h24.8v24.8h-24.8zM1765.5 915.2h24.8v24.8h-24.8z" fill="#4ec36b"/>
<path d="M1741 719.2h24.8v24.8h-24.8zM1765.5 719.2h24.8v24.8h-24.8zM1667.4 792.8h24.8v24.8h-24.8zM1667.4 817.2h24.8v24.8h-24.8z" fill="#6ece58"/>
<path d="M1888.2 768.2h24.8v24.8h-24.8zM1716.4 939.8h24.8v24.8h-24.8z" fill="#90d743"/>
<path d="M1839.1 719.2h24.8v24.8h-24.8zM1863.7 719.2h24.8v24.8h-24.8zM1839.1 743.8h24.8v24.8h-24.8zM1863.7 743.8h24.8v24.8h-24.8zM1741 768.2h24.8v24.8h-24.8zM1765.5 768.2h24.8v24.8h-24.8zM1790.1 768.2h24.8v24.8h-24.8zM1814.6 768.2h24.8v24.8h-24.8zM1716.4 792.8h24.8v24.8h-24.8zM1716.4 817.2h24.8v24.8h-24.8zM1716.4 841.8h24.8v24.8h-24.8zM1716.4 866.2h24.8v24.8h-24.8zM1667.4 890.8h24.8v24.8h-24.8zM1691.9 890.8h24.8v24.8h-24.8zM1667.4 915.2h24.8v24.8h-24.8zM1691.9 915.2h24.8v24.8h-24.8z" fill="#b5de2b"/>
<path d="M1839.1 768.2h24.8v24.8h-24.8zM1863.7 768.2h24.8v24.8h-24.8zM1839.1 817.2h24.8v24.8h-24.8zM1716.4 890.8h24.8v24.8h-24.8zM1765.5 890.8h24.8v24.8h-24.8zM1716.4 915.2h24.8v24.8h-24.8z" fill="#dae319"/>
<path d="M1839.1 792.8h24.8v24.8h-24.8zM1741 890.8h24.8v24.8h-24.8z" fill="#ece51b"/>
<rect x="1667.4" y="719.2" width="245.4" height="245" fill="none" stroke="#000" stroke-width="1.1"/>
<path d="M1679.6 964.2v4.8M1667.4 731.5h-4.8M1704.2 964.2v4.8M1667.4 756h-4.8M1728.7 964.2v4.8M1667.4 780.5h-4.8M1753.2 964.2v4.8M1667.4 805h-4.8M1777.8 964.2v4.8M1667.4 829.5h-4.8M1802.3 964.2v4.8M1667.4 854h-4.8M1826.9 964.2v4.8M1667.4 878.5h-4.8M1851.4 964.2v4.8M1667.4 903h-4.8M1875.9 964.2v4.8M1667.4 927.5h-4.8M1900.5 964.2v4.8M1667.4 952h-4.8" stroke="#000" stroke-width="1.2" fill="none"/>
<text x="1772.3" y="711.4" font-size="23.3" text-anchor="start">AUD</text>
<text x="1659.3" y="736.5" font-size="19.0" text-anchor="end">SC</text>
<text transform="translate(1684.2 972.6) rotate(-90)" font-size="19.0" text-anchor="end">SC</text>
<text x="1659.3" y="761" font-size="19.0" text-anchor="end">TH</text>
<text transform="translate(1708.8 972.6) rotate(-90)" font-size="19.0" text-anchor="end">TH</text>
<text x="1659.3" y="785.5" font-size="19.0" text-anchor="end">P</text>
<text transform="translate(1733.3 972.6) rotate(-90)" font-size="19.0" text-anchor="end">P</text>
<text x="1659.3" y="810" font-size="19.0" text-anchor="end">SSp</text>
<text transform="translate(1757.8 972.6) rotate(-90)" font-size="19.0" text-anchor="end">SSp</text>
<text x="1659.3" y="834.5" font-size="19.0" text-anchor="end">ACA</text>
<text transform="translate(1782.4 972.6) rotate(-90)" font-size="19.0" text-anchor="end">ACA</text>
<text x="1659.3" y="859" font-size="19.0" text-anchor="end">RSP</text>
<text transform="translate(1806.9 972.6) rotate(-90)" font-size="19.0" text-anchor="end">RSP</text>
<text x="1659.3" y="883.5" font-size="19.0" text-anchor="end">PTLp</text>
<text transform="translate(1831.5 972.6) rotate(-90)" font-size="19.0" text-anchor="end">PTLp</text>
<text x="1659.3" y="908" font-size="19.0" text-anchor="end">VISp</text>
<text transform="translate(1856 972.6) rotate(-90)" font-size="19.0" text-anchor="end">VISp</text>
<text x="1659.3" y="932.5" font-size="19.0" text-anchor="end">MOp</text>
<text transform="translate(1880.5 972.6) rotate(-90)" font-size="19.0" text-anchor="end">MOp</text>
<text x="1659.3" y="957" font-size="19.0" text-anchor="end">STR</text>
<text transform="translate(1905.1 972.6) rotate(-90)" font-size="19.0" text-anchor="end">STR</text>
<rect x="65.2" y="1065.2" width="245.4" height="245" fill="#440154"/>
<path d="M290.1 1249h20.8v20.7h-20.8zM249.2 1289.8h20.8v20.7h-20.8z" fill="#481668"/>
<path d="M228.8 1208.2h20.8v20.7h-20.8zM208.4 1228.6h20.8v20.7h-20.8zM290.1 1228.6h20.8v20.7h-20.8zM228.8 1289.8h20.8v20.7h-20.8z" fill="#482878"/>
<path d="M106.1 1085.7h20.8v20.7h-20.8zM85.7 1106.1h20.8v20.7h-20.8zM208.4 1187.8h20.8v20.7h-20.8zM187.9 1208.2h20.8v20.7h-20.8z" fill="#443983"/>
<path d="M290.1 1208.2h20.8v20.7h-20.8zM269.7 1228.6h20.8v20.7h-20.8zM269.7 1249h20.8v20.7h-20.8zM228.8 1269.4h20.8v20.7h-20.8zM249.2 1269.4h20.8v20.7h-20.8zM208.4 1289.8h20.8v20.7h-20.8z" fill="#3e4989"/>
<path d="M228.8 1106.1h20.8v20.7h-20.8zM228.8 1167.3h20.8v20.7h-20.8zM106.1 1228.6h20.8v20.7h-20.8zM167.4 1228.6h20.8v20.7h-20.8z" fill="#375a8c"/>
<path d="M269.7 1167.3h20.8v20.7h-20.8zM167.4 1269.4h20.8v20.7h-20.8z" fill="#31688e"/>
<path d="M228.8 1187.8h20.8v20.7h-20.8zM249.2 1208.2h20.8v20.7h-20.8zM269.7 1208.2h20.8v20.7h-20.8zM187.9 1228.6h20.8v20.7h-20.8zM249.2 1228.6h20.8v20.7h-20.8zM208.4 1249h20.8v20.7h-20.8zM228.8 1249h20.8v20.7h-20.8zM208.4 1269.4h20.8v20.7h-20.8z" fill="#2b758e"/>
<path d="M249.2 1167.3h20.8v20.7h-20.8zM249.2 1187.8h20.8v20.7h-20.8zM269.7 1187.8h20.8v20.7h-20.8zM167.4 1249h20.8v20.7h-20.8zM187.9 1249h20.8v20.7h-20.8zM187.9 1269.4h20.8v20.7h-20.8z" fill="#26828e"/>
<path d="M269.7 1146.9h20.8v20.7h-20.8zM290.1 1187.8h20.8v20.7h-20.8zM147 1269.4h20.8v20.7h-20.8zM187.9 1289.8h20.8v20.7h-20.8z" fill="#21918c"/>
<path d="M208.4 1106.1h20.8v20.7h-20.8zM290.1 1106.1h20.8v20.7h-20.8zM228.8 1126.5h20.8v20.7h-20.8zM290.1 1167.3h20.8v20.7h-20.8zM106.1 1208.2h20.8v20.7h-20.8zM126.5 1228.6h20.8v20.7h-20.8zM106.1 1289.8h20.8v20.7h-20.8zM167.4 1289.8h20.8v20.7h-20.8z" fill="#1f9e89"/>
<path d="M228.8 1085.7h20.8v20.7h-20.8zM269.7 1106.1h20.8v20.7h-20.8zM187.9 1146.9h20.8v20.7h-20.8zM187.9 1167.3h20.8v20.7h-20.8zM147 1187.8h20.8v20.7h-20.8zM167.4 1187.8h20.8v20.7h-20.8zM85.7 1228.6h20.8v20.7h-20.8zM106.1 1269.4h20.8v20.7h-20.8z" fill="#25ab82"/>
<path d="M187.9 1106.1h20.8v20.7h-20.8zM249.2 1106.1h20.8v20.7h-20.8zM290.1 1146.9h20.8v20.7h-20.8zM208.4 1167.3h20.8v20.7h-20.8zM106.1 1187.8h20.8v20.7h-20.8zM167.4 1208.2h20.8v20.7h-20.8zM106.1 1249h20.8v20.7h-20.8zM147 1289.8h20.8v20.7h-20.8z" fill="#35b779"/>
<path d="M208.4 1085.7h20.8v20.7h-20.8zM167.4 1106.1h20.8v20.7h-20.8zM249.2 1146.9h20.8v20.7h-20.8zM106.1 1167.3h20.8v20.7h-20.8zM85.7 1208.2h20.8v20.7h-20.8zM147 1249h20.8v20.7h-20.8z" fill="#4ec36b"/>
<path d="M187.9 1085.7h20.8v20.7h-20.8zM290.1 1126.5h20.8v20.7h-20.8zM208.4 1146.9h20.8v20.7h-20.8zM85.7 1187.8h20.8v20.7h-20.8zM147 1208.2h20.8v20.7h-20.8zM126.5 1289.8h20.8v20.7h-20.8z" fill="#6ece58"/>
<path d="M106.1 1065.2h20.8v20.7h-20.8zM126.5 1065.2h20.8v20.7h-20.8zM167.4 1085.7h20.8v20.7h-20.8zM290.1 1085.7h20.8v20.7h-20.8zM65.2 1106.1h20.8v20.7h-20.8zM65.2 1126.5h20.8v20.7h-20.8zM167.4 1126.5h20.8v20.7h-20.8zM187.9 1126.5h20.8v20.7h-20.8zM208.4 1126.5h20.8v20.7h-20.8zM249.2 1126.5h20.8v20.7h-20.8zM269.7 1126.5h20.8v20.7h-20.8zM85.7 1167.3h20.8v20.7h-20.8zM126.5 1167.3h20.8v20.7h-20.8zM126.5 1187.8h20.8v20.7h-20.8zM126.5 1208.2h20.8v20.7h-20.8zM126.5 1249h20.8v20.7h-20.8zM126.5 1269.4h20.8v20.7h-20.8zM85.7 1289.8h20.8v20.7h-20.8z" fill="#90d743"/>
<path d="M85.7 1065.2h20.8v20.7h-20.8zM65.2 1085.7h20.8v20.7h-20.8zM249.2 1085.7h20.8v20.7h-20.8zM269.7 1085.7h20.8v20.7h-20.8zM167.4 1146.9h20.8v20.7h-20.8zM228.8 1146.9h20.8v20.7h-20.8zM147 1167.3h20.8v20.7h-20.8zM147 1228.6h20.8v20.7h-20.8zM85.7 1249h20.8v20.7h-20.8zM85.7 1269.4h20.8v20.7h-20.8z" fill="#b5de2b"/>
<path d="M187.9 1065.2h20.8v20.7h-20.8zM208.4 1065.2h20.8v20.7h-20.8zM228.8 1065.2h20.8v20.7h-20.8zM290.1 1065.2h20.8v20.7h-20.8zM147 1085.7h20.8v20.7h-20.8zM147 1106.1h20.8v20.7h-20.8zM147 1126.5h20.8v20.7h-20.8zM85.7 1146.9h20.8v20.7h-20.8zM106.1 1146.9h20.8v20.7h-20.8zM126.5 1146.9h20.8v20.7h-20.8zM65.2 1187.8h20.8v20.7h-20.8zM65.2 1208.2h20.8v20.7h-20.8zM65.2 1228.6h20.8v20.7h-20.8zM65.2 1289.8h20.8v20.7h-20.8z" fill="#dae319"/>
<path d="M147 1065.2h20.8v20.7h-20.8zM167.4 1065.2h20.8v20.7h-20.8zM249.2 1065.2h20.8v20.7h-20.8zM269.7 1065.2h20.8v20.7h-20.8zM65.2 1146.9h20.8v20.7h-20.8zM65.2 1167.3h20.8v20.7h-20.8zM65.2 1249h20.8v20.7h-20.8zM65.2 1269.4h20.8v20.7h-20.8z" fill="#ece51b"/>
<rect x="65.2" y="1065.2" width="245.4" height="245" fill="none" stroke="#000" stroke-width="1.1"/>
<path d="M75.4 1310.2v4.8M65.2 1075.5h-4.8M95.9 1310.2v4.8M65.2 1095.9h-4.8M116.3 1310.2v4.8M65.2 1116.3h-4.8M136.8 1310.2v4.8M65.2 1136.7h-4.8M157.2 1310.2v4.8M65.2 1157.1h-4.8M177.7 1310.2v4.8M65.2 1177.5h-4.8M198.1 1310.2v4.8M65.2 1198h-4.8M218.6 1310.2v4.8M65.2 1218.4h-4.8M239 1310.2v4.8M65.2 1238.8h-4.8M259.5 1310.2v4.8M65.2 1259.2h-4.8M279.9 1310.2v4.8M65.2 1279.6h-4.8M300.4 1310.2v4.8M65.2 1300h-4.8" stroke="#000" stroke-width="1.2" fill="none"/>
<text x="167.9" y="1057.3" font-size="23.3" text-anchor="start">PTLp</text>
<text x="54.8" y="1080.5" font-size="19.0" text-anchor="end">MY</text>
<text transform="translate(80 1318.7) rotate(-90)" font-size="19.0" text-anchor="end">MY</text>
<text x="54.8" y="1100.9" font-size="19.0" text-anchor="end">SC</text>
<text transform="translate(100.5 1318.7) rotate(-90)" font-size="19.0" text-anchor="end">SC</text>
<text x="54.8" y="1121.3" font-size="19.0" text-anchor="end">TH</text>
<text transform="translate(120.9 1318.7) rotate(-90)" font-size="19.0" text-anchor="end">TH</text>
<text x="54.8" y="1141.7" font-size="19.0" text-anchor="end">P</text>
<text transform="translate(141.4 1318.7) rotate(-90)" font-size="19.0" text-anchor="end">P</text>
<text x="54.8" y="1162.1" font-size="19.0" text-anchor="end">ENT</text>
<text transform="translate(161.8 1318.7) rotate(-90)" font-size="19.0" text-anchor="end">ENT</text>
<text x="54.8" y="1182.5" font-size="19.0" text-anchor="end">VISp</text>
<text transform="translate(182.3 1318.7) rotate(-90)" font-size="19.0" text-anchor="end">VISp</text>
<text x="54.8" y="1203" font-size="19.0" text-anchor="end">MOp</text>
<text transform="translate(202.7 1318.7) rotate(-90)" font-size="19.0" text-anchor="end">MOp</text>
<text x="54.8" y="1223.4" font-size="19.0" text-anchor="end">SSp</text>
<text transform="translate(223.2 1318.7) rotate(-90)" font-size="19.0" text-anchor="end">SSp</text>
<text x="54.8" y="1243.8" font-size="19.0" text-anchor="end">STR</text>
<text transform="translate(243.6 1318.7) rotate(-90)" font-size="19.0" text-anchor="end">STR</text>
<text x="54.8" y="1264.2" font-size="19.0" text-anchor="end">AUDp</text>
<text transform="translate(264.1 1318.7) rotate(-90)" font-size="19.0" text-anchor="end">AUDp</text>
<text x="54.8" y="1284.6" font-size="19.0" text-anchor="end">ACA</text>
<text transform="translate(284.5 1318.7) rotate(-90)" font-size="19.0" text-anchor="end">ACA</text>
<text x="54.8" y="1305" font-size="19.0" text-anchor="end">RSP</text>
<text transform="translate(305 1318.7) rotate(-90)" font-size="19.0" text-anchor="end">RSP</text>
<rect x="385.6" y="1065.2" width="245.4" height="245" fill="#440154"/>
<path d="M440.2 1092.5h27.6v27.5h-27.6zM412.9 1119.7h27.6v27.5h-27.6z" fill="#443983"/>
<path d="M440.2 1065.2h27.6v27.5h-27.6zM385.6 1119.7h27.6v27.5h-27.6z" fill="#3e4989"/>
<path d="M522 1174.1h27.6v27.5h-27.6zM494.7 1201.4h27.6v27.5h-27.6z" fill="#375a8c"/>
<path d="M522 1065.2h27.6v27.5h-27.6zM385.6 1201.4h27.6v27.5h-27.6zM603.8 1255.8h27.6v27.5h-27.6zM576.5 1283h27.6v27.5h-27.6z" fill="#31688e"/>
<path d="M494.7 1146.9h27.6v27.5h-27.6zM467.4 1174.1h27.6v27.5h-27.6zM576.5 1228.6h27.6v27.5h-27.6zM549.2 1255.8h27.6v27.5h-27.6z" fill="#2b758e"/>
<path d="M412.9 1065.2h27.6v27.5h-27.6zM385.6 1092.5h27.6v27.5h-27.6zM522 1119.7h27.6v27.5h-27.6zM522 1146.9h27.6v27.5h-27.6zM440.2 1201.4h27.6v27.5h-27.6zM467.4 1201.4h27.6v27.5h-27.6zM576.5 1201.4h27.6v27.5h-27.6zM522 1255.8h27.6v27.5h-27.6z" fill="#26828e"/>
<path d="M603.8 1146.9h27.6v27.5h-27.6zM576.5 1174.1h27.6v27.5h-27.6zM549.2 1201.4h27.6v27.5h-27.6zM522 1228.6h27.6v27.5h-27.6zM494.7 1255.8h27.6v27.5h-27.6zM467.4 1283h27.6v27.5h-27.6z" fill="#1f9e89"/>
<path d="M576.5 1146.9h27.6v27.5h-27.6zM603.8 1228.6h27.6v27.5h-27.6zM467.4 1255.8h27.6v27.5h-27.6zM549.2 1283h27.6v27.5h-27.6z" fill="#25ab82"/>
<path d="M494.7 1065.2h27.6v27.5h-27.6zM549.2 1065.2h27.6v27.5h-27.6zM385.6 1174.1h27.6v27.5h-27.6zM603.8 1201.4h27.6v27.5h-27.6zM385.6 1228.6h27.6v27.5h-27.6zM522 1283h27.6v27.5h-27.6z" fill="#35b779"/>
<path d="M522 1092.5h27.6v27.5h-27.6zM549.2 1119.7h27.6v27.5h-27.6zM603.8 1174.1h27.6v27.5h-27.6zM412.9 1201.4h27.6v27.5h-27.6zM440.2 1228.6h27.6v27.5h-27.6zM494.7 1283h27.6v27.5h-27.6z" fill="#4ec36b"/>
<path d="M576.5 1065.2h27.6v27.5h-27.6zM385.6 1255.8h27.6v27.5h-27.6z" fill="#6ece58"/>
<path d="M467.4 1065.2h27.6v27.5h-27.6zM494.7 1119.7h27.6v27.5h-27.6zM576.5 1119.7h27.6v27.5h-27.6zM385.6 1146.9h27.6v27.5h-27.6zM549.2 1146.9h27.6v27.5h-27.6zM440.2 1174.1h27.6v27.5h-27.6zM549.2 1174.1h27.6v27.5h-27.6zM467.4 1228.6h27.6v27.5h-27.6zM494.7 1228.6h27.6v27.5h-27.6zM440.2 1255.8h27.6v27.5h-27.6z" fill="#90d743"/>
<path d="M603.8 1065.2h27.6v27.5h-27.6zM549.2 1092.5h27.6v27.5h-27.6zM412.9 1228.6h27.6v27.5h-27.6zM385.6 1283h27.6v27.5h-27.6z" fill="#b5de2b"/>
<path d="M494.7 1092.5h27.6v27.5h-27.6zM467.4 1119.7h27.6v27.5h-27.6zM603.8 1119.7h27.6v27.5h-27.6zM440.2 1146.9h27.6v27.5h-27.6zM412.9 1174.1h27.6v27.5h-27.6zM440.2 1283h27.6v27.5h-27.6z" fill="#dae319"/>
<path d="M467.4 1092.5h27.6v27.5h-27.6zM576.5 1092.5h27.6v27.5h-27.6zM412.9 1146.9h27.6v27.5h-27.6zM412.9 1255.8h27.6v27.5h-27.6z" fill="#ece51b"/>
<path d="M603.8 1092.5h27.6v27.5h-27.6zM412.9 1283h27.6v27.5h-27.6z" fill="#fde725"/>
<rect x="385.6" y="1065.2" width="245.4" height="245" fill="none" stroke="#000" stroke-width="1.1"/>
<path d="M399.3 1310.2v4.8M385.6 1078.9h-4.8M426.5 1310.2v4.8M385.6 1106.1h-4.8M453.8 1310.2v4.8M385.6 1133.3h-4.8M481.1 1310.2v4.8M385.6 1160.5h-4.8M508.3 1310.2v4.8M385.6 1187.8h-4.8M535.6 1310.2v4.8M385.6 1215h-4.8M562.9 1310.2v4.8M385.6 1242.2h-4.8M590.1 1310.2v4.8M385.6 1269.4h-4.8M617.4 1310.2v4.8M385.6 1296.6h-4.8" stroke="#000" stroke-width="1.2" fill="none"/>
<text x="494.8" y="1057.3" font-size="23.3" text-anchor="start">VIS</text>
<text x="375.2" y="1083.9" font-size="19.0" text-anchor="end">AUDp</text>
<text transform="translate(403.9 1318.7) rotate(-90)" font-size="19.0" text-anchor="end">AUDp</text>
<text x="375.2" y="1111.1" font-size="19.0" text-anchor="end">RSP</text>
<text transform="translate(431.1 1318.7) rotate(-90)" font-size="19.0" text-anchor="end">RSP</text>
<text x="375.2" y="1138.3" font-size="19.0" text-anchor="end">PTLp</text>
<text transform="translate(458.4 1318.7) rotate(-90)" font-size="19.0" text-anchor="end">PTLp</text>
<text x="375.2" y="1165.5" font-size="19.0" text-anchor="end">SSp</text>
<text transform="translate(485.7 1318.7) rotate(-90)" font-size="19.0" text-anchor="end">SSp</text>
<text x="375.2" y="1192.8" font-size="19.0" text-anchor="end">ACA</text>
<text transform="translate(512.9 1318.7) rotate(-90)" font-size="19.0" text-anchor="end">ACA</text>
<text x="375.2" y="1220" font-size="19.0" text-anchor="end">STR</text>
<text transform="translate(540.2 1318.7) rotate(-90)" font-size="19.0" text-anchor="end">STR</text>
<text x="375.2" y="1247.2" font-size="19.0" text-anchor="end">SC</text>
<text transform="translate(567.5 1318.7) rotate(-90)" font-size="19.0" text-anchor="end">SC</text>
<text x="375.2" y="1274.4" font-size="19.0" text-anchor="end">TH</text>
<text transform="translate(594.7 1318.7) rotate(-90)" font-size="19.0" text-anchor="end">TH</text>
<text x="375.2" y="1301.6" font-size="19.0" text-anchor="end">P</text>
<text transform="translate(622 1318.7) rotate(-90)" font-size="19.0" text-anchor="end">P</text>
<rect x="706.1" y="1065.2" width="245.4" height="245" fill="#440154"/>
<path d="M828.8 1065.2h123v122.8h-123zM706.1 1187.8h123v122.8h-123z" fill="#dae319"/>
<rect x="706.1" y="1065.2" width="245.4" height="245" fill="none" stroke="#000" stroke-width="1.1"/>
<path d="M767.4 1310.2v4.8M706.1 1126.5h-4.8M890.1 1310.2v4.8M706.1 1249h-4.8" stroke="#000" stroke-width="1.2" fill="none"/>
<text x="812.4" y="1057.3" font-size="23.3" text-anchor="start">CAa</text>
<text x="698" y="1131.5" font-size="19.0" text-anchor="end">RSP</text>
<text transform="translate(772 1318.7) rotate(-90)" font-size="19.0" text-anchor="end">RSP</text>
<text x="698" y="1254" font-size="19.0" text-anchor="end">STR</text>
<text transform="translate(894.7 1318.7) rotate(-90)" font-size="19.0" text-anchor="end">STR</text>
<rect x="1026.5" y="1065.2" width="245.4" height="245" fill="#440154"/>
<path d="M1231 1228.6h41.2v41.1h-41.2zM1190.1 1269.4h41.2v41.1h-41.2z" fill="#3e4989"/>
<path d="M1190.1 1187.8h41.2v41.1h-41.2zM1231 1187.8h41.2v41.1h-41.2zM1149.2 1228.6h41.2v41.1h-41.2zM1149.2 1269.4h41.2v41.1h-41.2z" fill="#26828e"/>
<path d="M1149.2 1146.9h41.2v41.1h-41.2zM1190.1 1146.9h41.2v41.1h-41.2zM1108.3 1187.8h41.2v41.1h-41.2zM1108.3 1228.6h41.2v41.1h-41.2z" fill="#21918c"/>
<path d="M1231 1106.1h41.2v41.1h-41.2zM1067.4 1269.4h41.2v41.1h-41.2z" fill="#25ab82"/>
<path d="M1149.2 1106.1h41.2v41.1h-41.2zM1067.4 1187.8h41.2v41.1h-41.2z" fill="#6ece58"/>
<path d="M1108.3 1065.2h41.2v41.1h-41.2zM1190.1 1106.1h41.2v41.1h-41.2zM1026.5 1146.9h41.2v41.1h-41.2zM1231 1146.9h41.2v41.1h-41.2zM1067.4 1228.6h41.2v41.1h-41.2zM1108.3 1269.4h41.2v41.1h-41.2z" fill="#90d743"/>
<path d="M1108.3 1106.1h41.2v41.1h-41.2zM1067.4 1146.9h41.2v41.1h-41.2z" fill="#dae319"/>
<path d="M1067.4 1065.2h41.2v41.1h-41.2zM1149.2 1065.2h41.2v41.1h-41.2zM1190.1 1065.2h41.2v41.1h-41.2zM1231 1065.2h41.2v41.1h-41.2zM1026.5 1106.1h41.2v41.1h-41.2zM1026.5 1187.8h41.2v41.1h-41.2zM1026.5 1228.6h41.2v41.1h-41.2zM1026.5 1269.4h41.2v41.1h-41.2z" fill="#fde725"/>
<rect x="1026.5" y="1065.2" width="245.4" height="245" fill="none" stroke="#000" stroke-width="1.1"/>
<path d="M1046.9 1310.2v4.8M1026.5 1085.7h-4.8M1087.8 1310.2v4.8M1026.5 1126.5h-4.8M1128.7 1310.2v4.8M1026.5 1167.3h-4.8M1169.6 1310.2v4.8M1026.5 1208.2h-4.8M1210.5 1310.2v4.8M1026.5 1249h-4.8M1251.4 1310.2v4.8M1026.5 1289.8h-4.8" stroke="#000" stroke-width="1.2" fill="none"/>
<text x="1132.9" y="1057.3" font-size="23.3" text-anchor="start">CAp</text>
<text x="1018.4" y="1090.7" font-size="19.0" text-anchor="end">RSP</text>
<text transform="translate(1051.5 1318.7) rotate(-90)" font-size="19.0" text-anchor="end">RSP</text>
<text x="1018.4" y="1131.5" font-size="19.0" text-anchor="end">PIR</text>
<text transform="translate(1092.4 1318.7) rotate(-90)" font-size="19.0" text-anchor="end">PIR</text>
<text x="1018.4" y="1172.3" font-size="19.0" text-anchor="end">HY</text>
<text transform="translate(1133.3 1318.7) rotate(-90)" font-size="19.0" text-anchor="end">HY</text>
<text x="1018.4" y="1213.2" font-size="19.0" text-anchor="end">STR</text>
<text transform="translate(1174.2 1318.7) rotate(-90)" font-size="19.0" text-anchor="end">STR</text>
<text x="1018.4" y="1254" font-size="19.0" text-anchor="end">MOB</text>
<text transform="translate(1215.1 1318.7) rotate(-90)" font-size="19.0" text-anchor="end">MOB</text>
<text x="1018.4" y="1294.8" font-size="19.0" text-anchor="end">ENT</text>
<text transform="translate(1256 1318.7) rotate(-90)" font-size="19.0" text-anchor="end">ENT</text>
<rect x="1346.9" y="1065.2" width="245.4" height="245" fill="#440154"/>
<rect x="1346.9" y="1065.2" width="245.4" height="245" fill="none" stroke="#000" stroke-width="1.1"/>
<path d="M1408.3 1310.2v4.8M1346.9 1126.5h-4.8M1531 1310.2v4.8M1346.9 1249h-4.8" stroke="#000" stroke-width="1.2" fill="none"/>
<text x="1452.4" y="1057.3" font-size="23.3" text-anchor="start">DGa</text>
<text x="1338.8" y="1131.5" font-size="19.0" text-anchor="end">ENT</text>
<text transform="translate(1412.9 1318.7) rotate(-90)" font-size="19.0" text-anchor="end">ENT</text>
<text x="1338.8" y="1254" font-size="19.0" text-anchor="end">STR</text>
<text transform="translate(1535.6 1318.7) rotate(-90)" font-size="19.0" text-anchor="end">STR</text>
<rect x="1667.4" y="1065.2" width="245.4" height="245" fill="#440154"/>
<path d="M1831 1065.2h82.1v82h-82.1zM1667.4 1228.6h82.1v82h-82.1z" fill="#443983"/>
<path d="M1749.2 1065.2h82.1v82h-82.1zM1667.4 1146.9h82.1v82h-82.1z" fill="#3e4989"/>
<rect x="1667.4" y="1065.2" width="245.4" height="245" fill="none" stroke="#000" stroke-width="1.1"/>
<path d="M1708.3 1310.2v4.8M1667.4 1106.1h-4.8M1790.1 1310.2v4.8M1667.4 1187.8h-4.8M1871.9 1310.2v4.8M1667.4 1269.4h-4.8" stroke="#000" stroke-width="1.2" fill="none"/>
<text x="1772.8" y="1057.3" font-size="23.3" text-anchor="start">DGp</text>
<text x="1659.3" y="1111.1" font-size="19.0" text-anchor="end">MOB</text>
<text transform="translate(1712.9 1318.7) rotate(-90)" font-size="19.0" text-anchor="end">MOB</text>
<text x="1659.3" y="1192.8" font-size="19.0" text-anchor="end">PFC</text>
<text transform="translate(1794.7 1318.7) rotate(-90)" font-size="19.0" text-anchor="end">PFC</text>
<text x="1659.3" y="1274.4" font-size="19.0" text-anchor="end">STR</text>
<text transform="translate(1876.5 1318.7) rotate(-90)" font-size="19.0" text-anchor="end">STR</text>
<rect x="65.2" y="1411.2" width="245.4" height="245" fill="#440154"/>
<path d="M201.5 1520.1h27.6v27.5h-27.6zM174.3 1547.4h27.6v27.5h-27.6zM228.8 1547.4h27.6v27.5h-27.6zM201.5 1574.6h27.6v27.5h-27.6z" fill="#482878"/>
<path d="M92.5 1411.2h27.6v27.5h-27.6zM65.2 1438.5h27.6v27.5h-27.6z" fill="#443983"/>
<path d="M201.5 1492.9h27.6v27.5h-27.6zM147 1547.4h27.6v27.5h-27.6z" fill="#3e4989"/>
<path d="M228.8 1492.9h27.6v27.5h-27.6zM147 1574.6h27.6v27.5h-27.6z" fill="#375a8c"/>
<path d="M174.3 1465.7h27.6v27.5h-27.6zM119.7 1520.1h27.6v27.5h-27.6zM228.8 1520.1h27.6v27.5h-27.6zM174.3 1574.6h27.6v27.5h-27.6z" fill="#31688e"/>
<path d="M201.5 1465.7h27.6v27.5h-27.6zM119.7 1547.4h27.6v27.5h-27.6z" fill="#2b758e"/>
<path d="M228.8 1465.7h27.6v27.5h-27.6zM119.7 1574.6h27.6v27.5h-27.6z" fill="#26828e"/>
<path d="M174.3 1492.9h27.6v27.5h-27.6zM147 1520.1h27.6v27.5h-27.6zM283.3 1601.8h27.6v27.5h-27.6zM256.1 1629h27.6v27.5h-27.6z" fill="#21918c"/>
<path d="M147 1465.7h27.6v27.5h-27.6zM119.7 1492.9h27.6v27.5h-27.6zM283.3 1547.4h27.6v27.5h-27.6zM201.5 1629h27.6v27.5h-27.6z" fill="#1f9e89"/>
<path d="M256.1 1411.2h27.6v27.5h-27.6zM283.3 1574.6h27.6v27.5h-27.6zM65.2 1601.8h27.6v27.5h-27.6zM228.8 1629h27.6v27.5h-27.6z" fill="#35b779"/>
<path d="M256.1 1547.4h27.6v27.5h-27.6zM201.5 1601.8h27.6v27.5h-27.6z" fill="#4ec36b"/>
<path d="M201.5 1411.2h27.6v27.5h-27.6zM65.2 1547.4h27.6v27.5h-27.6zM256.1 1574.6h27.6v27.5h-27.6zM228.8 1601.8h27.6v27.5h-27.6z" fill="#6ece58"/>
<path d="M228.8 1411.2h27.6v27.5h-27.6zM256.1 1492.9h27.6v27.5h-27.6zM283.3 1492.9h27.6v27.5h-27.6zM65.2 1574.6h27.6v27.5h-27.6zM147 1601.8h27.6v27.5h-27.6zM147 1629h27.6v27.5h-27.6z" fill="#90d743"/>
<path d="M147 1411.2h27.6v27.5h-27.6zM174.3 1411.2h27.6v27.5h-27.6zM283.3 1411.2h27.6v27.5h-27.6zM201.5 1438.5h27.6v27.5h-27.6zM256.1 1465.7h27.6v27.5h-27.6zM283.3 1465.7h27.6v27.5h-27.6zM65.2 1492.9h27.6v27.5h-27.6zM65.2 1520.1h27.6v27.5h-27.6zM256.1 1520.1h27.6v27.5h-27.6zM283.3 1520.1h27.6v27.5h-27.6zM92.5 1547.4h27.6v27.5h-27.6zM119.7 1601.8h27.6v27.5h-27.6zM174.3 1601.8h27.6v27.5h-27.6zM65.2 1629h27.6v27.5h-27.6zM119.7 1629h27.6v27.5h-27.6zM174.3 1629h27.6v27.5h-27.6z" fill="#b5de2b"/>
<path d="M119.7 1411.2h27.6v27.5h-27.6zM228.8 1438.5h27.6v27.5h-27.6zM256.1 1438.5h27.6v27.5h-27.6zM283.3 1438.5h27.6v27.5h-27.6zM65.2 1465.7h27.6v27.5h-27.6zM92.5 1574.6h27.6v27.5h-27.6zM92.5 1601.8h27.6v27.5h-27.6zM92.5 1629h27.6v27.5h-27.6z" fill="#dae319"/>
<path d="M119.7 1438.5h27.6v27.5h-27.6zM147 1438.5h27.6v27.5h-27.6zM174.3 1438.5h27.6v27.5h-27.6zM92.5 1465.7h27.6v27.5h-27.6zM92.5 1492.9h27.6v27.5h-27.6zM92.5 1520.1h27.6v27.5h-27.6z" fill="#ece51b"/>
<rect x="65.2" y="1411.2" width="245.4" height="245" fill="none" stroke="#000" stroke-width="1.1"/>
<path d="M78.8 1656.2v4.8M65.2 1424.9h-4.8M106.1 1656.2v4.8M65.2 1452.1h-4.8M133.4 1656.2v4.8M65.2 1479.3h-4.8M160.6 1656.2v4.8M65.2 1506.5h-4.8M187.9 1656.2v4.8M65.2 1533.8h-4.8M215.2 1656.2v4.8M65.2 1561h-4.8M242.4 1656.2v4.8M65.2 1588.2h-4.8M269.7 1656.2v4.8M65.2 1615.4h-4.8M297 1656.2v4.8M65.2 1642.6h-4.8" stroke="#000" stroke-width="1.2" fill="none"/>
<text x="171.1" y="1403.3" font-size="23.3" text-anchor="start">ENT</text>
<text x="54.8" y="1429.9" font-size="19.0" text-anchor="end">RSP</text>
<text transform="translate(83.4 1664.7) rotate(-90)" font-size="19.0" text-anchor="end">RSP</text>
<text x="54.8" y="1457.1" font-size="19.0" text-anchor="end">PTLp</text>
<text transform="translate(110.7 1664.7) rotate(-90)" font-size="19.0" text-anchor="end">PTLp</text>
<text x="54.8" y="1484.3" font-size="19.0" text-anchor="end">PIR</text>
<text transform="translate(138 1664.7) rotate(-90)" font-size="19.0" text-anchor="end">PIR</text>
<text x="54.8" y="1511.5" font-size="19.0" text-anchor="end">ACA</text>
<text transform="translate(165.2 1664.7) rotate(-90)" font-size="19.0" text-anchor="end">ACA</text>
<text x="54.8" y="1538.8" font-size="19.0" text-anchor="end">PFC</text>
<text transform="translate(192.5 1664.7) rotate(-90)" font-size="19.0" text-anchor="end">PFC</text>
<text x="54.8" y="1566" font-size="19.0" text-anchor="end">MOp</text>
<text transform="translate(219.8 1664.7) rotate(-90)" font-size="19.0" text-anchor="end">MOp</text>
<text x="54.8" y="1593.2" font-size="19.0" text-anchor="end">STR</text>
<text transform="translate(247 1664.7) rotate(-90)" font-size="19.0" text-anchor="end">STR</text>
<text x="54.8" y="1620.4" font-size="19.0" text-anchor="end">HIP</text>
<text transform="translate(274.3 1664.7) rotate(-90)" font-size="19.0" text-anchor="end">HIP</text>
<text x="54.8" y="1647.6" font-size="19.0" text-anchor="end">TH</text>
<text transform="translate(301.6 1664.7) rotate(-90)" font-size="19.0" text-anchor="end">TH</text>
<rect x="385.6" y="1411.2" width="245.4" height="245" fill="#440154"/>
<path d="M569.7 1472.5h61.6v61.5h-61.6zM447 1595h61.6v61.5h-61.6z" fill="#35b779"/>
<path d="M569.7 1411.2h61.6v61.5h-61.6zM569.7 1533.8h61.6v61.5h-61.6zM385.6 1595h61.6v61.5h-61.6zM508.3 1595h61.6v61.5h-61.6z" fill="#6ece58"/>
<path d="M508.3 1472.5h61.6v61.5h-61.6zM447 1533.8h61.6v61.5h-61.6z" fill="#b5de2b"/>
<path d="M508.3 1411.2h61.6v61.5h-61.6zM385.6 1533.8h61.6v61.5h-61.6z" fill="#fde725"/>
<rect x="385.6" y="1411.2" width="245.4" height="245" fill="none" stroke="#000" stroke-width="1.1"/>
<path d="M416.3 1656.2v4.8M385.6 1441.9h-4.8M477.7 1656.2v4.8M385.6 1503.1h-4.8M539 1656.2v4.8M385.6 1564.4h-4.8M600.4 1656.2v4.8M385.6 1625.6h-4.8" stroke="#000" stroke-width="1.2" fill="none"/>
<text x="489.2" y="1403.3" font-size="23.3" text-anchor="start">MOB</text>
<text x="375.2" y="1446.9" font-size="19.0" text-anchor="end">AMY</text>
<text transform="translate(420.9 1664.7) rotate(-90)" font-size="19.0" text-anchor="end">AMY</text>
<text x="375.2" y="1508.1" font-size="19.0" text-anchor="end">HY</text>
<text transform="translate(482.3 1664.7) rotate(-90)" font-size="19.0" text-anchor="end">HY</text>
<text x="375.2" y="1569.4" font-size="19.0" text-anchor="end">ENT</text>
<text transform="translate(543.6 1664.7) rotate(-90)" font-size="19.0" text-anchor="end">ENT</text>
<text x="375.2" y="1630.6" font-size="19.0" text-anchor="end">PIR</text>
<text transform="translate(605 1664.7) rotate(-90)" font-size="19.0" text-anchor="end">PIR</text>
<rect x="706.1" y="1411.2" width="245.4" height="245" fill="#440154"/>
<path d="M890.1 1533.8h61.6v61.5h-61.6zM828.8 1595h61.6v61.5h-61.6z" fill="#3e4989"/>
<path d="M828.8 1472.5h61.6v61.5h-61.6zM767.4 1533.8h61.6v61.5h-61.6z" fill="#26828e"/>
<path d="M890.1 1472.5h61.6v61.5h-61.6zM767.4 1595h61.6v61.5h-61.6z" fill="#21918c"/>
<path d="M828.8 1411.2h61.6v61.5h-61.6zM706.1 1533.8h61.6v61.5h-61.6z" fill="#6ece58"/>
<path d="M767.4 1411.2h61.6v61.5h-61.6zM706.1 1472.5h61.6v61.5h-61.6z" fill="#b5de2b"/>
<path d="M890.1 1411.2h61.6v61.5h-61.6zM706.1 1595h61.6v61.5h-61.6z" fill="#dae319"/>
<rect x="706.1" y="1411.2" width="245.4" height="245" fill="none" stroke="#000" stroke-width="1.1"/>
<path d="M736.7 1656.2v4.8M706.1 1441.9h-4.8M798.1 1656.2v4.8M706.1 1503.1h-4.8M859.4 1656.2v4.8M706.1 1564.4h-4.8M920.8 1656.2v4.8M706.1 1625.6h-4.8" stroke="#000" stroke-width="1.2" fill="none"/>
<text x="810.6" y="1403.3" font-size="23.3" text-anchor="start">AON</text>
<text x="698" y="1446.9" font-size="19.0" text-anchor="end">HY</text>
<text transform="translate(741.3 1664.7) rotate(-90)" font-size="19.0" text-anchor="end">HY</text>
<text x="698" y="1508.1" font-size="19.0" text-anchor="end">PIR</text>
<text transform="translate(802.7 1664.7) rotate(-90)" font-size="19.0" text-anchor="end">PIR</text>
<text x="698" y="1569.4" font-size="19.0" text-anchor="end">PFC</text>
<text transform="translate(864 1664.7) rotate(-90)" font-size="19.0" text-anchor="end">PFC</text>
<text x="698" y="1630.6" font-size="19.0" text-anchor="end">ENT</text>
<text transform="translate(925.4 1664.7) rotate(-90)" font-size="19.0" text-anchor="end">ENT</text>
<rect x="1026.5" y="1411.2" width="245.4" height="245" fill="#440154"/>
<path d="M1236.8 1586.2h35.4v35.3h-35.4zM1201.8 1621.2h35.4v35.3h-35.4z" fill="#3e4989"/>
<path d="M1131.7 1481.2h35.4v35.3h-35.4zM1096.6 1516.2h35.4v35.3h-35.4z" fill="#31688e"/>
<path d="M1201.8 1551.2h35.4v35.3h-35.4zM1166.7 1586.2h35.4v35.3h-35.4z" fill="#2b758e"/>
<path d="M1201.8 1516.2h35.4v35.3h-35.4zM1131.7 1586.2h35.4v35.3h-35.4z" fill="#21918c"/>
<path d="M1201.8 1481.2h35.4v35.3h-35.4zM1096.6 1586.2h35.4v35.3h-35.4z" fill="#4ec36b"/>
<path d="M1166.7 1446.2h35.4v35.3h-35.4zM1061.5 1551.2h35.4v35.3h-35.4zM1236.8 1551.2h35.4v35.3h-35.4zM1166.7 1621.2h35.4v35.3h-35.4z" fill="#6ece58"/>
<path d="M1166.7 1411.2h35.4v35.3h-35.4zM1236.8 1411.2h35.4v35.3h-35.4zM1236.8 1481.2h35.4v35.3h-35.4zM1026.5 1551.2h35.4v35.3h-35.4zM1026.5 1621.2h35.4v35.3h-35.4zM1096.6 1621.2h35.4v35.3h-35.4z" fill="#90d743"/>
<path d="M1061.5 1411.2h35.4v35.3h-35.4zM1096.6 1411.2h35.4v35.3h-35.4zM1201.8 1411.2h35.4v35.3h-35.4zM1026.5 1446.2h35.4v35.3h-35.4zM1096.6 1446.2h35.4v35.3h-35.4zM1131.7 1446.2h35.4v35.3h-35.4zM1026.5 1481.2h35.4v35.3h-35.4zM1061.5 1481.2h35.4v35.3h-35.4zM1061.5 1516.2h35.4v35.3h-35.4zM1236.8 1516.2h35.4v35.3h-35.4zM1026.5 1586.2h35.4v35.3h-35.4zM1131.7 1621.2h35.4v35.3h-35.4z" fill="#b5de2b"/>
<path d="M1131.7 1411.2h35.4v35.3h-35.4zM1026.5 1516.2h35.4v35.3h-35.4z" fill="#dae319"/>
<path d="M1201.8 1446.2h35.4v35.3h-35.4zM1236.8 1446.2h35.4v35.3h-35.4zM1061.5 1586.2h35.4v35.3h-35.4zM1061.5 1621.2h35.4v35.3h-35.4z" fill="#ece51b"/>
<rect x="1026.5" y="1411.2" width="245.4" height="245" fill="none" stroke="#000" stroke-width="1.1"/>
<path d="M1044 1656.2v4.8M1026.5 1428.8h-4.8M1079.1 1656.2v4.8M1026.5 1463.8h-4.8M1114.1 1656.2v4.8M1026.5 1498.8h-4.8M1149.2 1656.2v4.8M1026.5 1533.8h-4.8M1184.2 1656.2v4.8M1026.5 1568.8h-4.8M1219.3 1656.2v4.8M1026.5 1603.8h-4.8M1254.4 1656.2v4.8M1026.5 1638.8h-4.8" stroke="#000" stroke-width="1.2" fill="none"/>
<text x="1130.5" y="1403.3" font-size="23.3" text-anchor="start">PIRa</text>
<text x="1018.4" y="1433.8" font-size="19.0" text-anchor="end">PTLp</text>
<text transform="translate(1048.6 1664.7) rotate(-90)" font-size="19.0" text-anchor="end">PTLp</text>
<text x="1018.4" y="1468.8" font-size="19.0" text-anchor="end">VTA</text>
<text transform="translate(1083.7 1664.7) rotate(-90)" font-size="19.0" text-anchor="end">VTA</text>
<text x="1018.4" y="1503.8" font-size="19.0" text-anchor="end">MOB</text>
<text transform="translate(1118.7 1664.7) rotate(-90)" font-size="19.0" text-anchor="end">MOB</text>
<text x="1018.4" y="1538.8" font-size="19.0" text-anchor="end">STR</text>
<text transform="translate(1153.8 1664.7) rotate(-90)" font-size="19.0" text-anchor="end">STR</text>
<text x="1018.4" y="1573.8" font-size="19.0" text-anchor="end">TH</text>
<text transform="translate(1188.8 1664.7) rotate(-90)" font-size="19.0" text-anchor="end">TH</text>
<text x="1018.4" y="1608.8" font-size="19.0" text-anchor="end">ACA</text>
<text transform="translate(1223.9 1664.7) rotate(-90)" font-size="19.0" text-anchor="end">ACA</text>
<text x="1018.4" y="1643.8" font-size="19.0" text-anchor="end">HIP</text>
<text transform="translate(1259 1664.7) rotate(-90)" font-size="19.0" text-anchor="end">HIP</text>
<rect x="1346.9" y="1411.2" width="245.4" height="245" fill="#440154"/>
<path d="M1551.4 1574.6h41.2v41.1h-41.2zM1510.5 1615.4h41.2v41.1h-41.2z" fill="#443983"/>
<path d="M1551.4 1492.9h41.2v41.1h-41.2zM1428.7 1615.4h41.2v41.1h-41.2z" fill="#2b758e"/>
<path d="M1469.6 1452.1h41.2v41.1h-41.2zM1510.5 1492.9h41.2v41.1h-41.2zM1387.8 1533.8h41.2v41.1h-41.2zM1428.7 1574.6h41.2v41.1h-41.2z" fill="#26828e"/>
<path d="M1428.7 1411.2h41.2v41.1h-41.2zM1428.7 1452.1h41.2v41.1h-41.2zM1346.9 1492.9h41.2v41.1h-41.2zM1387.8 1492.9h41.2v41.1h-41.2zM1510.5 1533.8h41.2v41.1h-41.2zM1551.4 1533.8h41.2v41.1h-41.2zM1469.6 1574.6h41.2v41.1h-41.2zM1469.6 1615.4h41.2v41.1h-41.2z" fill="#1f9e89"/>
<path d="M1510.5 1452.1h41.2v41.1h-41.2zM1387.8 1574.6h41.2v41.1h-41.2z" fill="#25ab82"/>
<path d="M1387.8 1411.2h41.2v41.1h-41.2zM1469.6 1411.2h41.2v41.1h-41.2zM1551.4 1411.2h41.2v41.1h-41.2zM1346.9 1452.1h41.2v41.1h-41.2zM1346.9 1533.8h41.2v41.1h-41.2zM1346.9 1615.4h41.2v41.1h-41.2z" fill="#35b779"/>
<path d="M1510.5 1411.2h41.2v41.1h-41.2zM1551.4 1452.1h41.2v41.1h-41.2zM1346.9 1574.6h41.2v41.1h-41.2zM1387.8 1615.4h41.2v41.1h-41.2z" fill="#6ece58"/>
<rect x="1346.9" y="1411.2" width="245.4" height="245" fill="none" stroke="#000" stroke-width="1.1"/>
<path d="M1367.4 1656.2v4.8M1346.9 1431.7h-4.8M1408.3 1656.2v4.8M1346.9 1472.5h-4.8M1449.2 1656.2v4.8M1346.9 1513.3h-4.8M1490.1 1656.2v4.8M1346.9 1554.2h-4.8M1531 1656.2v4.8M1346.9 1595h-4.8M1571.9 1656.2v4.8M1346.9 1635.8h-4.8" stroke="#000" stroke-width="1.2" fill="none"/>
<text x="1451" y="1403.3" font-size="23.3" text-anchor="start">PIRp</text>
<text x="1338.8" y="1436.7" font-size="19.0" text-anchor="end">ACA</text>
<text transform="translate(1372 1664.7) rotate(-90)" font-size="19.0" text-anchor="end">ACA</text>
<text x="1338.8" y="1477.5" font-size="19.0" text-anchor="end">PTLp</text>
<text transform="translate(1412.9 1664.7) rotate(-90)" font-size="19.0" text-anchor="end">PTLp</text>
<text x="1338.8" y="1518.3" font-size="19.0" text-anchor="end">STR</text>
<text transform="translate(1453.8 1664.7) rotate(-90)" font-size="19.0" text-anchor="end">STR</text>
<text x="1338.8" y="1559.2" font-size="19.0" text-anchor="end">TH</text>
<text transform="translate(1494.7 1664.7) rotate(-90)" font-size="19.0" text-anchor="end">TH</text>
<text x="1338.8" y="1600" font-size="19.0" text-anchor="end">PFC</text>
<text transform="translate(1535.6 1664.7) rotate(-90)" font-size="19.0" text-anchor="end">PFC</text>
<text x="1338.8" y="1640.8" font-size="19.0" text-anchor="end">MOB</text>
<text transform="translate(1576.5 1664.7) rotate(-90)" font-size="19.0" text-anchor="end">MOB</text>
<rect x="1667.4" y="1411.2" width="245.4" height="245" fill="#440154"/>
<path d="M1863.7 1558.2h49.4v49.3h-49.4zM1814.6 1607.2h49.4v49.3h-49.4z" fill="#482878"/>
<path d="M1863.7 1411.2h49.4v49.3h-49.4zM1863.7 1509.2h49.4v49.3h-49.4zM1667.4 1607.2h49.4v49.3h-49.4zM1765.5 1607.2h49.4v49.3h-49.4z" fill="#6ece58"/>
<path d="M1814.6 1411.2h49.4v49.3h-49.4zM1863.7 1460.2h49.4v49.3h-49.4zM1814.6 1509.2h49.4v49.3h-49.4zM1667.4 1558.2h49.4v49.3h-49.4zM1765.5 1558.2h49.4v49.3h-49.4zM1716.4 1607.2h49.4v49.3h-49.4z" fill="#b5de2b"/>
<path d="M1814.6 1460.2h49.4v49.3h-49.4zM1716.4 1558.2h49.4v49.3h-49.4z" fill="#ece51b"/>
<rect x="1667.4" y="1411.2" width="245.4" height="245" fill="none" stroke="#000" stroke-width="1.1"/>
<path d="M1691.9 1656.2v4.8M1667.4 1435.8h-4.8M1741 1656.2v4.8M1667.4 1484.8h-4.8M1790.1 1656.2v4.8M1667.4 1533.8h-4.8M1839.1 1656.2v4.8M1667.4 1582.8h-4.8M1888.2 1656.2v4.8M1667.4 1631.8h-4.8" stroke="#000" stroke-width="1.2" fill="none"/>
<text x="1774.8" y="1403.3" font-size="23.3" text-anchor="start">PAL</text>
<text x="1659.3" y="1440.8" font-size="19.0" text-anchor="end">P</text>
<text transform="translate(1696.5 1664.7) rotate(-90)" font-size="19.0" text-anchor="end">P</text>
<text x="1659.3" y="1489.8" font-size="19.0" text-anchor="end">STR</text>
<text transform="translate(1745.6 1664.7) rotate(-90)" font-size="19.0" text-anchor="end">STR</text>
<text x="1659.3" y="1538.8" font-size="19.0" text-anchor="end">TH</text>
<text transform="translate(1794.7 1664.7) rotate(-90)" font-size="19.0" text-anchor="end">TH</text>
<text x="1659.3" y="1587.8" font-size="19.0" text-anchor="end">SC</text>
<text transform="translate(1843.7 1664.7) rotate(-90)" font-size="19.0" text-anchor="end">SC</text>
<text x="1659.3" y="1636.8" font-size="19.0" text-anchor="end">VTA</text>
<text transform="translate(1892.8 1664.7) rotate(-90)" font-size="19.0" text-anchor="end">VTA</text>
<rect x="65.2" y="1757.2" width="245.4" height="245" fill="#440154"/>
<path d="M92.5 1757.2h27.6v27.5h-27.6zM65.2 1784.5h27.6v27.5h-27.6z" fill="#3e4989"/>
<path d="M119.7 1757.2h27.6v27.5h-27.6zM65.2 1811.7h27.6v27.5h-27.6z" fill="#375a8c"/>
<path d="M201.5 1784.5h27.6v27.5h-27.6zM174.3 1838.9h27.6v27.5h-27.6zM147 1866.1h27.6v27.5h-27.6zM201.5 1866.1h27.6v27.5h-27.6zM92.5 1893.4h27.6v27.5h-27.6zM174.3 1893.4h27.6v27.5h-27.6zM283.3 1893.4h27.6v27.5h-27.6zM201.5 1975h27.6v27.5h-27.6z" fill="#31688e"/>
<path d="M174.3 1757.2h27.6v27.5h-27.6zM65.2 1866.1h27.6v27.5h-27.6zM256.1 1920.6h27.6v27.5h-27.6zM228.8 1947.8h27.6v27.5h-27.6z" fill="#26828e"/>
<path d="M201.5 1811.7h27.6v27.5h-27.6zM119.7 1893.4h27.6v27.5h-27.6z" fill="#21918c"/>
<path d="M201.5 1757.2h27.6v27.5h-27.6zM174.3 1784.5h27.6v27.5h-27.6zM92.5 1866.1h27.6v27.5h-27.6zM65.2 1893.4h27.6v27.5h-27.6z" fill="#1f9e89"/>
<path d="M147 1757.2h27.6v27.5h-27.6zM147 1784.5h27.6v27.5h-27.6zM65.2 1838.9h27.6v27.5h-27.6zM92.5 1838.9h27.6v27.5h-27.6zM201.5 1838.9h27.6v27.5h-27.6zM147 1893.4h27.6v27.5h-27.6z" fill="#25ab82"/>
<path d="M147 1811.7h27.6v27.5h-27.6zM174.3 1811.7h27.6v27.5h-27.6zM119.7 1838.9h27.6v27.5h-27.6zM119.7 1866.1h27.6v27.5h-27.6zM283.3 1866.1h27.6v27.5h-27.6zM174.3 1975h27.6v27.5h-27.6z" fill="#35b779"/>
<path d="M283.3 1784.5h27.6v27.5h-27.6zM283.3 1920.6h27.6v27.5h-27.6zM92.5 1975h27.6v27.5h-27.6zM228.8 1975h27.6v27.5h-27.6z" fill="#4ec36b"/>
<path d="M256.1 1784.5h27.6v27.5h-27.6zM92.5 1947.8h27.6v27.5h-27.6z" fill="#6ece58"/>
<path d="M283.3 1757.2h27.6v27.5h-27.6zM283.3 1811.7h27.6v27.5h-27.6zM283.3 1838.9h27.6v27.5h-27.6zM256.1 1866.1h27.6v27.5h-27.6zM256.1 1893.4h27.6v27.5h-27.6zM174.3 1947.8h27.6v27.5h-27.6zM201.5 1947.8h27.6v27.5h-27.6zM65.2 1975h27.6v27.5h-27.6zM119.7 1975h27.6v27.5h-27.6zM147 1975h27.6v27.5h-27.6z" fill="#90d743"/>
<path d="M256.1 1811.7h27.6v27.5h-27.6zM256.1 1838.9h27.6v27.5h-27.6zM119.7 1947.8h27.6v27.5h-27.6zM147 1947.8h27.6v27.5h-27.6z" fill="#b5de2b"/>
<path d="M256.1 1757.2h27.6v27.5h-27.6zM228.8 1784.5h27.6v27.5h-27.6zM92.5 1920.6h27.6v27.5h-27.6zM65.2 1947.8h27.6v27.5h-27.6z" fill="#dae319"/>
<path d="M228.8 1757.2h27.6v27.5h-27.6zM228.8 1811.7h27.6v27.5h-27.6zM228.8 1838.9h27.6v27.5h-27.6zM228.8 1866.1h27.6v27.5h-27.6zM228.8 1893.4h27.6v27.5h-27.6zM65.2 1920.6h27.6v27.5h-27.6zM119.7 1920.6h27.6v27.5h-27.6zM147 1920.6h27.6v27.5h-27.6zM174.3 1920.6h27.6v27.5h-27.6zM201.5 1920.6h27.6v27.5h-27.6z" fill="#ece51b"/>
<rect x="65.2" y="1757.2" width="245.4" height="245" fill="none" stroke="#000" stroke-width="1.1"/>
<path d="M78.8 2002.2v4.8M65.2 1770.9h-4.8M106.1 2002.2v4.8M65.2 1798.1h-4.8M133.4 2002.2v4.8M65.2 1825.3h-4.8M160.6 2002.2v4.8M65.2 1852.5h-4.8M187.9 2002.2v4.8M65.2 1879.8h-4.8M215.2 2002.2v4.8M65.2 1907h-4.8M242.4 2002.2v4.8M65.2 1934.2h-4.8M269.7 2002.2v4.8M65.2 1961.4h-4.8M297 2002.2v4.8M65.2 1988.6h-4.8" stroke="#000" stroke-width="1.2" fill="none"/>
<text x="169.7" y="1749.3" font-size="23.3" text-anchor="start">AMY</text>
<text x="54.8" y="1775.9" font-size="19.0" text-anchor="end">MOB</text>
<text transform="translate(83.4 2010.7) rotate(-90)" font-size="19.0" text-anchor="end">MOB</text>
<text x="54.8" y="1803.1" font-size="19.0" text-anchor="end">PFC</text>
<text transform="translate(110.7 2010.7) rotate(-90)" font-size="19.0" text-anchor="end">PFC</text>
<text x="54.8" y="1830.3" font-size="19.0" text-anchor="end">HIP</text>
<text transform="translate(138 2010.7) rotate(-90)" font-size="19.0" text-anchor="end">HIP</text>
<text x="54.8" y="1857.5" font-size="19.0" text-anchor="end">ENT</text>
<text transform="translate(165.2 2010.7) rotate(-90)" font-size="19.0" text-anchor="end">ENT</text>
<text x="54.8" y="1884.8" font-size="19.0" text-anchor="end">STR</text>
<text transform="translate(192.5 2010.7) rotate(-90)" font-size="19.0" text-anchor="end">STR</text>
<text x="54.8" y="1912" font-size="19.0" text-anchor="end">TH</text>
<text transform="translate(219.8 2010.7) rotate(-90)" font-size="19.0" text-anchor="end">TH</text>
<text x="54.8" y="1939.2" font-size="19.0" text-anchor="end">MY</text>
<text transform="translate(247 2010.7) rotate(-90)" font-size="19.0" text-anchor="end">MY</text>
<text x="54.8" y="1966.4" font-size="19.0" text-anchor="end">VTA</text>
<text transform="translate(274.3 2010.7) rotate(-90)" font-size="19.0" text-anchor="end">VTA</text>
<text x="54.8" y="1993.6" font-size="19.0" text-anchor="end">P</text>
<text transform="translate(301.6 2010.7) rotate(-90)" font-size="19.0" text-anchor="end">P</text>
<rect x="385.6" y="1757.2" width="245.4" height="245" fill="#440154"/>
<path d="M490.8 1792.2h35.4v35.3h-35.4zM490.8 1827.2h35.4v35.3h-35.4zM420.7 1862.2h35.4v35.3h-35.4zM455.7 1862.2h35.4v35.3h-35.4z" fill="#31688e"/>
<path d="M420.7 1757.2h35.4v35.3h-35.4zM385.6 1792.2h35.4v35.3h-35.4zM525.9 1827.2h35.4v35.3h-35.4zM455.7 1897.2h35.4v35.3h-35.4z" fill="#26828e"/>
<path d="M525.9 1792.2h35.4v35.3h-35.4zM420.7 1897.2h35.4v35.3h-35.4z" fill="#21918c"/>
<path d="M560.9 1827.2h35.4v35.3h-35.4zM596 1827.2h35.4v35.3h-35.4zM455.7 1932.2h35.4v35.3h-35.4zM455.7 1967.2h35.4v35.3h-35.4z" fill="#1f9e89"/>
<path d="M455.7 1757.2h35.4v35.3h-35.4zM490.8 1757.2h35.4v35.3h-35.4zM385.6 1827.2h35.4v35.3h-35.4zM385.6 1862.2h35.4v35.3h-35.4z" fill="#35b779"/>
<path d="M525.9 1757.2h35.4v35.3h-35.4zM385.6 1897.2h35.4v35.3h-35.4z" fill="#4ec36b"/>
<path d="M455.7 1792.2h35.4v35.3h-35.4zM420.7 1827.2h35.4v35.3h-35.4zM596 1897.2h35.4v35.3h-35.4zM525.9 1967.2h35.4v35.3h-35.4z" fill="#6ece58"/>
<path d="M596 1757.2h35.4v35.3h-35.4zM385.6 1967.2h35.4v35.3h-35.4z" fill="#90d743"/>
<path d="M560.9 1757.2h35.4v35.3h-35.4zM596 1792.2h35.4v35.3h-35.4zM560.9 1862.2h35.4v35.3h-35.4zM596 1862.2h35.4v35.3h-35.4zM560.9 1897.2h35.4v35.3h-35.4zM385.6 1932.2h35.4v35.3h-35.4zM490.8 1932.2h35.4v35.3h-35.4zM525.9 1932.2h35.4v35.3h-35.4zM596 1932.2h35.4v35.3h-35.4zM420.7 1967.2h35.4v35.3h-35.4zM490.8 1967.2h35.4v35.3h-35.4zM560.9 1967.2h35.4v35.3h-35.4z" fill="#b5de2b"/>
<path d="M560.9 1792.2h35.4v35.3h-35.4zM420.7 1932.2h35.4v35.3h-35.4z" fill="#dae319"/>
<rect x="385.6" y="1757.2" width="245.4" height="245" fill="none" stroke="#000" stroke-width="1.1"/>
<path d="M403.2 2002.2v4.8M385.6 1774.8h-4.8M438.2 2002.2v4.8M385.6 1809.8h-4.8M473.3 2002.2v4.8M385.6 1844.8h-4.8M508.3 2002.2v4.8M385.6 1879.8h-4.8M543.4 2002.2v4.8M385.6 1914.8h-4.8M578.4 2002.2v4.8M385.6 1949.8h-4.8M613.5 2002.2v4.8M385.6 1984.8h-4.8" stroke="#000" stroke-width="1.2" fill="none"/>
<text x="490.2" y="1749.3" font-size="23.3" text-anchor="start">THm</text>
<text x="375.2" y="1779.8" font-size="19.0" text-anchor="end">MOp</text>
<text transform="translate(407.8 2010.7) rotate(-90)" font-size="19.0" text-anchor="end">MOp</text>
<text x="375.2" y="1814.8" font-size="19.0" text-anchor="end">SSp</text>
<text transform="translate(442.8 2010.7) rotate(-90)" font-size="19.0" text-anchor="end">SSp</text>
<text x="375.2" y="1849.8" font-size="19.0" text-anchor="end">AUDp</text>
<text transform="translate(477.9 2010.7) rotate(-90)" font-size="19.0" text-anchor="end">AUDp</text>
<text x="375.2" y="1884.8" font-size="19.0" text-anchor="end">ACA</text>
<text transform="translate(512.9 2010.7) rotate(-90)" font-size="19.0" text-anchor="end">ACA</text>
<text x="375.2" y="1919.8" font-size="19.0" text-anchor="end">VISp</text>
<text transform="translate(548 2010.7) rotate(-90)" font-size="19.0" text-anchor="end">VISp</text>
<text x="375.2" y="1954.8" font-size="19.0" text-anchor="end">PFC</text>
<text transform="translate(583 2010.7) rotate(-90)" font-size="19.0" text-anchor="end">PFC</text>
<text x="375.2" y="1989.8" font-size="19.0" text-anchor="end">RSP</text>
<text transform="translate(618.1 2010.7) rotate(-90)" font-size="19.0" text-anchor="end">RSP</text>
<rect x="706.1" y="1757.2" width="245.4" height="245" fill="#440154"/>
<path d="M924.2 1947.8h27.6v27.5h-27.6zM896.9 1975h27.6v27.5h-27.6z" fill="#3e4989"/>
<path d="M815.1 1838.9h27.6v27.5h-27.6zM787.9 1866.1h27.6v27.5h-27.6z" fill="#2b758e"/>
<path d="M896.9 1920.6h27.6v27.5h-27.6zM869.7 1947.8h27.6v27.5h-27.6z" fill="#26828e"/>
<path d="M760.6 1784.5h27.6v27.5h-27.6zM733.3 1811.7h27.6v27.5h-27.6zM787.9 1811.7h27.6v27.5h-27.6zM760.6 1838.9h27.6v27.5h-27.6zM896.9 1838.9h27.6v27.5h-27.6zM924.2 1893.4h27.6v27.5h-27.6zM924.2 1920.6h27.6v27.5h-27.6zM787.9 1947.8h27.6v27.5h-27.6zM842.4 1975h27.6v27.5h-27.6zM869.7 1975h27.6v27.5h-27.6z" fill="#1f9e89"/>
<path d="M924.2 1838.9h27.6v27.5h-27.6zM787.9 1975h27.6v27.5h-27.6z" fill="#25ab82"/>
<path d="M787.9 1784.5h27.6v27.5h-27.6zM733.3 1838.9h27.6v27.5h-27.6zM842.4 1838.9h27.6v27.5h-27.6zM787.9 1893.4h27.6v27.5h-27.6zM896.9 1893.4h27.6v27.5h-27.6zM842.4 1947.8h27.6v27.5h-27.6z" fill="#4ec36b"/>
<path d="M842.4 1811.7h27.6v27.5h-27.6zM869.7 1838.9h27.6v27.5h-27.6zM896.9 1866.1h27.6v27.5h-27.6zM924.2 1866.1h27.6v27.5h-27.6zM760.6 1893.4h27.6v27.5h-27.6zM787.9 1920.6h27.6v27.5h-27.6zM815.1 1947.8h27.6v27.5h-27.6zM815.1 1975h27.6v27.5h-27.6z" fill="#6ece58"/>
<path d="M842.4 1784.5h27.6v27.5h-27.6zM842.4 1866.1h27.6v27.5h-27.6zM869.7 1866.1h27.6v27.5h-27.6zM733.3 1893.4h27.6v27.5h-27.6zM815.1 1893.4h27.6v27.5h-27.6zM869.7 1893.4h27.6v27.5h-27.6zM815.1 1920.6h27.6v27.5h-27.6zM842.4 1920.6h27.6v27.5h-27.6z" fill="#90d743"/>
<path d="M787.9 1757.2h27.6v27.5h-27.6zM815.1 1784.5h27.6v27.5h-27.6zM815.1 1811.7h27.6v27.5h-27.6zM896.9 1811.7h27.6v27.5h-27.6zM706.1 1838.9h27.6v27.5h-27.6zM733.3 1866.1h27.6v27.5h-27.6zM760.6 1866.1h27.6v27.5h-27.6zM760.6 1947.8h27.6v27.5h-27.6z" fill="#b5de2b"/>
<path d="M924.2 1784.5h27.6v27.5h-27.6zM924.2 1811.7h27.6v27.5h-27.6zM733.3 1975h27.6v27.5h-27.6zM760.6 1975h27.6v27.5h-27.6z" fill="#dae319"/>
<path d="M869.7 1784.5h27.6v27.5h-27.6zM896.9 1784.5h27.6v27.5h-27.6zM869.7 1811.7h27.6v27.5h-27.6zM733.3 1920.6h27.6v27.5h-27.6zM760.6 1920.6h27.6v27.5h-27.6zM733.3 1947.8h27.6v27.5h-27.6z" fill="#ece51b"/>
<path d="M733.3 1757.2h27.6v27.5h-27.6zM760.6 1757.2h27.6v27.5h-27.6zM815.1 1757.2h27.6v27.5h-27.6zM842.4 1757.2h27.6v27.5h-27.6zM869.7 1757.2h27.6v27.5h-27.6zM896.9 1757.2h27.6v27.5h-27.6zM924.2 1757.2h27.6v27.5h-27.6zM706.1 1784.5h27.6v27.5h-27.6zM706.1 1811.7h27.6v27.5h-27.6zM706.1 1866.1h27.6v27.5h-27.6zM706.1 1893.4h27.6v27.5h-27.6zM706.1 1920.6h27.6v27.5h-27.6zM706.1 1947.8h27.6v27.5h-27.6zM706.1 1975h27.6v27.5h-27.6z" fill="#fde725"/>
<rect x="706.1" y="1757.2" width="245.4" height="245" fill="none" stroke="#000" stroke-width="1.1"/>
<path d="M719.7 2002.2v4.8M706.1 1770.9h-4.8M747 2002.2v4.8M706.1 1798.1h-4.8M774.2 2002.2v4.8M706.1 1825.3h-4.8M801.5 2002.2v4.8M706.1 1852.5h-4.8M828.8 2002.2v4.8M706.1 1879.8h-4.8M856 2002.2v4.8M706.1 1907h-4.8M883.3 2002.2v4.8M706.1 1934.2h-4.8M910.6 2002.2v4.8M706.1 1961.4h-4.8M937.8 2002.2v4.8M706.1 1988.6h-4.8" stroke="#000" stroke-width="1.2" fill="none"/>
<text x="815.7" y="1749.3" font-size="23.3" text-anchor="start">THl</text>
<text x="698" y="1775.9" font-size="19.0" text-anchor="end">SC</text>
<text transform="translate(724.3 2010.7) rotate(-90)" font-size="19.0" text-anchor="end">SC</text>
<text x="698" y="1803.1" font-size="19.0" text-anchor="end">SSp</text>
<text transform="translate(751.6 2010.7) rotate(-90)" font-size="19.0" text-anchor="end">SSp</text>
<text x="698" y="1830.3" font-size="19.0" text-anchor="end">P</text>
<text transform="translate(778.8 2010.7) rotate(-90)" font-size="19.0" text-anchor="end">P</text>
<text x="698" y="1857.5" font-size="19.0" text-anchor="end">PFC</text>
<text transform="translate(806.1 2010.7) rotate(-90)" font-size="19.0" text-anchor="end">PFC</text>
<text x="698" y="1884.8" font-size="19.0" text-anchor="end">MOp</text>
<text transform="translate(833.4 2010.7) rotate(-90)" font-size="19.0" text-anchor="end">MOp</text>
<text x="698" y="1912" font-size="19.0" text-anchor="end">ACA</text>
<text transform="translate(860.6 2010.7) rotate(-90)" font-size="19.0" text-anchor="end">ACA</text>
<text x="698" y="1939.2" font-size="19.0" text-anchor="end">RSP</text>
<text transform="translate(887.9 2010.7) rotate(-90)" font-size="19.0" text-anchor="end">RSP</text>
<text x="698" y="1966.4" font-size="19.0" text-anchor="end">AUDp</text>
<text transform="translate(915.2 2010.7) rotate(-90)" font-size="19.0" text-anchor="end">AUDp</text>
<text x="698" y="1993.6" font-size="19.0" text-anchor="end">PTLp</text>
<text transform="translate(942.4 2010.7) rotate(-90)" font-size="19.0" text-anchor="end">PTLp</text>
<rect x="1026.5" y="1757.2" width="245.4" height="245" fill="#440154"/>
<path d="M1190.1 1893.4h27.6v27.5h-27.6zM1162.8 1920.6h27.6v27.5h-27.6z" fill="#31688e"/>
<path d="M1162.8 1866.1h27.6v27.5h-27.6zM1135.6 1893.4h27.6v27.5h-27.6z" fill="#2b758e"/>
<path d="M1162.8 1811.7h27.6v27.5h-27.6zM1081 1893.4h27.6v27.5h-27.6z" fill="#21918c"/>
<path d="M1108.3 1811.7h27.6v27.5h-27.6zM1081 1838.9h27.6v27.5h-27.6zM1244.6 1893.4h27.6v27.5h-27.6zM1162.8 1975h27.6v27.5h-27.6z" fill="#1f9e89"/>
<path d="M1108.3 1784.5h27.6v27.5h-27.6zM1162.8 1784.5h27.6v27.5h-27.6zM1053.8 1838.9h27.6v27.5h-27.6zM1162.8 1838.9h27.6v27.5h-27.6zM1244.6 1866.1h27.6v27.5h-27.6zM1053.8 1893.4h27.6v27.5h-27.6zM1108.3 1893.4h27.6v27.5h-27.6zM1217.4 1893.4h27.6v27.5h-27.6zM1162.8 1947.8h27.6v27.5h-27.6zM1244.6 1947.8h27.6v27.5h-27.6zM1135.6 1975h27.6v27.5h-27.6zM1217.4 1975h27.6v27.5h-27.6z" fill="#35b779"/>
<path d="M1081 1757.2h27.6v27.5h-27.6zM1162.8 1757.2h27.6v27.5h-27.6zM1026.5 1811.7h27.6v27.5h-27.6zM1190.1 1811.7h27.6v27.5h-27.6zM1190.1 1838.9h27.6v27.5h-27.6zM1190.1 1866.1h27.6v27.5h-27.6zM1026.5 1893.4h27.6v27.5h-27.6zM1081 1920.6h27.6v27.5h-27.6zM1108.3 1920.6h27.6v27.5h-27.6zM1135.6 1920.6h27.6v27.5h-27.6z" fill="#6ece58"/>
<path d="M1190.1 1784.5h27.6v27.5h-27.6zM1217.4 1838.9h27.6v27.5h-27.6zM1053.8 1920.6h27.6v27.5h-27.6zM1108.3 1947.8h27.6v27.5h-27.6z" fill="#90d743"/>
<path d="M1053.8 1757.2h27.6v27.5h-27.6zM1190.1 1757.2h27.6v27.5h-27.6zM1026.5 1784.5h27.6v27.5h-27.6zM1081 1784.5h27.6v27.5h-27.6zM1244.6 1784.5h27.6v27.5h-27.6zM1053.8 1811.7h27.6v27.5h-27.6zM1135.6 1811.7h27.6v27.5h-27.6zM1217.4 1811.7h27.6v27.5h-27.6zM1244.6 1838.9h27.6v27.5h-27.6zM1081 1866.1h27.6v27.5h-27.6zM1026.5 1920.6h27.6v27.5h-27.6zM1244.6 1920.6h27.6v27.5h-27.6zM1081 1947.8h27.6v27.5h-27.6zM1053.8 1975h27.6v27.5h-27.6zM1108.3 1975h27.6v27.5h-27.6zM1190.1 1975h27.6v27.5h-27.6z" fill="#b5de2b"/>
<path d="M1244.6 1811.7h27.6v27.5h-27.6zM1135.6 1838.9h27.6v27.5h-27.6zM1108.3 1866.1h27.6v27.5h-27.6zM1217.4 1866.1h27.6v27.5h-27.6zM1217.4 1920.6h27.6v27.5h-27.6zM1135.6 1947.8h27.6v27.5h-27.6zM1190.1 1947.8h27.6v27.5h-27.6zM1081 1975h27.6v27.5h-27.6z" fill="#dae319"/>
<path d="M1108.3 1757.2h27.6v27.5h-27.6zM1135.6 1757.2h27.6v27.5h-27.6zM1244.6 1757.2h27.6v27.5h-27.6zM1135.6 1784.5h27.6v27.5h-27.6zM1026.5 1838.9h27.6v27.5h-27.6zM1026.5 1866.1h27.6v27.5h-27.6zM1053.8 1866.1h27.6v27.5h-27.6zM1026.5 1975h27.6v27.5h-27.6z" fill="#ece51b"/>
<path d="M1217.4 1757.2h27.6v27.5h-27.6zM1217.4 1784.5h27.6v27.5h-27.6zM1026.5 1947.8h27.6v27.5h-27.6zM1053.8 1947.8h27.6v27.5h-27.6z" fill="#fde725"/>
<rect x="1026.5" y="1757.2" width="245.4" height="245" fill="none" stroke="#000" stroke-width="1.1"/>
<path d="M1040.1 2002.2v4.8M1026.5 1770.9h-4.8M1067.4 2002.2v4.8M1026.5 1798.1h-4.8M1094.7 2002.2v4.8M1026.5 1825.3h-4.8M1121.9 2002.2v4.8M1026.5 1852.5h-4.8M1149.2 2002.2v4.8M1026.5 1879.8h-4.8M1176.5 2002.2v4.8M1026.5 1907h-4.8M1203.7 2002.2v4.8M1026.5 1934.2h-4.8M1231 2002.2v4.8M1026.5 1961.4h-4.8M1258.3 2002.2v4.8M1026.5 1988.6h-4.8" stroke="#000" stroke-width="1.2" fill="none"/>
<text x="1133.3" y="1749.3" font-size="23.3" text-anchor="start">THp</text>
<text x="1018.4" y="1775.9" font-size="19.0" text-anchor="end">P</text>
<text transform="translate(1044.7 2010.7) rotate(-90)" font-size="19.0" text-anchor="end">P</text>
<text x="1018.4" y="1803.1" font-size="19.0" text-anchor="end">VISp</text>
<text transform="translate(1072 2010.7) rotate(-90)" font-size="19.0" text-anchor="end">VISp</text>
<text x="1018.4" y="1830.3" font-size="19.0" text-anchor="end">SSp</text>
<text transform="translate(1099.3 2010.7) rotate(-90)" font-size="19.0" text-anchor="end">SSp</text>
<text x="1018.4" y="1857.5" font-size="19.0" text-anchor="end">ACA</text>
<text transform="translate(1126.5 2010.7) rotate(-90)" font-size="19.0" text-anchor="end">ACA</text>
<text x="1018.4" y="1884.8" font-size="19.0" text-anchor="end">VTA</text>
<text transform="translate(1153.8 2010.7) rotate(-90)" font-size="19.0" text-anchor="end">VTA</text>
<text x="1018.4" y="1912" font-size="19.0" text-anchor="end">AI</text>
<text transform="translate(1181.1 2010.7) rotate(-90)" font-size="19.0" text-anchor="end">AI</text>
<text x="1018.4" y="1939.2" font-size="19.0" text-anchor="end">AUDp</text>
<text transform="translate(1208.3 2010.7) rotate(-90)" font-size="19.0" text-anchor="end">AUDp</text>
<text x="1018.4" y="1966.4" font-size="19.0" text-anchor="end">MOp</text>
<text transform="translate(1235.6 2010.7) rotate(-90)" font-size="19.0" text-anchor="end">MOp</text>
<text x="1018.4" y="1993.6" font-size="19.0" text-anchor="end">PTLp</text>
<text transform="translate(1262.9 2010.7) rotate(-90)" font-size="19.0" text-anchor="end">PTLp</text>
<rect x="1346.9" y="1757.2" width="245.4" height="245" fill="#440154"/>
<path d="M1445.1 1806.2h24.8v24.8h-24.8zM1445.1 1830.8h24.8v24.8h-24.8zM1396 1855.2h24.8v24.8h-24.8zM1420.5 1855.2h24.8v24.8h-24.8zM1567.8 1904.2h24.8v24.8h-24.8zM1567.8 1928.8h24.8v24.8h-24.8zM1494.2 1977.8h24.8v24.8h-24.8zM1518.7 1977.8h24.8v24.8h-24.8z" fill="#443983"/>
<path d="M1543.2 1806.2h24.8v24.8h-24.8zM1567.8 1879.8h24.8v24.8h-24.8zM1396 1953.2h24.8v24.8h-24.8zM1469.6 1977.8h24.8v24.8h-24.8z" fill="#3e4989"/>
<path d="M1543.2 1928.8h24.8v24.8h-24.8zM1518.7 1953.2h24.8v24.8h-24.8z" fill="#375a8c"/>
<path d="M1420.5 1781.8h24.8v24.8h-24.8zM1567.8 1781.8h24.8v24.8h-24.8zM1371.5 1830.8h24.8v24.8h-24.8zM1469.6 1830.8h24.8v24.8h-24.8zM1567.8 1855.2h24.8v24.8h-24.8zM1420.5 1879.8h24.8v24.8h-24.8zM1371.5 1977.8h24.8v24.8h-24.8zM1445.1 1977.8h24.8v24.8h-24.8z" fill="#31688e"/>
<path d="M1445.1 1781.8h24.8v24.8h-24.8zM1469.6 1781.8h24.8v24.8h-24.8zM1371.5 1855.2h24.8v24.8h-24.8zM1371.5 1879.8h24.8v24.8h-24.8z" fill="#2b758e"/>
<path d="M1371.5 1757.2h24.8v24.8h-24.8zM1543.2 1757.2h24.8v24.8h-24.8zM1346.9 1781.8h24.8v24.8h-24.8zM1420.5 1806.2h24.8v24.8h-24.8zM1469.6 1806.2h24.8v24.8h-24.8zM1567.8 1806.2h24.8v24.8h-24.8zM1396 1830.8h24.8v24.8h-24.8zM1567.8 1830.8h24.8v24.8h-24.8zM1543.2 1855.2h24.8v24.8h-24.8zM1396 1879.8h24.8v24.8h-24.8zM1346.9 1953.2h24.8v24.8h-24.8zM1445.1 1953.2h24.8v24.8h-24.8zM1396 1977.8h24.8v24.8h-24.8zM1420.5 1977.8h24.8v24.8h-24.8z" fill="#26828e"/>
<path d="M1396 1757.2h24.8v24.8h-24.8zM1396 1781.8h24.8v24.8h-24.8zM1543.2 1781.8h24.8v24.8h-24.8zM1346.9 1806.2h24.8v24.8h-24.8zM1371.5 1806.2h24.8v24.8h-24.8zM1543.2 1879.8h24.8v24.8h-24.8zM1518.7 1904.2h24.8v24.8h-24.8zM1494.2 1928.8h24.8v24.8h-24.8zM1371.5 1953.2h24.8v24.8h-24.8zM1469.6 1953.2h24.8v24.8h-24.8z" fill="#21918c"/>
<path d="M1445.1 1757.2h24.8v24.8h-24.8zM1518.7 1806.2h24.8v24.8h-24.8zM1543.2 1830.8h24.8v24.8h-24.8zM1346.9 1855.2h24.8v24.8h-24.8zM1396 1928.8h24.8v24.8h-24.8zM1420.5 1953.2h24.8v24.8h-24.8z" fill="#1f9e89"/>
<path d="M1494.2 1757.2h24.8v24.8h-24.8zM1494.2 1781.8h24.8v24.8h-24.8zM1346.9 1904.2h24.8v24.8h-24.8zM1371.5 1904.2h24.8v24.8h-24.8zM1543.2 1904.2h24.8v24.8h-24.8zM1494.2 1953.2h24.8v24.8h-24.8z" fill="#25ab82"/>
<path d="M1567.8 1757.2h24.8v24.8h-24.8zM1518.7 1781.8h24.8v24.8h-24.8zM1494.2 1830.8h24.8v24.8h-24.8zM1518.7 1830.8h24.8v24.8h-24.8zM1518.7 1855.2h24.8v24.8h-24.8zM1420.5 1904.2h24.8v24.8h-24.8zM1371.5 1928.8h24.8v24.8h-24.8zM1420.5 1928.8h24.8v24.8h-24.8zM1445.1 1928.8h24.8v24.8h-24.8zM1346.9 1977.8h24.8v24.8h-24.8z" fill="#35b779"/>
<path d="M1420.5 1757.2h24.8v24.8h-24.8zM1518.7 1757.2h24.8v24.8h-24.8zM1494.2 1806.2h24.8v24.8h-24.8zM1346.9 1830.8h24.8v24.8h-24.8zM1396 1904.2h24.8v24.8h-24.8zM1346.9 1928.8h24.8v24.8h-24.8z" fill="#4ec36b"/>
<path d="M1469.6 1757.2h24.8v24.8h-24.8zM1494.2 1855.2h24.8v24.8h-24.8zM1346.9 1879.8h24.8v24.8h-24.8zM1445.1 1904.2h24.8v24.8h-24.8z" fill="#6ece58"/>
<path d="M1518.7 1879.8h24.8v24.8h-24.8zM1469.6 1928.8h24.8v24.8h-24.8z" fill="#90d743"/>
<path d="M1494.2 1879.8h24.8v24.8h-24.8zM1469.6 1904.2h24.8v24.8h-24.8z" fill="#b5de2b"/>
<rect x="1346.9" y="1757.2" width="245.4" height="245" fill="none" stroke="#000" stroke-width="1.1"/>
<path d="M1359.2 2002.2v4.8M1346.9 1769.5h-4.8M1383.7 2002.2v4.8M1346.9 1794h-4.8M1408.3 2002.2v4.8M1346.9 1818.5h-4.8M1432.8 2002.2v4.8M1346.9 1843h-4.8M1457.4 2002.2v4.8M1346.9 1867.5h-4.8M1481.9 2002.2v4.8M1346.9 1892h-4.8M1506.4 2002.2v4.8M1346.9 1916.5h-4.8M1531 2002.2v4.8M1346.9 1941h-4.8M1555.5 2002.2v4.8M1346.9 1965.5h-4.8M1580.1 2002.2v4.8M1346.9 1990h-4.8" stroke="#000" stroke-width="1.2" fill="none"/>
<text x="1458" y="1749.3" font-size="23.3" text-anchor="start">HY</text>
<text x="1338.8" y="1774.5" font-size="19.0" text-anchor="end">MY</text>
<text transform="translate(1363.8 2010.7) rotate(-90)" font-size="19.0" text-anchor="end">MY</text>
<text x="1338.8" y="1799" font-size="19.0" text-anchor="end">P</text>
<text transform="translate(1388.3 2010.7) rotate(-90)" font-size="19.0" text-anchor="end">P</text>
<text x="1338.8" y="1823.5" font-size="19.0" text-anchor="end">MOB</text>
<text transform="translate(1412.9 2010.7) rotate(-90)" font-size="19.0" text-anchor="end">MOB</text>
<text x="1338.8" y="1848" font-size="19.0" text-anchor="end">VTA</text>
<text transform="translate(1437.4 2010.7) rotate(-90)" font-size="19.0" text-anchor="end">VTA</text>
<text x="1338.8" y="1872.5" font-size="19.0" text-anchor="end">PFC</text>
<text transform="translate(1462 2010.7) rotate(-90)" font-size="19.0" text-anchor="end">PFC</text>
<text x="1338.8" y="1897" font-size="19.0" text-anchor="end">AMY</text>
<text transform="translate(1486.5 2010.7) rotate(-90)" font-size="19.0" text-anchor="end">AMY</text>
<text x="1338.8" y="1921.5" font-size="19.0" text-anchor="end">SC</text>
<text transform="translate(1511 2010.7) rotate(-90)" font-size="19.0" text-anchor="end">SC</text>
<text x="1338.8" y="1946" font-size="19.0" text-anchor="end">TH</text>
<text transform="translate(1535.6 2010.7) rotate(-90)" font-size="19.0" text-anchor="end">TH</text>
<text x="1338.8" y="1970.5" font-size="19.0" text-anchor="end">STR</text>
<text transform="translate(1560.1 2010.7) rotate(-90)" font-size="19.0" text-anchor="end">STR</text>
<text x="1338.8" y="1995" font-size="19.0" text-anchor="end">PAL</text>
<text transform="translate(1584.7 2010.7) rotate(-90)" font-size="19.0" text-anchor="end">PAL</text>
<rect x="1667.4" y="1757.2" width="245.4" height="245" fill="#440154"/>
<path d="M1851.4 1879.8h61.6v61.5h-61.6zM1790.1 1941h61.6v61.5h-61.6z" fill="#31688e"/>
<path d="M1790.1 1818.5h61.6v61.5h-61.6zM1728.7 1879.8h61.6v61.5h-61.6z" fill="#ece51b"/>
<path d="M1790.1 1757.2h61.6v61.5h-61.6zM1851.4 1757.2h61.6v61.5h-61.6zM1851.4 1818.5h61.6v61.5h-61.6zM1667.4 1879.8h61.6v61.5h-61.6zM1667.4 1941h61.6v61.5h-61.6zM1728.7 1941h61.6v61.5h-61.6z" fill="#fde725"/>
<rect x="1667.4" y="1757.2" width="245.4" height="245" fill="none" stroke="#000" stroke-width="1.1"/>
<path d="M1698 2002.2v4.8M1667.4 1787.9h-4.8M1759.4 2002.2v4.8M1667.4 1849.1h-4.8M1820.7 2002.2v4.8M1667.4 1910.4h-4.8M1882.1 2002.2v4.8M1667.4 1971.6h-4.8" stroke="#000" stroke-width="1.2" fill="none"/>
<text x="1778.4" y="1749.3" font-size="23.3" text-anchor="start">SC</text>
<text x="1659.3" y="1792.9" font-size="19.0" text-anchor="end">TH</text>
<text transform="translate(1702.6 2010.7) rotate(-90)" font-size="19.0" text-anchor="end">TH</text>
<text x="1659.3" y="1854.1" font-size="19.0" text-anchor="end">P</text>
<text transform="translate(1764 2010.7) rotate(-90)" font-size="19.0" text-anchor="end">P</text>
<text x="1659.3" y="1915.4" font-size="19.0" text-anchor="end">HY</text>
<text transform="translate(1825.3 2010.7) rotate(-90)" font-size="19.0" text-anchor="end">HY</text>
<text x="1659.3" y="1976.6" font-size="19.0" text-anchor="end">MY</text>
<text transform="translate(1886.7 2010.7) rotate(-90)" font-size="19.0" text-anchor="end">MY</text>
<rect x="65.2" y="2103.2" width="245.4" height="245" fill="#440154"/>
<path d="M126.6 2103.2h61.6v61.5h-61.6zM65.2 2164.5h61.6v61.5h-61.6z" fill="#31688e"/>
<path d="M187.9 2103.2h61.6v61.5h-61.6zM65.2 2225.8h61.6v61.5h-61.6z" fill="#35b779"/>
<path d="M249.2 2225.8h61.6v61.5h-61.6zM187.9 2287h61.6v61.5h-61.6z" fill="#4ec36b"/>
<path d="M249.2 2103.2h61.6v61.5h-61.6zM249.2 2164.5h61.6v61.5h-61.6zM65.2 2287h61.6v61.5h-61.6zM126.6 2287h61.6v61.5h-61.6z" fill="#6ece58"/>
<path d="M187.9 2164.5h61.6v61.5h-61.6zM126.6 2225.8h61.6v61.5h-61.6z" fill="#ece51b"/>
<rect x="65.2" y="2103.2" width="245.4" height="245" fill="none" stroke="#000" stroke-width="1.1"/>
<path d="M95.9 2348.2v4.8M65.2 2133.9h-4.8M157.2 2348.2v4.8M65.2 2195.1h-4.8M218.6 2348.2v4.8M65.2 2256.4h-4.8M279.9 2348.2v4.8M65.2 2317.6h-4.8" stroke="#000" stroke-width="1.2" fill="none"/>
<text x="168.8" y="2095.3" font-size="23.3" text-anchor="start">MRN</text>
<text x="54.8" y="2138.9" font-size="19.0" text-anchor="end">PAL</text>
<text transform="translate(100.5 2356.7) rotate(-90)" font-size="19.0" text-anchor="end">PAL</text>
<text x="54.8" y="2200.1" font-size="19.0" text-anchor="end">P</text>
<text transform="translate(161.8 2356.7) rotate(-90)" font-size="19.0" text-anchor="end">P</text>
<text x="54.8" y="2261.4" font-size="19.0" text-anchor="end">PTLp</text>
<text transform="translate(223.2 2356.7) rotate(-90)" font-size="19.0" text-anchor="end">PTLp</text>
<text x="54.8" y="2322.6" font-size="19.0" text-anchor="end">MOB</text>
<text transform="translate(284.5 2356.7) rotate(-90)" font-size="19.0" text-anchor="end">MOB</text>
<rect x="385.6" y="2103.2" width="245.4" height="245" fill="#440154"/>
<path d="M569.7 2271.7h15.6v15.6h-15.6zM554.3 2287h15.6v15.6h-15.6z" fill="#481668"/>
<path d="M431.6 2118.6h15.6v15.6h-15.6zM401 2149.2h15.6v15.6h-15.6zM447 2149.2h15.6v15.6h-15.6zM431.6 2164.5h15.6v15.6h-15.6zM462.3 2164.5h15.6v15.6h-15.6zM447 2179.8h15.6v15.6h-15.6z" fill="#443983"/>
<path d="M615.7 2149.2h15.6v15.6h-15.6zM569.7 2225.8h15.6v15.6h-15.6zM569.7 2241.1h15.6v15.6h-15.6zM569.7 2256.4h15.6v15.6h-15.6zM508.3 2287h15.6v15.6h-15.6zM523.7 2287h15.6v15.6h-15.6zM539 2287h15.6v15.6h-15.6zM615.7 2287h15.6v15.6h-15.6zM431.6 2332.9h15.6v15.6h-15.6zM569.7 2332.9h15.6v15.6h-15.6z" fill="#3e4989"/>
<path d="M493 2149.2h15.6v15.6h-15.6zM431.6 2210.4h15.6v15.6h-15.6zM554.3 2256.4h15.6v15.6h-15.6zM539 2271.7h15.6v15.6h-15.6z" fill="#375a8c"/>
<path d="M431.6 2133.9h15.6v15.6h-15.6zM416.3 2149.2h15.6v15.6h-15.6zM508.3 2149.2h15.6v15.6h-15.6zM523.7 2149.2h15.6v15.6h-15.6zM539 2149.2h15.6v15.6h-15.6zM554.3 2149.2h15.6v15.6h-15.6zM569.7 2149.2h15.6v15.6h-15.6zM585 2149.2h15.6v15.6h-15.6zM431.6 2225.8h15.6v15.6h-15.6zM554.3 2225.8h15.6v15.6h-15.6zM431.6 2241.1h15.6v15.6h-15.6zM431.6 2256.4h15.6v15.6h-15.6zM431.6 2271.7h15.6v15.6h-15.6zM508.3 2271.7h15.6v15.6h-15.6zM431.6 2287h15.6v15.6h-15.6zM431.6 2302.3h15.6v15.6h-15.6z" fill="#31688e"/>
<path d="M615.7 2164.5h15.6v15.6h-15.6zM615.7 2317.6h15.6v15.6h-15.6zM447 2332.9h15.6v15.6h-15.6zM600.4 2332.9h15.6v15.6h-15.6z" fill="#2b758e"/>
<path d="M493 2118.6h15.6v15.6h-15.6zM554.3 2118.6h15.6v15.6h-15.6zM477.7 2149.2h15.6v15.6h-15.6zM615.7 2179.8h15.6v15.6h-15.6zM431.6 2195.1h15.6v15.6h-15.6zM493 2195.1h15.6v15.6h-15.6zM401 2210.4h15.6v15.6h-15.6zM477.7 2210.4h15.6v15.6h-15.6zM539 2241.1h15.6v15.6h-15.6zM554.3 2241.1h15.6v15.6h-15.6zM523.7 2256.4h15.6v15.6h-15.6zM401 2271.7h15.6v15.6h-15.6zM523.7 2271.7h15.6v15.6h-15.6zM615.7 2271.7h15.6v15.6h-15.6zM462.3 2332.9h15.6v15.6h-15.6zM554.3 2332.9h15.6v15.6h-15.6z" fill="#26828e"/>
<path d="M462.3 2103.2h15.6v15.6h-15.6zM462.3 2133.9h15.6v15.6h-15.6zM493 2164.5h15.6v15.6h-15.6zM385.6 2179.8h15.6v15.6h-15.6zM416.3 2179.8h15.6v15.6h-15.6zM447 2210.4h15.6v15.6h-15.6zM523.7 2210.4h15.6v15.6h-15.6zM569.7 2210.4h15.6v15.6h-15.6zM523.7 2225.8h15.6v15.6h-15.6zM493 2241.1h15.6v15.6h-15.6zM508.3 2241.1h15.6v15.6h-15.6zM615.7 2241.1h15.6v15.6h-15.6zM493 2287h15.6v15.6h-15.6zM523.7 2332.9h15.6v15.6h-15.6z" fill="#21918c"/>
<path d="M447 2118.6h15.6v15.6h-15.6zM462.3 2118.6h15.6v15.6h-15.6zM493 2133.9h15.6v15.6h-15.6zM600.4 2149.2h15.6v15.6h-15.6zM401 2164.5h15.6v15.6h-15.6zM401 2179.8h15.6v15.6h-15.6zM416.3 2210.4h15.6v15.6h-15.6zM554.3 2210.4h15.6v15.6h-15.6zM615.7 2210.4h15.6v15.6h-15.6zM539 2225.8h15.6v15.6h-15.6zM508.3 2256.4h15.6v15.6h-15.6zM615.7 2256.4h15.6v15.6h-15.6zM493 2271.7h15.6v15.6h-15.6zM431.6 2317.6h15.6v15.6h-15.6zM493 2332.9h15.6v15.6h-15.6zM539 2332.9h15.6v15.6h-15.6z" fill="#1f9e89"/>
<path d="M585 2118.6h15.6v15.6h-15.6zM477.7 2164.5h15.6v15.6h-15.6zM493 2179.8h15.6v15.6h-15.6zM447 2195.1h15.6v15.6h-15.6zM462.3 2210.4h15.6v15.6h-15.6zM615.7 2225.8h15.6v15.6h-15.6zM600.4 2271.7h15.6v15.6h-15.6zM600.4 2287h15.6v15.6h-15.6zM401 2302.3h15.6v15.6h-15.6zM600.4 2302.3h15.6v15.6h-15.6zM615.7 2302.3h15.6v15.6h-15.6zM554.3 2317.6h15.6v15.6h-15.6zM569.7 2317.6h15.6v15.6h-15.6zM585 2317.6h15.6v15.6h-15.6zM508.3 2332.9h15.6v15.6h-15.6zM585 2332.9h15.6v15.6h-15.6z" fill="#25ab82"/>
<path d="M431.6 2103.2h15.6v15.6h-15.6zM539 2118.6h15.6v15.6h-15.6zM569.7 2118.6h15.6v15.6h-15.6zM447 2133.9h15.6v15.6h-15.6zM385.6 2149.2h15.6v15.6h-15.6zM416.3 2164.5h15.6v15.6h-15.6zM523.7 2164.5h15.6v15.6h-15.6zM477.7 2179.8h15.6v15.6h-15.6zM462.3 2195.1h15.6v15.6h-15.6zM539 2210.4h15.6v15.6h-15.6zM447 2241.1h15.6v15.6h-15.6zM401 2256.4h15.6v15.6h-15.6zM493 2256.4h15.6v15.6h-15.6zM401 2287h15.6v15.6h-15.6z" fill="#35b779"/>
<path d="M401 2103.2h15.6v15.6h-15.6zM447 2103.2h15.6v15.6h-15.6zM385.6 2118.6h15.6v15.6h-15.6zM615.7 2118.6h15.6v15.6h-15.6zM554.3 2133.9h15.6v15.6h-15.6zM385.6 2164.5h15.6v15.6h-15.6zM539 2164.5h15.6v15.6h-15.6zM569.7 2164.5h15.6v15.6h-15.6zM508.3 2210.4h15.6v15.6h-15.6zM493 2225.8h15.6v15.6h-15.6zM447 2256.4h15.6v15.6h-15.6zM600.4 2256.4h15.6v15.6h-15.6zM416.3 2271.7h15.6v15.6h-15.6zM447 2287h15.6v15.6h-15.6zM539 2317.6h15.6v15.6h-15.6zM401 2332.9h15.6v15.6h-15.6z" fill="#4ec36b"/>
<path d="M477.7 2118.6h15.6v15.6h-15.6zM508.3 2118.6h15.6v15.6h-15.6zM523.7 2118.6h15.6v15.6h-15.6zM600.4 2118.6h15.6v15.6h-15.6zM539 2133.9h15.6v15.6h-15.6zM554.3 2164.5h15.6v15.6h-15.6zM585 2164.5h15.6v15.6h-15.6zM600.4 2164.5h15.6v15.6h-15.6zM569.7 2179.8h15.6v15.6h-15.6zM585 2179.8h15.6v15.6h-15.6zM600.4 2179.8h15.6v15.6h-15.6zM401 2195.1h15.6v15.6h-15.6zM600.4 2210.4h15.6v15.6h-15.6zM401 2225.8h15.6v15.6h-15.6zM401 2241.1h15.6v15.6h-15.6zM416.3 2256.4h15.6v15.6h-15.6zM447 2271.7h15.6v15.6h-15.6zM462.3 2287h15.6v15.6h-15.6zM447 2302.3h15.6v15.6h-15.6zM462.3 2302.3h15.6v15.6h-15.6zM401 2317.6h15.6v15.6h-15.6zM447 2317.6h15.6v15.6h-15.6zM462.3 2317.6h15.6v15.6h-15.6zM493 2317.6h15.6v15.6h-15.6z" fill="#6ece58"/>
<path d="M416.3 2103.2h15.6v15.6h-15.6zM477.7 2103.2h15.6v15.6h-15.6zM493 2103.2h15.6v15.6h-15.6zM615.7 2103.2h15.6v15.6h-15.6zM385.6 2133.9h15.6v15.6h-15.6zM477.7 2133.9h15.6v15.6h-15.6zM585 2133.9h15.6v15.6h-15.6zM615.7 2133.9h15.6v15.6h-15.6zM539 2179.8h15.6v15.6h-15.6zM554.3 2179.8h15.6v15.6h-15.6zM385.6 2195.1h15.6v15.6h-15.6zM416.3 2195.1h15.6v15.6h-15.6zM615.7 2195.1h15.6v15.6h-15.6zM385.6 2210.4h15.6v15.6h-15.6zM600.4 2225.8h15.6v15.6h-15.6zM600.4 2241.1h15.6v15.6h-15.6zM462.3 2256.4h15.6v15.6h-15.6zM585 2256.4h15.6v15.6h-15.6zM462.3 2271.7h15.6v15.6h-15.6zM585 2271.7h15.6v15.6h-15.6zM416.3 2302.3h15.6v15.6h-15.6zM539 2302.3h15.6v15.6h-15.6zM554.3 2302.3h15.6v15.6h-15.6zM508.3 2317.6h15.6v15.6h-15.6zM523.7 2317.6h15.6v15.6h-15.6zM385.6 2332.9h15.6v15.6h-15.6zM416.3 2332.9h15.6v15.6h-15.6zM477.7 2332.9h15.6v15.6h-15.6z" fill="#90d743"/>
<path d="M585 2103.2h15.6v15.6h-15.6zM600.4 2103.2h15.6v15.6h-15.6zM508.3 2133.9h15.6v15.6h-15.6zM523.7 2133.9h15.6v15.6h-15.6zM569.7 2133.9h15.6v15.6h-15.6zM600.4 2133.9h15.6v15.6h-15.6zM508.3 2164.5h15.6v15.6h-15.6zM508.3 2179.8h15.6v15.6h-15.6zM523.7 2179.8h15.6v15.6h-15.6zM600.4 2195.1h15.6v15.6h-15.6zM585 2210.4h15.6v15.6h-15.6zM416.3 2225.8h15.6v15.6h-15.6zM447 2225.8h15.6v15.6h-15.6zM462.3 2225.8h15.6v15.6h-15.6zM416.3 2241.1h15.6v15.6h-15.6zM462.3 2241.1h15.6v15.6h-15.6zM416.3 2287h15.6v15.6h-15.6zM385.6 2302.3h15.6v15.6h-15.6zM493 2302.3h15.6v15.6h-15.6zM385.6 2317.6h15.6v15.6h-15.6zM416.3 2317.6h15.6v15.6h-15.6zM477.7 2317.6h15.6v15.6h-15.6z" fill="#b5de2b"/>
<path d="M523.7 2195.1h15.6v15.6h-15.6zM569.7 2195.1h15.6v15.6h-15.6zM585 2225.8h15.6v15.6h-15.6zM477.7 2241.1h15.6v15.6h-15.6zM585 2241.1h15.6v15.6h-15.6zM477.7 2287h15.6v15.6h-15.6zM585 2287h15.6v15.6h-15.6zM508.3 2302.3h15.6v15.6h-15.6zM523.7 2302.3h15.6v15.6h-15.6zM569.7 2302.3h15.6v15.6h-15.6z" fill="#dae319"/>
<path d="M523.7 2103.2h15.6v15.6h-15.6zM539 2103.2h15.6v15.6h-15.6zM554.3 2103.2h15.6v15.6h-15.6zM508.3 2195.1h15.6v15.6h-15.6zM539 2195.1h15.6v15.6h-15.6zM554.3 2195.1h15.6v15.6h-15.6zM585 2195.1h15.6v15.6h-15.6zM477.7 2225.8h15.6v15.6h-15.6zM385.6 2241.1h15.6v15.6h-15.6zM385.6 2256.4h15.6v15.6h-15.6zM477.7 2256.4h15.6v15.6h-15.6zM385.6 2271.7h15.6v15.6h-15.6zM477.7 2271.7h15.6v15.6h-15.6zM477.7 2302.3h15.6v15.6h-15.6z" fill="#ece51b"/>
<path d="M508.3 2103.2h15.6v15.6h-15.6zM569.7 2103.2h15.6v15.6h-15.6zM385.6 2225.8h15.6v15.6h-15.6zM385.6 2287h15.6v15.6h-15.6z" fill="#fde725"/>
<rect x="385.6" y="2103.2" width="245.4" height="245" fill="none" stroke="#000" stroke-width="1.1"/>
<path d="M393.3 2348.2v4.8M385.6 2110.9h-4.8M408.6 2348.2v4.8M385.6 2126.2h-4.8M424 2348.2v4.8M385.6 2141.5h-4.8M439.3 2348.2v4.8M385.6 2156.8h-4.8M454.6 2348.2v4.8M385.6 2172.2h-4.8M470 2348.2v4.8M385.6 2187.5h-4.8M485.3 2348.2v4.8M385.6 2202.8h-4.8M500.7 2348.2v4.8M385.6 2218.1h-4.8M516 2348.2v4.8M385.6 2233.4h-4.8M531.3 2348.2v4.8M385.6 2248.7h-4.8M546.7 2348.2v4.8M385.6 2264h-4.8M562 2348.2v4.8M385.6 2279.3h-4.8M577.3 2348.2v4.8M385.6 2294.7h-4.8M592.7 2348.2v4.8M385.6 2310h-4.8M608 2348.2v4.8M385.6 2325.3h-4.8M623.4 2348.2v4.8M385.6 2340.6h-4.8" stroke="#000" stroke-width="1.2" fill="none"/>
<text x="492.6" y="2095.3" font-size="23.3" text-anchor="start">VTA</text>
<text x="375.2" y="2115.9" font-size="19.0" text-anchor="end">RSP</text>
<text transform="translate(397.9 2356.7) rotate(-90)" font-size="19.0" text-anchor="end">RSP</text>
<text x="375.2" y="2131.2" font-size="19.0" text-anchor="end">MOp</text>
<text transform="translate(413.2 2356.7) rotate(-90)" font-size="19.0" text-anchor="end">MOp</text>
<text x="375.2" y="2146.5" font-size="19.0" text-anchor="end">SSp</text>
<text transform="translate(428.6 2356.7) rotate(-90)" font-size="19.0" text-anchor="end">SSp</text>
<text x="375.2" y="2161.8" font-size="19.0" text-anchor="end">PIR</text>
<text transform="translate(443.9 2356.7) rotate(-90)" font-size="19.0" text-anchor="end">PIR</text>
<text x="375.2" y="2177.2" font-size="19.0" text-anchor="end">ACA</text>
<text transform="translate(459.2 2356.7) rotate(-90)" font-size="19.0" text-anchor="end">ACA</text>
<text x="375.2" y="2192.5" font-size="19.0" text-anchor="end">PTLp</text>
<text transform="translate(474.6 2356.7) rotate(-90)" font-size="19.0" text-anchor="end">PTLp</text>
<text x="375.2" y="2207.8" font-size="19.0" text-anchor="end">ENT</text>
<text transform="translate(489.9 2356.7) rotate(-90)" font-size="19.0" text-anchor="end">ENT</text>
<text x="375.2" y="2223.1" font-size="19.0" text-anchor="end">AMY</text>
<text transform="translate(505.3 2356.7) rotate(-90)" font-size="19.0" text-anchor="end">AMY</text>
<text x="375.2" y="2238.4" font-size="19.0" text-anchor="end">SC</text>
<text transform="translate(520.6 2356.7) rotate(-90)" font-size="19.0" text-anchor="end">SC</text>
<text x="375.2" y="2253.7" font-size="19.0" text-anchor="end">P</text>
<text transform="translate(535.9 2356.7) rotate(-90)" font-size="19.0" text-anchor="end">P</text>
<text x="375.2" y="2269" font-size="19.0" text-anchor="end">STR</text>
<text transform="translate(551.3 2356.7) rotate(-90)" font-size="19.0" text-anchor="end">STR</text>
<text x="375.2" y="2284.3" font-size="19.0" text-anchor="end">PAL</text>
<text transform="translate(566.6 2356.7) rotate(-90)" font-size="19.0" text-anchor="end">PAL</text>
<text x="375.2" y="2299.7" font-size="19.0" text-anchor="end">TH</text>
<text transform="translate(581.9 2356.7) rotate(-90)" font-size="19.0" text-anchor="end">TH</text>
<text x="375.2" y="2315" font-size="19.0" text-anchor="end">PFC</text>
<text transform="translate(597.3 2356.7) rotate(-90)" font-size="19.0" text-anchor="end">PFC</text>
<text x="375.2" y="2330.3" font-size="19.0" text-anchor="end">MOB</text>
<text transform="translate(612.6 2356.7) rotate(-90)" font-size="19.0" text-anchor="end">MOB</text>
<text x="375.2" y="2345.6" font-size="19.0" text-anchor="end">HY</text>
<text transform="translate(628 2356.7) rotate(-90)" font-size="19.0" text-anchor="end">HY</text>
<rect x="706.1" y="2103.2" width="245.4" height="245" fill="#440154"/>
<path d="M890.1 2225.8h61.6v61.5h-61.6zM828.8 2287h61.6v61.5h-61.6z" fill="#375a8c"/>
<path d="M890.1 2103.2h61.6v61.5h-61.6zM706.1 2287h61.6v61.5h-61.6z" fill="#21918c"/>
<path d="M828.8 2164.5h61.6v61.5h-61.6zM890.1 2164.5h61.6v61.5h-61.6zM767.4 2225.8h61.6v61.5h-61.6zM767.4 2287h61.6v61.5h-61.6z" fill="#1f9e89"/>
<path d="M828.8 2103.2h61.6v61.5h-61.6zM706.1 2225.8h61.6v61.5h-61.6z" fill="#6ece58"/>
<rect x="706.1" y="2103.2" width="245.4" height="245" fill="none" stroke="#000" stroke-width="1.1"/>
<path d="M736.7 2348.2v4.8M706.1 2133.9h-4.8M798.1 2348.2v4.8M706.1 2195.1h-4.8M859.4 2348.2v4.8M706.1 2256.4h-4.8M920.8 2348.2v4.8M706.1 2317.6h-4.8" stroke="#000" stroke-width="1.2" fill="none"/>
<text x="811.7" y="2095.3" font-size="23.3" text-anchor="start">PAG</text>
<text x="698" y="2138.9" font-size="19.0" text-anchor="end">HY</text>
<text transform="translate(741.3 2356.7) rotate(-90)" font-size="19.0" text-anchor="end">HY</text>
<text x="698" y="2200.1" font-size="19.0" text-anchor="end">P</text>
<text transform="translate(802.7 2356.7) rotate(-90)" font-size="19.0" text-anchor="end">P</text>
<text x="698" y="2261.4" font-size="19.0" text-anchor="end">MOB</text>
<text transform="translate(864 2356.7) rotate(-90)" font-size="19.0" text-anchor="end">MOB</text>
<text x="698" y="2322.6" font-size="19.0" text-anchor="end">PAL</text>
<text transform="translate(925.4 2356.7) rotate(-90)" font-size="19.0" text-anchor="end">PAL</text>
<rect x="1026.5" y="2103.2" width="245.4" height="245" fill="#440154"/>
<path d="M1149.2 2103.2h123v122.8h-123zM1026.5 2225.8h123v122.8h-123z" fill="#ece51b"/>
<rect x="1026.5" y="2103.2" width="245.4" height="245" fill="none" stroke="#000" stroke-width="1.1"/>
<path d="M1087.8 2348.2v4.8M1026.5 2164.5h-4.8M1210.5 2348.2v4.8M1026.5 2287h-4.8" stroke="#000" stroke-width="1.2" fill="none"/>
<text x="1140.8" y="2095.3" font-size="23.3" text-anchor="start">IC</text>
<text x="1018.4" y="2169.5" font-size="19.0" text-anchor="end">PTLp</text>
<text transform="translate(1092.4 2356.7) rotate(-90)" font-size="19.0" text-anchor="end">PTLp</text>
<text x="1018.4" y="2292" font-size="19.0" text-anchor="end">HY</text>
<text transform="translate(1215.1 2356.7) rotate(-90)" font-size="19.0" text-anchor="end">HY</text>
<rect x="1346.9" y="2103.2" width="245.4" height="245" fill="#440154"/>
<path d="M1469.6 2184.9h41.2v41.1h-41.2zM1428.7 2225.8h41.2v41.1h-41.2z" fill="#31688e"/>
<path d="M1551.4 2266.6h41.2v41.1h-41.2zM1510.5 2307.4h41.2v41.1h-41.2z" fill="#26828e"/>
<path d="M1551.4 2184.9h41.2v41.1h-41.2zM1551.4 2225.8h41.2v41.1h-41.2zM1428.7 2307.4h41.2v41.1h-41.2zM1469.6 2307.4h41.2v41.1h-41.2z" fill="#1f9e89"/>
<path d="M1469.6 2144.1h41.2v41.1h-41.2zM1510.5 2144.1h41.2v41.1h-41.2zM1387.8 2225.8h41.2v41.1h-41.2zM1387.8 2266.6h41.2v41.1h-41.2z" fill="#35b779"/>
<path d="M1551.4 2103.2h41.2v41.1h-41.2zM1510.5 2184.9h41.2v41.1h-41.2zM1510.5 2225.8h41.2v41.1h-41.2zM1428.7 2266.6h41.2v41.1h-41.2zM1469.6 2266.6h41.2v41.1h-41.2zM1346.9 2307.4h41.2v41.1h-41.2z" fill="#6ece58"/>
<path d="M1428.7 2144.1h41.2v41.1h-41.2zM1551.4 2144.1h41.2v41.1h-41.2zM1387.8 2184.9h41.2v41.1h-41.2zM1387.8 2307.4h41.2v41.1h-41.2z" fill="#b5de2b"/>
<path d="M1510.5 2103.2h41.2v41.1h-41.2zM1346.9 2266.6h41.2v41.1h-41.2z" fill="#dae319"/>
<path d="M1387.8 2103.2h41.2v41.1h-41.2zM1428.7 2103.2h41.2v41.1h-41.2zM1469.6 2103.2h41.2v41.1h-41.2zM1346.9 2144.1h41.2v41.1h-41.2zM1346.9 2184.9h41.2v41.1h-41.2zM1346.9 2225.8h41.2v41.1h-41.2z" fill="#ece51b"/>
<rect x="1346.9" y="2103.2" width="245.4" height="245" fill="none" stroke="#000" stroke-width="1.1"/>
<path d="M1367.4 2348.2v4.8M1346.9 2123.7h-4.8M1408.3 2348.2v4.8M1346.9 2164.5h-4.8M1449.2 2348.2v4.8M1346.9 2205.3h-4.8M1490.1 2348.2v4.8M1346.9 2246.2h-4.8M1531 2348.2v4.8M1346.9 2287h-4.8M1571.9 2348.2v4.8M1346.9 2327.8h-4.8" stroke="#000" stroke-width="1.2" fill="none"/>
<text x="1464" y="2095.3" font-size="23.3" text-anchor="start">P</text>
<text x="1338.8" y="2128.7" font-size="19.0" text-anchor="end">CBX</text>
<text transform="translate(1372 2356.7) rotate(-90)" font-size="19.0" text-anchor="end">CBX</text>
<text x="1338.8" y="2169.5" font-size="19.0" text-anchor="end">SC</text>
<text transform="translate(1412.9 2356.7) rotate(-90)" font-size="19.0" text-anchor="end">SC</text>
<text x="1338.8" y="2210.3" font-size="19.0" text-anchor="end">TH</text>
<text transform="translate(1453.8 2356.7) rotate(-90)" font-size="19.0" text-anchor="end">TH</text>
<text x="1338.8" y="2251.2" font-size="19.0" text-anchor="end">HY</text>
<text transform="translate(1494.7 2356.7) rotate(-90)" font-size="19.0" text-anchor="end">HY</text>
<text x="1338.8" y="2292" font-size="19.0" text-anchor="end">MY</text>
<text transform="translate(1535.6 2356.7) rotate(-90)" font-size="19.0" text-anchor="end">MY</text>
<text x="1338.8" y="2332.8" font-size="19.0" text-anchor="end">CBN</text>
<text transform="translate(1576.5 2356.7) rotate(-90)" font-size="19.0" text-anchor="end">CBN</text>
<rect x="1667.4" y="2103.2" width="245.4" height="245" fill="#440154"/>
<path d="M1716.4 2103.2h49.4v49.3h-49.4zM1667.4 2152.2h49.4v49.3h-49.4z" fill="#443983"/>
<path d="M1814.6 2201.2h49.4v49.3h-49.4zM1863.7 2201.2h49.4v49.3h-49.4zM1765.5 2250.2h49.4v49.3h-49.4zM1765.5 2299.2h49.4v49.3h-49.4z" fill="#26828e"/>
<path d="M1765.5 2103.2h49.4v49.3h-49.4zM1667.4 2201.2h49.4v49.3h-49.4z" fill="#4ec36b"/>
<path d="M1814.6 2103.2h49.4v49.3h-49.4zM1667.4 2250.2h49.4v49.3h-49.4z" fill="#90d743"/>
<path d="M1863.7 2103.2h49.4v49.3h-49.4zM1765.5 2152.2h49.4v49.3h-49.4zM1814.6 2152.2h49.4v49.3h-49.4zM1863.7 2152.2h49.4v49.3h-49.4zM1716.4 2201.2h49.4v49.3h-49.4zM1716.4 2250.2h49.4v49.3h-49.4zM1667.4 2299.2h49.4v49.3h-49.4zM1716.4 2299.2h49.4v49.3h-49.4z" fill="#b5de2b"/>
<rect x="1667.4" y="2103.2" width="245.4" height="245" fill="none" stroke="#000" stroke-width="1.1"/>
<path d="M1691.9 2348.2v4.8M1667.4 2127.8h-4.8M1741 2348.2v4.8M1667.4 2176.8h-4.8M1790.1 2348.2v4.8M1667.4 2225.8h-4.8M1839.1 2348.2v4.8M1667.4 2274.8h-4.8M1888.2 2348.2v4.8M1667.4 2323.8h-4.8" stroke="#000" stroke-width="1.2" fill="none"/>
<text x="1777.5" y="2095.3" font-size="23.3" text-anchor="start">MY</text>
<text x="1659.3" y="2132.8" font-size="19.0" text-anchor="end">CBN</text>
<text transform="translate(1696.5 2356.7) rotate(-90)" font-size="19.0" text-anchor="end">CBN</text>
<text x="1659.3" y="2181.8" font-size="19.0" text-anchor="end">CBX</text>
<text transform="translate(1745.6 2356.7) rotate(-90)" font-size="19.0" text-anchor="end">CBX</text>
<text x="1659.3" y="2230.8" font-size="19.0" text-anchor="end">HY</text>
<text transform="translate(1794.7 2356.7) rotate(-90)" font-size="19.0" text-anchor="end">HY</text>
<text x="1659.3" y="2279.8" font-size="19.0" text-anchor="end">TH</text>
<text transform="translate(1843.7 2356.7) rotate(-90)" font-size="19.0" text-anchor="end">TH</text>
<text x="1659.3" y="2328.8" font-size="19.0" text-anchor="end">SC</text>
<text transform="translate(1892.8 2356.7) rotate(-90)" font-size="19.0" text-anchor="end">SC</text>
<path d="M130.5 2468.5h76.2v14.5h-76.2z" fill="#21918c"/>
<rect x="130.5" y="2468.5" width="2.3" height="14.5" fill="#450559"/>
<rect x="132.5" y="2468.5" width="2.3" height="14.5" fill="#471063"/>
<rect x="134.5" y="2468.5" width="2.3" height="14.5" fill="#48186a"/>
<rect x="136.5" y="2468.5" width="2.3" height="14.5" fill="#482173"/>
<rect x="138.5" y="2468.5" width="2.3" height="14.5" fill="#472a7a"/>
<rect x="140.5" y="2468.5" width="2.3" height="14.5" fill="#46337f"/>
<rect x="142.5" y="2468.5" width="2.3" height="14.5" fill="#443a83"/>
<rect x="144.5" y="2468.5" width="2.3" height="14.5" fill="#414287"/>
<rect x="146.5" y="2468.5" width="2.3" height="14.5" fill="#3e4a89"/>
<rect x="148.5" y="2468.5" width="2.3" height="14.5" fill="#3b528b"/>
<rect x="150.6" y="2468.5" width="2.3" height="14.5" fill="#38598c"/>
<rect x="152.6" y="2468.5" width="2.3" height="14.5" fill="#34608d"/>
<rect x="154.6" y="2468.5" width="2.3" height="14.5" fill="#31678e"/>
<rect x="156.6" y="2468.5" width="2.3" height="14.5" fill="#2e6d8e"/>
<rect x="158.6" y="2468.5" width="2.3" height="14.5" fill="#2c738e"/>
<rect x="160.6" y="2468.5" width="2.3" height="14.5" fill="#297a8e"/>
<rect x="162.6" y="2468.5" width="2.3" height="14.5" fill="#26818e"/>
<rect x="164.6" y="2468.5" width="2.3" height="14.5" fill="#24868e"/>
<rect x="166.6" y="2468.5" width="2.3" height="14.5" fill="#228d8d"/>
<rect x="168.6" y="2468.5" width="2.3" height="14.5" fill="#20938c"/>
<rect x="170.6" y="2468.5" width="2.3" height="14.5" fill="#1f9a8a"/>
<rect x="172.6" y="2468.5" width="2.3" height="14.5" fill="#1fa088"/>
<rect x="174.6" y="2468.5" width="2.3" height="14.5" fill="#21a685"/>
<rect x="176.6" y="2468.5" width="2.3" height="14.5" fill="#26ad81"/>
<rect x="178.6" y="2468.5" width="2.3" height="14.5" fill="#2eb37c"/>
<rect x="180.6" y="2468.5" width="2.3" height="14.5" fill="#37b878"/>
<rect x="182.6" y="2468.5" width="2.3" height="14.5" fill="#42be71"/>
<rect x="184.6" y="2468.5" width="2.3" height="14.5" fill="#50c46a"/>
<rect x="186.6" y="2468.5" width="2.3" height="14.5" fill="#5ec962"/>
<rect x="188.7" y="2468.5" width="2.3" height="14.5" fill="#6ccd5a"/>
<rect x="190.7" y="2468.5" width="2.3" height="14.5" fill="#7cd250"/>
<rect x="192.7" y="2468.5" width="2.3" height="14.5" fill="#8ed645"/>
<rect x="194.7" y="2468.5" width="2.3" height="14.5" fill="#9dd93b"/>
<rect x="196.7" y="2468.5" width="2.3" height="14.5" fill="#b0dd2f"/>
<rect x="198.7" y="2468.5" width="2.3" height="14.5" fill="#c2df23"/>
<rect x="200.7" y="2468.5" width="2.3" height="14.5" fill="#d5e21a"/>
<rect x="202.7" y="2468.5" width="2.3" height="14.5" fill="#e5e419"/>
<rect x="204.7" y="2468.5" width="2" height="14.5" fill="#f6e620"/>
<rect x="130.5" y="2468.5" width="76.2" height="14.5" fill="none" stroke="#000" stroke-width="1.5"/>
<path d="M130.5 2483v9.2M206.7 2483v9.2" stroke="#000" stroke-width="1.5" fill="none"/>
<text x="42" y="2483" font-size="19.8" text-anchor="start">AUROC</text>
<text x="118" y="2515.8" font-size="19.8" text-anchor="start">0.75</text>
<text x="197.3" y="2515.8" font-size="19.8" text-anchor="start">1.0</text>
</svg>
</body></html>
